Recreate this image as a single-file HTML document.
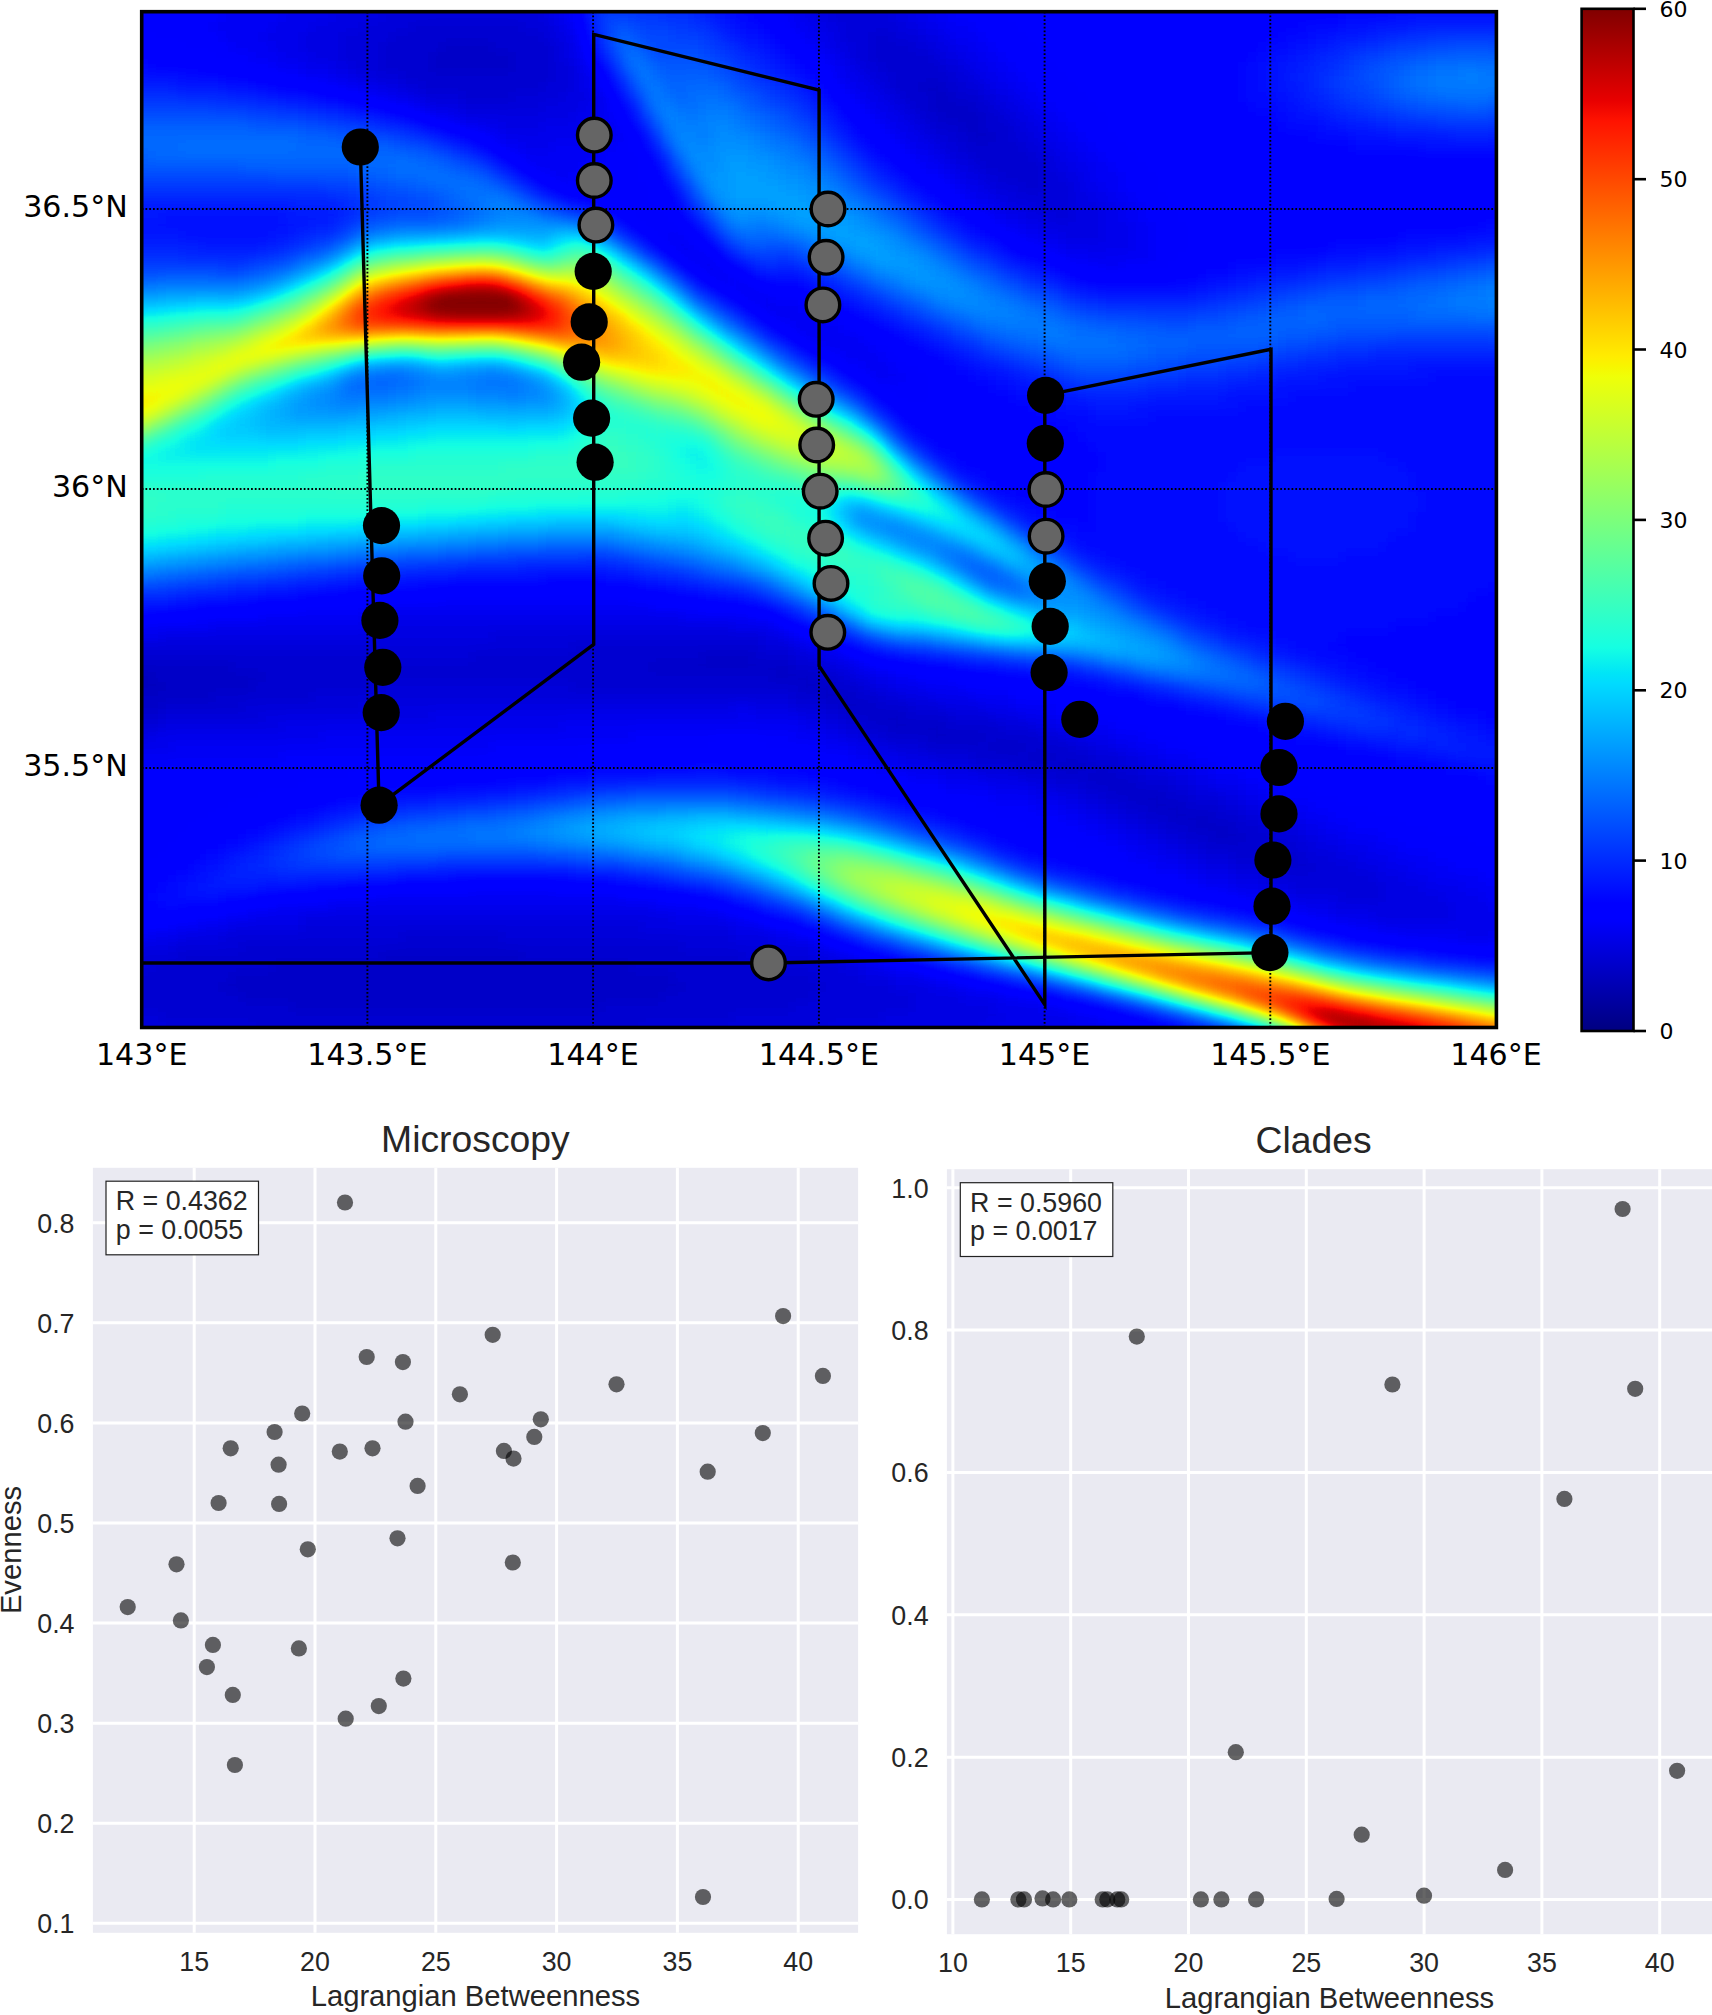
<!DOCTYPE html>
<html><head><meta charset="utf-8"><title>Figure</title>
<style>html,body{margin:0;padding:0;background:#fff}svg{display:block}</style>
</head><body>
<svg width="1712" height="2015" viewBox="0 0 1712 2015">
<rect width="1712" height="2015" fill="#fff"/>
<defs><clipPath id="mapclip"><rect x="141.7" y="11.7" width="1354.7" height="1015.8"/></clipPath><filter id="jet" filterUnits="userSpaceOnUse" x="131.7" y="1.7" width="1390" height="1050" color-interpolation-filters="sRGB"><feGaussianBlur stdDeviation="5.5"/><feComponentTransfer><feFuncR type="table" tableValues="0 0 0 0 0 0 0 0 0 0 0 0 0 0 0 0 0 0 0 0 0 0 0 0 0 0 0 0 0 0 0 0 0 0 0 0 0 0 0 0 0 0 0 0 0 0 0 0 0 0 0 0 0 0 0 0 0 0 0 0 0 0 0 0 0 0 0 0 0 0 0 0.016 0.032 0.048 0.065 0.081 0.097 0.113 0.129 0.145 0.161 0.177 0.194 0.21 0.226 0.242 0.258 0.274 0.29 0.306 0.323 0.339 0.355 0.371 0.387 0.403 0.419 0.435 0.452 0.468 0.484 0.5 0.516 0.532 0.548 0.565 0.581 0.597 0.613 0.629 0.645 0.661 0.677 0.694 0.71 0.726 0.742 0.758 0.774 0.79 0.806 0.823 0.839 0.855 0.871 0.887 0.903 0.919 0.935 0.952 0.968 0.984 1 1 1 1 1 1 1 1 1 1 1 1 1 1 1 1 1 1 1 1 1 1 1 1 1 1 1 1 1 1 1 1 1 1 1 1 1 1 1 1 1 1 1 1 1 1 1 0.977 0.955 0.932 0.909 0.886 0.864 0.841 0.818 0.795 0.773 0.75 0.727 0.705 0.682 0.659 0.636 0.614 0.591 0.568 0.545 0.523 0.5"/><feFuncG type="table" tableValues="0 0 0 0 0 0 0 0 0 0 0 0 0 0 0 0 0 0 0 0 0 0 0 0 0 0 0.02 0.04 0.06 0.08 0.1 0.12 0.14 0.16 0.18 0.2 0.22 0.24 0.26 0.28 0.3 0.32 0.34 0.36 0.38 0.4 0.42 0.44 0.46 0.48 0.5 0.52 0.54 0.56 0.58 0.6 0.62 0.64 0.66 0.68 0.7 0.72 0.74 0.76 0.78 0.8 0.82 0.84 0.86 0.88 0.9 0.92 0.94 0.96 0.98 1 1 1 1 1 1 1 1 1 1 1 1 1 1 1 1 1 1 1 1 1 1 1 1 1 1 1 1 1 1 1 1 1 1 1 1 1 1 1 1 1 1 1 1 1 1 1 1 1 1 1 1 1 1 0.981 0.963 0.944 0.926 0.907 0.889 0.87 0.852 0.833 0.815 0.796 0.778 0.759 0.741 0.722 0.704 0.685 0.667 0.648 0.63 0.611 0.593 0.574 0.556 0.537 0.519 0.5 0.481 0.463 0.444 0.426 0.407 0.389 0.37 0.352 0.333 0.315 0.296 0.278 0.259 0.241 0.222 0.204 0.185 0.167 0.148 0.13 0.111 0.093 0.074 0.056 0.037 0.019 0 0 0 0 0 0 0 0 0 0 0 0 0 0 0 0 0 0 0"/><feFuncB type="table" tableValues="0.5 0.523 0.545 0.568 0.591 0.614 0.636 0.659 0.682 0.705 0.727 0.75 0.773 0.795 0.818 0.841 0.864 0.886 0.909 0.932 0.955 0.977 1 1 1 1 1 1 1 1 1 1 1 1 1 1 1 1 1 1 1 1 1 1 1 1 1 1 1 1 1 1 1 1 1 1 1 1 1 1 1 1 1 1 1 1 1 1 1 0.984 0.968 0.952 0.935 0.919 0.903 0.887 0.871 0.855 0.839 0.823 0.806 0.79 0.774 0.758 0.742 0.726 0.71 0.694 0.677 0.661 0.645 0.629 0.613 0.597 0.581 0.565 0.548 0.532 0.516 0.5 0.484 0.468 0.452 0.435 0.419 0.403 0.387 0.371 0.355 0.339 0.323 0.306 0.29 0.274 0.258 0.242 0.226 0.21 0.194 0.177 0.161 0.145 0.129 0.113 0.097 0.081 0.065 0.048 0.032 0.016 0 0 0 0 0 0 0 0 0 0 0 0 0 0 0 0 0 0 0 0 0 0 0 0 0 0 0 0 0 0 0 0 0 0 0 0 0 0 0 0 0 0 0 0 0 0 0 0 0 0 0 0 0 0 0 0 0 0 0 0 0 0 0 0 0 0 0 0 0 0 0"/><feFuncA type="linear" slope="0" intercept="1"/></feComponentTransfer></filter>
<linearGradient id="cbg" x1="0" y1="0" x2="0" y2="1"><stop offset="0" stop-color="rgb(128,0,0)"/><stop offset="0.09" stop-color="rgb(232,0,0)"/><stop offset="0.11" stop-color="rgb(255,19,0)"/><stop offset="0.34" stop-color="rgb(255,236,0)"/><stop offset="0.35" stop-color="rgb(247,246,0)"/><stop offset="0.36" stop-color="rgb(239,255,8)"/><stop offset="0.625" stop-color="rgb(21,255,226)"/><stop offset="0.65" stop-color="rgb(0,229,247)"/><stop offset="0.66" stop-color="rgb(0,219,255)"/><stop offset="0.875" stop-color="rgb(0,0,255)"/><stop offset="0.89" stop-color="rgb(0,0,255)"/><stop offset="1" stop-color="rgb(0,0,128)"/></linearGradient></defs>
<g clip-path="url(#mapclip)"><g filter="url(#jet)"><g transform="translate(131.7 1.7) scale(10)" shape-rendering="crispEdges"><path fill="#0e0e0e" d="M0 67h2v1h-2zM0 68h3v1h-3z"/><path fill="#101010" d="M31 4h5v1h-5zM30 5h8v1h-8zM30 6h8v1h-8zM79 8h2v1h-2zM80 9h2v1h-2zM80 10h4v1h-4zM81 11h4v1h-4zM83 12h2v1h-2zM84 13h2v1h-2zM57 65h5v1h-5zM0 66h10v1h-10zM52 66h14v1h-14zM2 67h11v1h-11zM64 67h4v1h-4zM3 68h9v1h-9zM67 68h3v1h-3zM0 69h8v1h-8zM69 69h3v1h-3zM0 70h3v1h-3zM71 70h3v1h-3zM74 71h3v1h-3zM76 72h5v1h-5zM80 73h5v1h-5zM86 74h3v1h-3zM90 75h2v1h-2zM93 76h2v1h-2zM96 77h2v1h-2zM98 78h2v1h-2zM100 79h3v1h-3zM102 80h3v1h-3zM104 81h4v1h-4zM106 82h4v1h-4zM108 83h3v1h-3zM25 95h14v1h-14zM14 96h36v1h-36zM10 97h44v1h-44zM9 98h46v1h-46zM11 99h42v1h-42zM16 100h31v1h-31z"/><path fill="#121212" d="M28 2h11v1h-11zM26 3h15v1h-15zM74 3h2v1h-2zM25 4h6v1h-6zM36 4h6v1h-6zM74 4h4v1h-4zM25 5h5v1h-5zM38 5h4v1h-4zM74 5h6v1h-6zM25 6h5v1h-5zM38 6h4v1h-4zM75 6h6v1h-6zM27 7h15v1h-15zM76 7h6v1h-6zM29 8h12v1h-12zM76 8h3v1h-3zM81 8h2v1h-2zM33 9h5v1h-5zM77 9h3v1h-3zM82 9h3v1h-3zM78 10h2v1h-2zM84 10h2v1h-2zM79 11h2v1h-2zM85 11h2v1h-2zM80 12h3v1h-3zM85 12h3v1h-3zM82 13h2v1h-2zM86 13h2v1h-2zM83 14h6v1h-6zM84 15h6v1h-6zM85 16h6v1h-6zM87 17h4v1h-4zM89 18h2v1h-2zM44 64h19v1h-19zM0 65h24v1h-24zM34 65h23v1h-23zM62 65h4v1h-4zM10 66h42v1h-42zM66 66h3v1h-3zM13 67h51v1h-51zM68 67h3v1h-3zM12 68h13v1h-13zM44 68h23v1h-23zM70 68h3v1h-3zM8 69h10v1h-10zM66 69h3v1h-3zM72 69h3v1h-3zM3 70h8v1h-8zM69 70h2v1h-2zM74 70h4v1h-4zM0 71h3v1h-3zM71 71h3v1h-3zM77 71h5v1h-5zM73 72h3v1h-3zM81 72h6v1h-6zM75 73h5v1h-5zM85 73h6v1h-6zM79 74h7v1h-7zM89 74h5v1h-5zM84 75h6v1h-6zM92 75h4v1h-4zM88 76h5v1h-5zM95 76h4v1h-4zM92 77h4v1h-4zM98 77h3v1h-3zM95 78h3v1h-3zM100 78h4v1h-4zM97 79h3v1h-3zM103 79h3v1h-3zM99 80h3v1h-3zM105 80h4v1h-4zM101 81h3v1h-3zM108 81h3v1h-3zM103 82h3v1h-3zM110 82h3v1h-3zM105 83h3v1h-3zM111 83h3v1h-3zM107 84h9v1h-9zM110 85h7v1h-7zM113 86h5v1h-5zM27 93h10v1h-10zM11 94h44v1h-44zM5 95h20v1h-20zM39 95h22v1h-22zM2 96h12v1h-12zM50 96h15v1h-15zM0 97h10v1h-10zM54 97h14v1h-14zM0 98h9v1h-9zM55 98h14v1h-14zM0 99h11v1h-11zM53 99h15v1h-15zM0 100h16v1h-16zM47 100h19v1h-19zM3 101h57v1h-57zM12 102h39v1h-39z"/><path fill="#141414" d="M30 0h8v1h-8zM70 0h4v1h-4zM25 1h16v1h-16zM70 1h6v1h-6zM23 2h5v1h-5zM39 2h3v1h-3zM71 2h6v1h-6zM21 3h5v1h-5zM41 3h1v1h-1zM71 3h3v1h-3zM76 3h3v1h-3zM21 4h4v1h-4zM42 4h1v1h-1zM72 4h2v1h-2zM78 4h2v1h-2zM21 5h4v1h-4zM42 5h1v1h-1zM72 5h2v1h-2zM80 5h1v1h-1zM22 6h3v1h-3zM42 6h2v1h-2zM73 6h2v1h-2zM81 6h2v1h-2zM24 7h3v1h-3zM42 7h2v1h-2zM74 7h2v1h-2zM82 7h2v1h-2zM27 8h2v1h-2zM41 8h3v1h-3zM75 8h1v1h-1zM83 8h2v1h-2zM29 9h4v1h-4zM38 9h5v1h-5zM76 9h1v1h-1zM85 9h1v1h-1zM33 10h8v1h-8zM77 10h1v1h-1zM86 10h1v1h-1zM78 11h1v1h-1zM87 11h1v1h-1zM79 12h1v1h-1zM88 12h1v1h-1zM80 13h2v1h-2zM88 13h2v1h-2zM81 14h2v1h-2zM89 14h2v1h-2zM82 15h2v1h-2zM90 15h2v1h-2zM84 16h1v1h-1zM91 16h1v1h-1zM85 17h2v1h-2zM91 17h2v1h-2zM86 18h3v1h-3zM91 18h3v1h-3zM88 19h6v1h-6zM90 20h4v1h-4zM92 21h2v1h-2zM36 63h27v1h-27zM0 64h44v1h-44zM63 64h3v1h-3zM24 65h10v1h-10zM66 65h2v1h-2zM69 66h1v1h-1zM71 67h1v1h-1zM25 68h19v1h-19zM73 68h1v1h-1zM18 69h48v1h-48zM75 69h2v1h-2zM11 70h12v1h-12zM66 70h3v1h-3zM78 70h3v1h-3zM3 71h10v1h-10zM69 71h2v1h-2zM82 71h4v1h-4zM0 72h3v1h-3zM71 72h2v1h-2zM87 72h3v1h-3zM73 73h2v1h-2zM91 73h2v1h-2zM76 74h3v1h-3zM94 74h2v1h-2zM80 75h4v1h-4zM96 75h3v1h-3zM84 76h4v1h-4zM99 76h2v1h-2zM89 77h3v1h-3zM101 77h3v1h-3zM92 78h3v1h-3zM104 78h2v1h-2zM95 79h2v1h-2zM106 79h3v1h-3zM97 80h2v1h-2zM109 80h2v1h-2zM99 81h2v1h-2zM111 81h2v1h-2zM101 82h2v1h-2zM113 82h2v1h-2zM103 83h2v1h-2zM114 83h3v1h-3zM105 84h2v1h-2zM116 84h2v1h-2zM107 85h3v1h-3zM117 85h3v1h-3zM110 86h3v1h-3zM118 86h4v1h-4zM113 87h11v1h-11zM116 88h9v1h-9zM121 89h4v1h-4zM17 92h34v1h-34zM9 93h18v1h-18zM37 93h23v1h-23zM4 94h7v1h-7zM55 94h9v1h-9zM0 95h5v1h-5zM61 95h7v1h-7zM0 96h2v1h-2zM65 96h6v1h-6zM68 97h5v1h-5zM69 98h7v1h-7zM68 99h10v1h-10zM66 100h12v1h-12zM0 101h3v1h-3zM60 101h15v1h-15zM0 102h12v1h-12zM51 102h19v1h-19zM2 103h60v1h-60zM16 104h32v1h-32z"/><path fill="#161616" d="M22 0h8v1h-8zM38 0h4v1h-4zM68 0h2v1h-2zM74 0h2v1h-2zM20 1h5v1h-5zM41 1h1v1h-1zM68 1h2v1h-2zM76 1h2v1h-2zM18 2h5v1h-5zM42 2h1v1h-1zM69 2h2v1h-2zM77 2h2v1h-2zM17 3h4v1h-4zM42 3h2v1h-2zM70 3h1v1h-1zM79 3h2v1h-2zM17 4h4v1h-4zM43 4h1v1h-1zM70 4h2v1h-2zM80 4h2v1h-2zM18 5h3v1h-3zM43 5h1v1h-1zM71 5h1v1h-1zM81 5h2v1h-2zM20 6h2v1h-2zM44 6h1v1h-1zM72 6h1v1h-1zM83 6h1v1h-1zM22 7h2v1h-2zM44 7h1v1h-1zM73 7h1v1h-1zM84 7h1v1h-1zM25 8h2v1h-2zM44 8h1v1h-1zM74 8h1v1h-1zM85 8h1v1h-1zM28 9h1v1h-1zM43 9h3v1h-3zM75 9h1v1h-1zM86 9h2v1h-2zM30 10h3v1h-3zM41 10h4v1h-4zM76 10h1v1h-1zM87 10h2v1h-2zM33 11h11v1h-11zM77 11h1v1h-1zM88 11h2v1h-2zM37 12h4v1h-4zM78 12h1v1h-1zM89 12h2v1h-2zM79 13h1v1h-1zM90 13h1v1h-1zM80 14h1v1h-1zM91 14h1v1h-1zM81 15h1v1h-1zM92 15h1v1h-1zM82 16h2v1h-2zM92 16h2v1h-2zM83 17h2v1h-2zM93 17h2v1h-2zM85 18h1v1h-1zM94 18h1v1h-1zM86 19h2v1h-2zM94 19h2v1h-2zM87 20h3v1h-3zM94 20h3v1h-3zM89 21h3v1h-3zM94 21h3v1h-3zM91 22h6v1h-6zM93 23h4v1h-4zM24 62h36v1h-36zM3 63h33v1h-33zM63 63h2v1h-2zM66 64h1v1h-1zM68 65h1v1h-1zM70 66h2v1h-2zM72 67h2v1h-2zM74 68h2v1h-2zM77 69h3v1h-3zM23 70h37v1h-37zM62 70h4v1h-4zM81 70h4v1h-4zM13 71h17v1h-17zM67 71h2v1h-2zM86 71h3v1h-3zM3 72h12v1h-12zM69 72h2v1h-2zM90 72h2v1h-2zM0 73h2v1h-2zM71 73h2v1h-2zM93 73h2v1h-2zM74 74h2v1h-2zM96 74h2v1h-2zM77 75h3v1h-3zM99 75h2v1h-2zM81 76h3v1h-3zM101 76h2v1h-2zM85 77h4v1h-4zM104 77h2v1h-2zM90 78h2v1h-2zM106 78h2v1h-2zM93 79h2v1h-2zM109 79h2v1h-2zM95 80h2v1h-2zM111 80h2v1h-2zM97 81h2v1h-2zM113 81h2v1h-2zM99 82h2v1h-2zM115 82h2v1h-2zM101 83h2v1h-2zM117 83h2v1h-2zM103 84h2v1h-2zM118 84h3v1h-3zM105 85h2v1h-2zM120 85h3v1h-3zM107 86h3v1h-3zM122 86h3v1h-3zM110 87h3v1h-3zM124 87h3v1h-3zM113 88h3v1h-3zM125 88h4v1h-4zM116 89h5v1h-5zM125 89h6v1h-6zM120 90h12v1h-12zM17 91h37v1h-37zM124 91h8v1h-8zM10 92h7v1h-7zM51 92h9v1h-9zM5 93h4v1h-4zM60 93h4v1h-4zM1 94h3v1h-3zM64 94h4v1h-4zM68 95h2v1h-2zM71 96h2v1h-2zM73 97h3v1h-3zM76 98h4v1h-4zM78 99h5v1h-5zM78 100h8v1h-8zM75 101h12v1h-12zM70 102h15v1h-15zM0 103h2v1h-2zM62 103h18v1h-18zM0 104h16v1h-16zM48 104h24v1h-24z"/><path fill="#181818" d="M16 0h6v1h-6zM42 0h1v1h-1zM66 0h2v1h-2zM76 0h3v1h-3zM15 1h5v1h-5zM42 1h1v1h-1zM67 1h1v1h-1zM78 1h2v1h-2zM14 2h4v1h-4zM43 2h1v1h-1zM68 2h1v1h-1zM79 2h2v1h-2zM13 3h4v1h-4zM68 3h2v1h-2zM81 3h1v1h-1zM14 4h3v1h-3zM44 4h1v1h-1zM69 4h1v1h-1zM82 4h2v1h-2zM15 5h3v1h-3zM44 5h1v1h-1zM70 5h1v1h-1zM83 5h2v1h-2zM17 6h3v1h-3zM71 6h1v1h-1zM84 6h2v1h-2zM20 7h2v1h-2zM45 7h1v1h-1zM71 7h2v1h-2zM85 7h2v1h-2zM23 8h2v1h-2zM45 8h1v1h-1zM72 8h2v1h-2zM86 8h2v1h-2zM26 9h2v1h-2zM46 9h1v1h-1zM73 9h2v1h-2zM88 9h1v1h-1zM29 10h1v1h-1zM45 10h2v1h-2zM74 10h2v1h-2zM89 10h1v1h-1zM32 11h1v1h-1zM44 11h3v1h-3zM75 11h2v1h-2zM90 11h1v1h-1zM35 12h2v1h-2zM41 12h5v1h-5zM76 12h2v1h-2zM91 12h1v1h-1zM37 13h8v1h-8zM77 13h2v1h-2zM91 13h2v1h-2zM39 14h3v1h-3zM78 14h2v1h-2zM92 14h2v1h-2zM80 15h1v1h-1zM93 15h2v1h-2zM81 16h1v1h-1zM94 16h2v1h-2zM82 17h1v1h-1zM95 17h1v1h-1zM83 18h2v1h-2zM95 18h2v1h-2zM84 19h2v1h-2zM96 19h2v1h-2zM86 20h1v1h-1zM97 20h2v1h-2zM87 21h2v1h-2zM97 21h2v1h-2zM89 22h2v1h-2zM97 22h3v1h-3zM91 23h2v1h-2zM97 23h3v1h-3zM93 24h7v1h-7zM96 25h1v1h-1zM23 61h32v1h-32zM8 62h16v1h-16zM60 62h4v1h-4zM0 63h3v1h-3zM65 63h1v1h-1zM67 64h2v1h-2zM69 65h2v1h-2zM72 66h1v1h-1zM74 67h2v1h-2zM76 68h3v1h-3zM80 69h4v1h-4zM60 70h2v1h-2zM85 70h3v1h-3zM30 71h31v1h-31zM62 71h5v1h-5zM89 71h3v1h-3zM15 72h28v1h-28zM67 72h2v1h-2zM92 72h3v1h-3zM2 73h17v1h-17zM69 73h2v1h-2zM95 73h3v1h-3zM0 74h4v1h-4zM72 74h2v1h-2zM98 74h2v1h-2zM74 75h3v1h-3zM101 75h2v1h-2zM77 76h4v1h-4zM103 76h3v1h-3zM81 77h4v1h-4zM106 77h2v1h-2zM86 78h4v1h-4zM108 78h3v1h-3zM90 79h3v1h-3zM111 79h2v1h-2zM93 80h2v1h-2zM113 80h2v1h-2zM95 81h2v1h-2zM115 81h2v1h-2zM97 82h2v1h-2zM117 82h2v1h-2zM99 83h2v1h-2zM119 83h2v1h-2zM101 84h2v1h-2zM121 84h3v1h-3zM103 85h2v1h-2zM123 85h3v1h-3zM105 86h2v1h-2zM125 86h3v1h-3zM107 87h3v1h-3zM127 87h3v1h-3zM110 88h3v1h-3zM129 88h4v1h-4zM113 89h3v1h-3zM131 89h4v1h-4zM20 90h32v1h-32zM117 90h3v1h-3zM132 90h4v1h-4zM12 91h5v1h-5zM54 91h5v1h-5zM120 91h4v1h-4zM132 91h7v1h-7zM7 92h3v1h-3zM60 92h3v1h-3zM125 92h14v1h-14zM2 93h3v1h-3zM64 93h2v1h-2zM133 93h3v1h-3zM0 94h1v1h-1zM68 94h1v1h-1zM70 95h2v1h-2zM73 96h2v1h-2zM76 97h3v1h-3zM80 98h2v1h-2zM83 99h4v1h-4zM86 100h5v1h-5zM87 101h7v1h-7zM85 102h11v1h-11zM80 103h16v1h-16zM72 104h19v1h-19z"/><path fill="#1a1a1a" d="M9 0h7v1h-7zM43 0h1v1h-1zM65 0h1v1h-1zM79 0h2v1h-2zM9 1h6v1h-6zM43 1h1v1h-1zM66 1h1v1h-1zM80 1h2v1h-2zM8 2h6v1h-6zM66 2h2v1h-2zM81 2h3v1h-3zM9 3h4v1h-4zM44 3h1v1h-1zM67 3h1v1h-1zM82 3h3v1h-3zM10 4h4v1h-4zM68 4h1v1h-1zM84 4h2v1h-2zM12 5h3v1h-3zM69 5h1v1h-1zM85 5h2v1h-2zM14 6h3v1h-3zM45 6h1v1h-1zM70 6h1v1h-1zM86 6h2v1h-2zM17 7h3v1h-3zM46 7h1v1h-1zM70 7h1v1h-1zM87 7h2v1h-2zM21 8h2v1h-2zM46 8h1v1h-1zM71 8h1v1h-1zM88 8h2v1h-2zM24 9h2v1h-2zM47 9h1v1h-1zM72 9h1v1h-1zM89 9h2v1h-2zM28 10h1v1h-1zM47 10h1v1h-1zM73 10h1v1h-1zM90 10h2v1h-2zM30 11h2v1h-2zM47 11h1v1h-1zM74 11h1v1h-1zM91 11h2v1h-2zM33 12h2v1h-2zM46 12h3v1h-3zM75 12h1v1h-1zM92 12h2v1h-2zM36 13h1v1h-1zM45 13h4v1h-4zM76 13h1v1h-1zM93 13h2v1h-2zM37 14h2v1h-2zM42 14h6v1h-6zM77 14h1v1h-1zM94 14h2v1h-2zM39 15h8v1h-8zM78 15h2v1h-2zM95 15h2v1h-2zM40 16h5v1h-5zM79 16h2v1h-2zM96 16h2v1h-2zM42 17h2v1h-2zM81 17h1v1h-1zM96 17h3v1h-3zM82 18h1v1h-1zM97 18h2v1h-2zM83 19h1v1h-1zM98 19h2v1h-2zM84 20h2v1h-2zM99 20h2v1h-2zM86 21h1v1h-1zM99 21h2v1h-2zM87 22h2v1h-2zM100 22h2v1h-2zM54 23h1v1h-1zM89 23h2v1h-2zM100 23h2v1h-2zM54 24h2v1h-2zM91 24h2v1h-2zM100 24h2v1h-2zM55 25h3v1h-3zM93 25h3v1h-3zM97 25h5v1h-5zM57 26h2v1h-2zM97 26h2v1h-2zM58 27h2v1h-2zM60 28h2v1h-2zM61 29h3v1h-3zM63 30h4v1h-4zM64 31h5v1h-5zM66 32h5v1h-5zM67 33h6v1h-6zM69 34h5v1h-5zM71 35h4v1h-4zM73 36h3v1h-3zM74 37h3v1h-3zM26 60h26v1h-26zM13 61h10v1h-10zM55 61h7v1h-7zM1 62h7v1h-7zM64 62h1v1h-1zM66 63h1v1h-1zM69 64h1v1h-1zM71 65h1v1h-1zM73 66h1v1h-1zM76 67h2v1h-2zM79 68h4v1h-4zM84 69h4v1h-4zM88 70h4v1h-4zM61 71h1v1h-1zM92 71h3v1h-3zM43 72h24v1h-24zM95 72h3v1h-3zM19 73h31v1h-31zM66 73h3v1h-3zM98 73h3v1h-3zM4 74h32v1h-32zM69 74h3v1h-3zM100 74h3v1h-3zM0 75h15v1h-15zM72 75h2v1h-2zM103 75h3v1h-3zM74 76h3v1h-3zM106 76h2v1h-2zM78 77h3v1h-3zM108 77h3v1h-3zM81 78h5v1h-5zM111 78h2v1h-2zM86 79h4v1h-4zM113 79h2v1h-2zM90 80h3v1h-3zM115 80h3v1h-3zM93 81h2v1h-2zM117 81h3v1h-3zM95 82h2v1h-2zM119 82h3v1h-3zM97 83h2v1h-2zM121 83h4v1h-4zM99 84h2v1h-2zM124 84h3v1h-3zM100 85h3v1h-3zM126 85h4v1h-4zM102 86h3v1h-3zM128 86h4v1h-4zM105 87h2v1h-2zM130 87h5v1h-5zM107 88h3v1h-3zM133 88h6v1h-6zM24 89h25v1h-25zM111 89h2v1h-2zM135 89h4v1h-4zM14 90h6v1h-6zM52 90h5v1h-5zM115 90h2v1h-2zM136 90h3v1h-3zM9 91h3v1h-3zM59 91h2v1h-2zM118 91h2v1h-2zM4 92h3v1h-3zM63 92h1v1h-1zM122 92h3v1h-3zM0 93h2v1h-2zM66 93h2v1h-2zM127 93h6v1h-6zM136 93h3v1h-3zM69 94h1v1h-1zM72 95h1v1h-1zM75 96h1v1h-1zM79 97h1v1h-1zM82 98h2v1h-2zM87 99h2v1h-2zM91 100h2v1h-2zM94 101h3v1h-3zM96 102h4v1h-4zM96 103h7v1h-7zM91 104h15v1h-15z"/><path fill="#1c1c1c" d="M0 0h9v1h-9zM63 0h2v1h-2zM81 0h6v1h-6zM0 1h9v1h-9zM44 1h1v1h-1zM64 1h2v1h-2zM82 1h6v1h-6zM0 2h8v1h-8zM44 2h1v1h-1zM65 2h1v1h-1zM84 2h5v1h-5zM2 3h7v1h-7zM66 3h1v1h-1zM85 3h5v1h-5zM5 4h5v1h-5zM67 4h1v1h-1zM86 4h5v1h-5zM8 5h4v1h-4zM45 5h1v1h-1zM68 5h1v1h-1zM87 5h5v1h-5zM11 6h3v1h-3zM69 6h1v1h-1zM88 6h5v1h-5zM15 7h2v1h-2zM89 7h5v1h-5zM19 8h2v1h-2zM70 8h1v1h-1zM90 8h5v1h-5zM23 9h1v1h-1zM71 9h1v1h-1zM91 9h5v1h-5zM26 10h2v1h-2zM72 10h1v1h-1zM92 10h5v1h-5zM29 11h1v1h-1zM48 11h1v1h-1zM73 11h1v1h-1zM93 11h5v1h-5zM32 12h1v1h-1zM74 12h1v1h-1zM94 12h4v1h-4zM35 13h1v1h-1zM49 13h1v1h-1zM75 13h1v1h-1zM95 13h4v1h-4zM36 14h1v1h-1zM48 14h2v1h-2zM76 14h1v1h-1zM96 14h4v1h-4zM38 15h1v1h-1zM47 15h4v1h-4zM77 15h1v1h-1zM97 15h4v1h-4zM39 16h1v1h-1zM45 16h6v1h-6zM78 16h1v1h-1zM98 16h4v1h-4zM41 17h1v1h-1zM44 17h7v1h-7zM79 17h2v1h-2zM99 17h4v1h-4zM43 18h9v1h-9zM81 18h1v1h-1zM99 18h4v1h-4zM47 19h5v1h-5zM82 19h1v1h-1zM100 19h4v1h-4zM49 20h4v1h-4zM83 20h1v1h-1zM101 20h4v1h-4zM50 21h4v1h-4zM85 21h1v1h-1zM101 21h4v1h-4zM51 22h4v1h-4zM86 22h1v1h-1zM102 22h4v1h-4zM52 23h2v1h-2zM55 23h1v1h-1zM88 23h1v1h-1zM102 23h4v1h-4zM53 24h1v1h-1zM56 24h1v1h-1zM90 24h1v1h-1zM102 24h4v1h-4zM92 25h1v1h-1zM102 25h3v1h-3zM56 26h1v1h-1zM94 26h3v1h-3zM99 26h5v1h-5zM57 27h1v1h-1zM60 27h1v1h-1zM59 28h1v1h-1zM62 28h1v1h-1zM64 29h3v1h-3zM62 30h1v1h-1zM67 30h2v1h-2zM63 31h1v1h-1zM69 31h2v1h-2zM65 32h1v1h-1zM71 32h1v1h-1zM66 33h1v1h-1zM73 33h1v1h-1zM68 34h1v1h-1zM74 34h2v1h-2zM70 35h1v1h-1zM75 35h2v1h-2zM71 36h2v1h-2zM76 36h3v1h-3zM73 37h1v1h-1zM77 37h3v1h-3zM74 38h6v1h-6zM76 39h4v1h-4zM78 40h1v1h-1zM31 59h19v1h-19zM17 60h9v1h-9zM52 60h5v1h-5zM6 61h7v1h-7zM62 61h2v1h-2zM0 62h1v1h-1zM65 62h1v1h-1zM67 63h1v1h-1zM70 64h1v1h-1zM72 65h1v1h-1zM74 66h2v1h-2zM78 67h4v1h-4zM83 68h5v1h-5zM88 69h4v1h-4zM92 70h4v1h-4zM95 71h4v1h-4zM98 72h4v1h-4zM50 73h16v1h-16zM101 73h4v1h-4zM36 74h22v1h-22zM63 74h6v1h-6zM103 74h5v1h-5zM15 75h30v1h-30zM68 75h4v1h-4zM106 75h4v1h-4zM0 76h35v1h-35zM71 76h3v1h-3zM108 76h5v1h-5zM0 77h22v1h-22zM74 77h4v1h-4zM111 77h4v1h-4zM0 78h17v1h-17zM77 78h4v1h-4zM113 78h5v1h-5zM0 79h13v1h-13zM81 79h5v1h-5zM115 79h6v1h-6zM0 80h10v1h-10zM84 80h6v1h-6zM118 80h6v1h-6zM0 81h8v1h-8zM86 81h7v1h-7zM120 81h7v1h-7zM0 82h6v1h-6zM89 82h6v1h-6zM122 82h8v1h-8zM0 83h5v1h-5zM91 83h6v1h-6zM125 83h9v1h-9zM0 84h4v1h-4zM94 84h5v1h-5zM127 84h12v1h-12zM0 85h3v1h-3zM97 85h3v1h-3zM130 85h9v1h-9zM0 86h1v1h-1zM99 86h3v1h-3zM132 86h7v1h-7zM102 87h3v1h-3zM135 87h4v1h-4zM34 88h8v1h-8zM105 88h2v1h-2zM19 89h5v1h-5zM49 89h4v1h-4zM109 89h2v1h-2zM11 90h3v1h-3zM57 90h2v1h-2zM113 90h2v1h-2zM6 91h3v1h-3zM61 91h1v1h-1zM116 91h2v1h-2zM0 92h4v1h-4zM64 92h2v1h-2zM120 92h2v1h-2zM68 93h1v1h-1zM124 93h3v1h-3zM70 94h1v1h-1zM131 94h8v1h-8zM73 95h1v1h-1zM76 96h2v1h-2zM80 97h2v1h-2zM84 98h2v1h-2zM89 99h2v1h-2zM93 100h2v1h-2zM97 101h2v1h-2zM100 102h2v1h-2zM103 103h3v1h-3zM106 104h3v1h-3z"/><path fill="#1e1e1e" d="M44 0h1v1h-1zM62 0h1v1h-1zM87 0h32v1h-32zM63 1h1v1h-1zM88 1h27v1h-27zM64 2h1v1h-1zM89 2h24v1h-24zM0 3h2v1h-2zM65 3h1v1h-1zM90 3h20v1h-20zM0 4h5v1h-5zM45 4h1v1h-1zM66 4h1v1h-1zM91 4h18v1h-18zM2 5h6v1h-6zM67 5h1v1h-1zM92 5h16v1h-16zM7 6h4v1h-4zM46 6h1v1h-1zM68 6h1v1h-1zM93 6h14v1h-14zM12 7h3v1h-3zM69 7h1v1h-1zM94 7h13v1h-13zM17 8h2v1h-2zM47 8h1v1h-1zM95 8h12v1h-12zM21 9h2v1h-2zM70 9h1v1h-1zM96 9h11v1h-11zM25 10h1v1h-1zM48 10h1v1h-1zM71 10h1v1h-1zM97 10h11v1h-11zM28 11h1v1h-1zM72 11h1v1h-1zM98 11h11v1h-11zM31 12h1v1h-1zM49 12h1v1h-1zM73 12h1v1h-1zM98 12h13v1h-13zM34 13h1v1h-1zM50 13h1v1h-1zM74 13h1v1h-1zM99 13h14v1h-14zM50 14h1v1h-1zM75 14h1v1h-1zM100 14h16v1h-16zM37 15h1v1h-1zM51 15h1v1h-1zM76 15h1v1h-1zM101 15h19v1h-19zM51 16h1v1h-1zM77 16h1v1h-1zM102 16h25v1h-25zM40 17h1v1h-1zM51 17h2v1h-2zM78 17h1v1h-1zM103 17h36v1h-36zM42 18h1v1h-1zM52 18h1v1h-1zM80 18h1v1h-1zM103 18h36v1h-36zM45 19h2v1h-2zM52 19h2v1h-2zM81 19h1v1h-1zM104 19h35v1h-35zM47 20h2v1h-2zM53 20h1v1h-1zM82 20h1v1h-1zM105 20h34v1h-34zM49 21h1v1h-1zM54 21h1v1h-1zM84 21h1v1h-1zM105 21h27v1h-27zM50 22h1v1h-1zM55 22h1v1h-1zM85 22h1v1h-1zM106 22h18v1h-18zM56 23h1v1h-1zM87 23h1v1h-1zM106 23h11v1h-11zM57 24h1v1h-1zM88 24h2v1h-2zM106 24h6v1h-6zM54 25h1v1h-1zM58 25h1v1h-1zM91 25h1v1h-1zM105 25h4v1h-4zM55 26h1v1h-1zM59 26h1v1h-1zM93 26h1v1h-1zM104 26h3v1h-3zM61 27h1v1h-1zM95 27h9v1h-9zM58 28h1v1h-1zM63 28h1v1h-1zM60 29h1v1h-1zM67 29h1v1h-1zM61 30h1v1h-1zM69 30h1v1h-1zM71 31h1v1h-1zM64 32h1v1h-1zM72 32h2v1h-2zM74 33h2v1h-2zM67 34h1v1h-1zM76 34h1v1h-1zM69 35h1v1h-1zM77 35h2v1h-2zM79 36h2v1h-2zM72 37h1v1h-1zM80 37h2v1h-2zM80 38h3v1h-3zM75 39h1v1h-1zM80 39h4v1h-4zM76 40h2v1h-2zM79 40h6v1h-6zM77 41h8v1h-8zM79 42h6v1h-6zM81 43h4v1h-4zM83 44h1v1h-1zM42 58h5v1h-5zM21 59h10v1h-10zM50 59h4v1h-4zM12 60h5v1h-5zM57 60h4v1h-4zM2 61h4v1h-4zM64 61h1v1h-1zM66 62h1v1h-1zM68 63h1v1h-1zM73 65h1v1h-1zM76 66h3v1h-3zM82 67h4v1h-4zM138 67h1v1h-1zM88 68h5v1h-5zM136 68h3v1h-3zM92 69h5v1h-5zM136 69h3v1h-3zM96 70h5v1h-5zM99 71h6v1h-6zM102 72h7v1h-7zM105 73h7v1h-7zM58 74h5v1h-5zM108 74h8v1h-8zM45 75h23v1h-23zM110 75h11v1h-11zM35 76h10v1h-10zM67 76h4v1h-4zM113 76h13v1h-13zM22 77h14v1h-14zM71 77h3v1h-3zM115 77h16v1h-16zM17 78h8v1h-8zM74 78h3v1h-3zM118 78h17v1h-17zM13 79h7v1h-7zM77 79h4v1h-4zM121 79h18v1h-18zM10 80h6v1h-6zM81 80h3v1h-3zM124 80h15v1h-15zM8 81h6v1h-6zM83 81h3v1h-3zM127 81h12v1h-12zM6 82h5v1h-5zM86 82h3v1h-3zM130 82h9v1h-9zM5 83h4v1h-4zM88 83h3v1h-3zM134 83h5v1h-5zM4 84h3v1h-3zM90 84h4v1h-4zM3 85h3v1h-3zM93 85h4v1h-4zM1 86h3v1h-3zM96 86h3v1h-3zM0 87h2v1h-2zM99 87h3v1h-3zM0 88h1v1h-1zM26 88h8v1h-8zM42 88h6v1h-6zM103 88h2v1h-2zM15 89h4v1h-4zM53 89h3v1h-3zM106 89h3v1h-3zM9 90h2v1h-2zM59 90h1v1h-1zM111 90h2v1h-2zM2 91h4v1h-4zM62 91h1v1h-1zM115 91h1v1h-1zM66 92h1v1h-1zM118 92h2v1h-2zM122 93h2v1h-2zM71 94h1v1h-1zM129 94h2v1h-2zM74 95h1v1h-1zM78 96h1v1h-1zM82 97h1v1h-1zM86 98h1v1h-1zM91 99h1v1h-1zM95 100h1v1h-1zM99 101h1v1h-1zM102 102h2v1h-2zM106 103h1v1h-1zM109 104h2v1h-2z"/><path fill="#202020" d="M61 0h1v1h-1zM119 0h9v1h-9zM62 1h1v1h-1zM115 1h6v1h-6zM63 2h1v1h-1zM113 2h4v1h-4zM45 3h1v1h-1zM64 3h1v1h-1zM110 3h5v1h-5zM65 4h1v1h-1zM109 4h4v1h-4zM0 5h2v1h-2zM66 5h1v1h-1zM108 5h4v1h-4zM2 6h5v1h-5zM67 6h1v1h-1zM107 6h4v1h-4zM9 7h3v1h-3zM47 7h1v1h-1zM68 7h1v1h-1zM107 7h4v1h-4zM14 8h3v1h-3zM69 8h1v1h-1zM107 8h4v1h-4zM19 9h2v1h-2zM48 9h1v1h-1zM107 9h4v1h-4zM23 10h2v1h-2zM108 10h4v1h-4zM27 11h1v1h-1zM49 11h1v1h-1zM71 11h1v1h-1zM109 11h5v1h-5zM30 12h1v1h-1zM72 12h1v1h-1zM111 12h4v1h-4zM33 13h1v1h-1zM73 13h1v1h-1zM113 13h5v1h-5zM35 14h1v1h-1zM74 14h1v1h-1zM116 14h6v1h-6zM75 15h1v1h-1zM120 15h19v1h-19zM38 16h1v1h-1zM52 16h1v1h-1zM76 16h1v1h-1zM127 16h12v1h-12zM41 18h1v1h-1zM53 18h1v1h-1zM79 18h1v1h-1zM43 19h2v1h-2zM80 19h1v1h-1zM54 20h1v1h-1zM81 20h1v1h-1zM48 21h1v1h-1zM83 21h1v1h-1zM132 21h7v1h-7zM84 22h1v1h-1zM124 22h11v1h-11zM51 23h1v1h-1zM86 23h1v1h-1zM117 23h10v1h-10zM52 24h1v1h-1zM87 24h1v1h-1zM112 24h8v1h-8zM89 25h2v1h-2zM109 25h5v1h-5zM60 26h1v1h-1zM92 26h1v1h-1zM107 26h3v1h-3zM56 27h1v1h-1zM94 27h1v1h-1zM104 27h3v1h-3zM64 28h3v1h-3zM59 29h1v1h-1zM68 29h1v1h-1zM70 30h1v1h-1zM62 31h1v1h-1zM72 31h1v1h-1zM74 32h1v1h-1zM65 33h1v1h-1zM76 33h1v1h-1zM77 34h2v1h-2zM68 35h1v1h-1zM79 35h2v1h-2zM70 36h1v1h-1zM81 36h1v1h-1zM82 37h2v1h-2zM73 38h1v1h-1zM83 38h3v1h-3zM74 39h1v1h-1zM84 39h4v1h-4zM137 39h2v1h-2zM85 40h5v1h-5zM137 40h2v1h-2zM85 41h7v1h-7zM137 41h2v1h-2zM78 42h1v1h-1zM85 42h9v1h-9zM138 42h1v1h-1zM79 43h2v1h-2zM85 43h10v1h-10zM80 44h3v1h-3zM84 44h12v1h-12zM82 45h15v1h-15zM83 46h14v1h-14zM85 47h11v1h-11zM86 48h10v1h-10zM88 49h8v1h-8zM90 50h6v1h-6zM92 51h4v1h-4zM95 52h1v1h-1zM138 56h1v1h-1zM137 57h2v1h-2zM29 58h13v1h-13zM47 58h4v1h-4zM136 58h3v1h-3zM17 59h4v1h-4zM54 59h3v1h-3zM134 59h5v1h-5zM7 60h5v1h-5zM61 60h2v1h-2zM133 60h6v1h-6zM0 61h2v1h-2zM130 61h9v1h-9zM67 62h1v1h-1zM126 62h13v1h-13zM69 63h1v1h-1zM121 63h18v1h-18zM71 64h1v1h-1zM120 64h19v1h-19zM74 65h1v1h-1zM122 65h17v1h-17zM79 66h3v1h-3zM124 66h15v1h-15zM86 67h4v1h-4zM126 67h12v1h-12zM93 68h3v1h-3zM128 68h8v1h-8zM97 69h4v1h-4zM130 69h6v1h-6zM101 70h4v1h-4zM132 70h7v1h-7zM105 71h4v1h-4zM135 71h4v1h-4zM109 72h4v1h-4zM112 73h4v1h-4zM116 74h5v1h-5zM121 75h5v1h-5zM45 76h11v1h-11zM59 76h8v1h-8zM126 76h5v1h-5zM36 77h6v1h-6zM68 77h3v1h-3zM131 77h4v1h-4zM25 78h7v1h-7zM72 78h2v1h-2zM135 78h4v1h-4zM20 79h3v1h-3zM75 79h2v1h-2zM16 80h3v1h-3zM78 80h3v1h-3zM14 81h2v1h-2zM81 81h2v1h-2zM11 82h2v1h-2zM84 82h2v1h-2zM9 83h2v1h-2zM86 83h2v1h-2zM7 84h2v1h-2zM88 84h2v1h-2zM6 85h1v1h-1zM91 85h2v1h-2zM4 86h2v1h-2zM94 86h2v1h-2zM2 87h2v1h-2zM97 87h2v1h-2zM1 88h2v1h-2zM21 88h5v1h-5zM48 88h3v1h-3zM101 88h2v1h-2zM0 89h2v1h-2zM12 89h3v1h-3zM56 89h2v1h-2zM105 89h1v1h-1zM0 90h3v1h-3zM5 90h4v1h-4zM60 90h1v1h-1zM109 90h2v1h-2zM0 91h2v1h-2zM63 91h1v1h-1zM114 91h1v1h-1zM117 92h1v1h-1zM69 93h1v1h-1zM121 93h1v1h-1zM72 94h1v1h-1zM126 94h3v1h-3zM75 95h1v1h-1zM134 95h5v1h-5zM79 96h1v1h-1zM83 97h1v1h-1zM87 98h1v1h-1zM92 99h1v1h-1zM96 100h1v1h-1zM100 101h1v1h-1zM104 102h1v1h-1zM107 103h2v1h-2zM111 104h1v1h-1z"/><path fill="#222222" d="M59 0h2v1h-2zM128 0h11v1h-11zM60 1h2v1h-2zM121 1h5v1h-5zM45 2h1v1h-1zM61 2h2v1h-2zM117 2h4v1h-4zM63 3h1v1h-1zM115 3h3v1h-3zM64 4h1v1h-1zM113 4h3v1h-3zM46 5h1v1h-1zM65 5h1v1h-1zM112 5h2v1h-2zM0 6h2v1h-2zM66 6h1v1h-1zM111 6h2v1h-2zM5 7h4v1h-4zM67 7h1v1h-1zM111 7h2v1h-2zM12 8h2v1h-2zM68 8h1v1h-1zM111 8h2v1h-2zM18 9h1v1h-1zM69 9h1v1h-1zM111 9h3v1h-3zM22 10h1v1h-1zM49 10h1v1h-1zM70 10h1v1h-1zM112 10h3v1h-3zM26 11h1v1h-1zM114 11h2v1h-2zM29 12h1v1h-1zM50 12h1v1h-1zM115 12h4v1h-4zM32 13h1v1h-1zM72 13h1v1h-1zM118 13h4v1h-4zM34 14h1v1h-1zM51 14h1v1h-1zM73 14h1v1h-1zM122 14h7v1h-7zM138 14h1v1h-1zM36 15h1v1h-1zM74 15h1v1h-1zM39 17h1v1h-1zM77 17h1v1h-1zM78 18h1v1h-1zM54 19h1v1h-1zM79 19h1v1h-1zM46 20h1v1h-1zM55 21h1v1h-1zM82 21h1v1h-1zM49 22h1v1h-1zM56 22h1v1h-1zM83 22h1v1h-1zM135 22h4v1h-4zM57 23h1v1h-1zM85 23h1v1h-1zM127 23h6v1h-6zM58 24h1v1h-1zM120 24h6v1h-6zM53 25h1v1h-1zM59 25h1v1h-1zM88 25h1v1h-1zM114 25h5v1h-5zM91 26h1v1h-1zM110 26h4v1h-4zM62 27h1v1h-1zM93 27h1v1h-1zM107 27h3v1h-3zM57 28h1v1h-1zM67 28h1v1h-1zM96 28h10v1h-10zM69 29h1v1h-1zM71 30h1v1h-1zM73 31h1v1h-1zM63 32h1v1h-1zM75 32h1v1h-1zM77 33h1v1h-1zM66 34h1v1h-1zM79 34h1v1h-1zM81 35h1v1h-1zM82 36h2v1h-2zM71 37h1v1h-1zM84 37h2v1h-2zM130 37h9v1h-9zM86 38h2v1h-2zM122 38h17v1h-17zM88 39h3v1h-3zM116 39h21v1h-21zM75 40h1v1h-1zM90 40h3v1h-3zM111 40h26v1h-26zM76 41h1v1h-1zM92 41h4v1h-4zM102 41h35v1h-35zM77 42h1v1h-1zM94 42h44v1h-44zM78 43h1v1h-1zM95 43h44v1h-44zM96 44h43v1h-43zM81 45h1v1h-1zM97 45h17v1h-17zM125 45h14v1h-14zM82 46h1v1h-1zM97 46h14v1h-14zM127 46h12v1h-12zM84 47h1v1h-1zM96 47h14v1h-14zM128 47h11v1h-11zM85 48h1v1h-1zM96 48h13v1h-13zM128 48h11v1h-11zM87 49h1v1h-1zM96 49h13v1h-13zM129 49h10v1h-10zM89 50h1v1h-1zM96 50h13v1h-13zM129 50h10v1h-10zM90 51h2v1h-2zM96 51h13v1h-13zM128 51h11v1h-11zM92 52h3v1h-3zM96 52h14v1h-14zM128 52h11v1h-11zM94 53h17v1h-17zM126 53h13v1h-13zM95 54h18v1h-18zM125 54h14v1h-14zM97 55h19v1h-19zM121 55h18v1h-18zM99 56h39v1h-39zM41 57h6v1h-6zM101 57h36v1h-36zM22 58h7v1h-7zM51 58h2v1h-2zM103 58h33v1h-33zM13 59h4v1h-4zM57 59h2v1h-2zM105 59h29v1h-29zM4 60h3v1h-3zM63 60h1v1h-1zM107 60h26v1h-26zM65 61h1v1h-1zM109 61h21v1h-21zM111 62h15v1h-15zM114 63h7v1h-7zM72 64h1v1h-1zM116 64h4v1h-4zM75 65h2v1h-2zM118 65h4v1h-4zM82 66h2v1h-2zM121 66h3v1h-3zM90 67h4v1h-4zM123 67h3v1h-3zM96 68h2v1h-2zM125 68h3v1h-3zM101 69h1v1h-1zM128 69h2v1h-2zM105 70h2v1h-2zM130 70h2v1h-2zM109 71h2v1h-2zM132 71h3v1h-3zM113 72h2v1h-2zM135 72h4v1h-4zM116 73h3v1h-3zM121 74h3v1h-3zM126 75h3v1h-3zM56 76h3v1h-3zM131 76h3v1h-3zM42 77h4v1h-4zM64 77h4v1h-4zM135 77h4v1h-4zM32 78h6v1h-6zM70 78h2v1h-2zM23 79h3v1h-3zM74 79h1v1h-1zM19 80h2v1h-2zM77 80h1v1h-1zM16 81h2v1h-2zM80 81h1v1h-1zM13 82h2v1h-2zM83 82h1v1h-1zM11 83h2v1h-2zM85 83h1v1h-1zM9 84h2v1h-2zM87 84h1v1h-1zM7 85h2v1h-2zM89 85h2v1h-2zM6 86h1v1h-1zM92 86h2v1h-2zM4 87h2v1h-2zM32 87h12v1h-12zM96 87h1v1h-1zM3 88h2v1h-2zM18 88h3v1h-3zM51 88h2v1h-2zM100 88h1v1h-1zM2 89h3v1h-3zM9 89h3v1h-3zM58 89h1v1h-1zM103 89h2v1h-2zM3 90h2v1h-2zM61 90h1v1h-1zM108 90h1v1h-1zM64 91h1v1h-1zM112 91h2v1h-2zM67 92h1v1h-1zM116 92h1v1h-1zM70 93h1v1h-1zM120 93h1v1h-1zM125 94h1v1h-1zM76 95h1v1h-1zM132 95h2v1h-2zM80 96h1v1h-1zM84 97h1v1h-1zM88 98h1v1h-1zM97 100h1v1h-1zM101 101h1v1h-1zM112 104h1v1h-1z"/><path fill="#242424" d="M45 0h1v1h-1zM58 0h1v1h-1zM45 1h1v1h-1zM59 1h1v1h-1zM126 1h13v1h-13zM60 2h1v1h-1zM121 2h3v1h-3zM61 3h2v1h-2zM118 3h2v1h-2zM63 4h1v1h-1zM116 4h2v1h-2zM64 5h1v1h-1zM114 5h2v1h-2zM47 6h1v1h-1zM65 6h1v1h-1zM113 6h2v1h-2zM0 7h5v1h-5zM66 7h1v1h-1zM113 7h2v1h-2zM9 8h3v1h-3zM48 8h1v1h-1zM67 8h1v1h-1zM113 8h2v1h-2zM15 9h3v1h-3zM68 9h1v1h-1zM114 9h2v1h-2zM21 10h1v1h-1zM69 10h1v1h-1zM115 10h2v1h-2zM25 11h1v1h-1zM70 11h1v1h-1zM116 11h3v1h-3zM71 12h1v1h-1zM119 12h2v1h-2zM31 13h1v1h-1zM51 13h1v1h-1zM122 13h4v1h-4zM129 14h9v1h-9zM52 15h1v1h-1zM37 16h1v1h-1zM75 16h1v1h-1zM53 17h1v1h-1zM76 17h1v1h-1zM40 18h1v1h-1zM77 18h1v1h-1zM42 19h1v1h-1zM45 20h1v1h-1zM80 20h1v1h-1zM3 21h12v1h-12zM47 21h1v1h-1zM81 21h1v1h-1zM0 22h16v1h-16zM5 23h9v1h-9zM50 23h1v1h-1zM84 23h1v1h-1zM133 23h6v1h-6zM86 24h1v1h-1zM126 24h4v1h-4zM119 25h4v1h-4zM54 26h1v1h-1zM61 26h1v1h-1zM90 26h1v1h-1zM114 26h3v1h-3zM63 27h4v1h-4zM92 27h1v1h-1zM110 27h2v1h-2zM68 28h1v1h-1zM94 28h2v1h-2zM106 28h2v1h-2zM70 29h1v1h-1zM60 30h1v1h-1zM72 30h1v1h-1zM74 31h1v1h-1zM76 32h1v1h-1zM64 33h1v1h-1zM78 33h1v1h-1zM80 34h1v1h-1zM82 35h1v1h-1zM69 36h1v1h-1zM84 36h1v1h-1zM128 36h11v1h-11zM86 37h2v1h-2zM119 37h11v1h-11zM72 38h1v1h-1zM88 38h2v1h-2zM114 38h8v1h-8zM91 39h2v1h-2zM109 39h7v1h-7zM93 40h3v1h-3zM100 40h11v1h-11zM96 41h6v1h-6zM79 44h1v1h-1zM80 45h1v1h-1zM114 45h11v1h-11zM111 46h16v1h-16zM83 47h1v1h-1zM110 47h18v1h-18zM109 48h19v1h-19zM86 49h1v1h-1zM109 49h20v1h-20zM88 50h1v1h-1zM109 50h20v1h-20zM89 51h1v1h-1zM109 51h19v1h-19zM91 52h1v1h-1zM110 52h18v1h-18zM93 53h1v1h-1zM111 53h15v1h-15zM94 54h1v1h-1zM113 54h12v1h-12zM96 55h1v1h-1zM116 55h5v1h-5zM98 56h1v1h-1zM32 57h9v1h-9zM47 57h3v1h-3zM100 57h1v1h-1zM19 58h3v1h-3zM53 58h2v1h-2zM101 58h2v1h-2zM10 59h3v1h-3zM59 59h2v1h-2zM103 59h2v1h-2zM0 60h4v1h-4zM105 60h2v1h-2zM107 61h2v1h-2zM68 62h1v1h-1zM109 62h2v1h-2zM70 63h1v1h-1zM112 63h2v1h-2zM114 64h2v1h-2zM77 65h1v1h-1zM116 65h2v1h-2zM84 66h3v1h-3zM119 66h2v1h-2zM94 67h1v1h-1zM121 67h2v1h-2zM98 68h2v1h-2zM124 68h1v1h-1zM102 69h2v1h-2zM126 69h2v1h-2zM107 70h1v1h-1zM128 70h2v1h-2zM111 71h2v1h-2zM130 71h2v1h-2zM115 72h2v1h-2zM133 72h2v1h-2zM119 73h2v1h-2zM135 73h4v1h-4zM124 74h2v1h-2zM129 75h3v1h-3zM134 76h5v1h-5zM46 77h6v1h-6zM60 77h4v1h-4zM38 78h3v1h-3zM68 78h2v1h-2zM26 79h4v1h-4zM72 79h2v1h-2zM21 80h2v1h-2zM76 80h1v1h-1zM18 81h1v1h-1zM79 81h1v1h-1zM15 82h1v1h-1zM82 82h1v1h-1zM13 83h1v1h-1zM84 83h1v1h-1zM11 84h1v1h-1zM86 84h1v1h-1zM9 85h1v1h-1zM7 86h2v1h-2zM91 86h1v1h-1zM6 87h2v1h-2zM27 87h5v1h-5zM44 87h4v1h-4zM95 87h1v1h-1zM5 88h2v1h-2zM13 88h5v1h-5zM53 88h2v1h-2zM98 88h2v1h-2zM5 89h4v1h-4zM59 89h1v1h-1zM102 89h1v1h-1zM62 90h1v1h-1zM106 90h2v1h-2zM65 91h1v1h-1zM111 91h1v1h-1zM68 92h1v1h-1zM115 92h1v1h-1zM119 93h1v1h-1zM73 94h1v1h-1zM123 94h2v1h-2zM130 95h2v1h-2zM89 98h1v1h-1zM93 99h1v1h-1zM105 102h1v1h-1zM109 103h1v1h-1zM113 104h1v1h-1z"/><path fill="#262626" d="M57 0h1v1h-1zM58 1h1v1h-1zM59 2h1v1h-1zM124 2h4v1h-4zM60 3h1v1h-1zM120 3h3v1h-3zM46 4h1v1h-1zM61 4h2v1h-2zM118 4h2v1h-2zM63 5h1v1h-1zM116 5h2v1h-2zM64 6h1v1h-1zM115 6h2v1h-2zM65 7h1v1h-1zM115 7h1v1h-1zM4 8h5v1h-5zM115 8h2v1h-2zM13 9h2v1h-2zM116 9h1v1h-1zM19 10h2v1h-2zM117 10h1v1h-1zM24 11h1v1h-1zM50 11h1v1h-1zM119 11h1v1h-1zM28 12h1v1h-1zM70 12h1v1h-1zM121 12h3v1h-3zM71 13h1v1h-1zM126 13h6v1h-6zM136 13h3v1h-3zM33 14h1v1h-1zM72 14h1v1h-1zM35 15h1v1h-1zM73 15h1v1h-1zM74 16h1v1h-1zM38 17h1v1h-1zM75 17h1v1h-1zM54 18h1v1h-1zM78 19h1v1h-1zM0 20h16v1h-16zM44 20h1v1h-1zM55 20h1v1h-1zM79 20h1v1h-1zM0 21h3v1h-3zM15 21h5v1h-5zM16 22h2v1h-2zM82 22h1v1h-1zM0 23h5v1h-5zM14 23h2v1h-2zM83 23h1v1h-1zM7 24h6v1h-6zM51 24h1v1h-1zM85 24h1v1h-1zM130 24h4v1h-4zM87 25h1v1h-1zM123 25h4v1h-4zM89 26h1v1h-1zM117 26h2v1h-2zM55 27h1v1h-1zM67 27h1v1h-1zM91 27h1v1h-1zM112 27h2v1h-2zM69 28h1v1h-1zM93 28h1v1h-1zM108 28h2v1h-2zM58 29h1v1h-1zM71 29h1v1h-1zM97 29h9v1h-9zM73 30h1v1h-1zM61 31h1v1h-1zM75 31h1v1h-1zM77 32h1v1h-1zM79 33h1v1h-1zM81 34h1v1h-1zM67 35h1v1h-1zM83 35h1v1h-1zM85 36h2v1h-2zM121 36h7v1h-7zM70 37h1v1h-1zM88 37h1v1h-1zM115 37h4v1h-4zM90 38h2v1h-2zM110 38h4v1h-4zM73 39h1v1h-1zM93 39h2v1h-2zM102 39h7v1h-7zM74 40h1v1h-1zM96 40h4v1h-4zM81 46h1v1h-1zM84 48h1v1h-1zM87 50h1v1h-1zM90 52h1v1h-1zM92 53h1v1h-1zM95 55h1v1h-1zM97 56h1v1h-1zM27 57h5v1h-5zM50 57h1v1h-1zM99 57h1v1h-1zM16 58h3v1h-3zM55 58h2v1h-2zM100 58h1v1h-1zM6 59h4v1h-4zM61 59h1v1h-1zM102 59h1v1h-1zM64 60h1v1h-1zM104 60h1v1h-1zM66 61h1v1h-1zM106 61h1v1h-1zM108 62h1v1h-1zM110 63h2v1h-2zM73 64h1v1h-1zM113 64h1v1h-1zM78 65h2v1h-2zM115 65h1v1h-1zM87 66h2v1h-2zM118 66h1v1h-1zM95 67h2v1h-2zM120 67h1v1h-1zM100 68h1v1h-1zM122 68h2v1h-2zM104 69h1v1h-1zM124 69h2v1h-2zM108 70h2v1h-2zM127 70h1v1h-1zM113 71h1v1h-1zM129 71h1v1h-1zM117 72h1v1h-1zM131 72h2v1h-2zM121 73h2v1h-2zM132 73h3v1h-3zM126 74h4v1h-4zM133 74h6v1h-6zM132 75h7v1h-7zM52 77h8v1h-8zM41 78h2v1h-2zM65 78h3v1h-3zM30 79h5v1h-5zM71 79h1v1h-1zM23 80h2v1h-2zM75 80h1v1h-1zM19 81h1v1h-1zM78 81h1v1h-1zM16 82h2v1h-2zM81 82h1v1h-1zM14 83h1v1h-1zM83 83h1v1h-1zM12 84h1v1h-1zM10 85h1v1h-1zM88 85h1v1h-1zM9 86h1v1h-1zM8 87h1v1h-1zM23 87h4v1h-4zM48 87h2v1h-2zM94 87h1v1h-1zM7 88h6v1h-6zM55 88h1v1h-1zM101 89h1v1h-1zM105 90h1v1h-1zM66 91h1v1h-1zM110 91h1v1h-1zM71 93h1v1h-1zM118 93h1v1h-1zM74 94h1v1h-1zM122 94h1v1h-1zM77 95h1v1h-1zM129 95h1v1h-1zM81 96h1v1h-1zM85 97h1v1h-1zM94 99h1v1h-1zM98 100h1v1h-1zM102 101h1v1h-1zM106 102h1v1h-1zM110 103h1v1h-1z"/><path fill="#282828" d="M56 0h1v1h-1zM57 1h1v1h-1zM58 2h1v1h-1zM128 2h11v1h-11zM46 3h1v1h-1zM59 3h1v1h-1zM123 3h2v1h-2zM120 4h1v1h-1zM62 5h1v1h-1zM118 5h1v1h-1zM63 6h1v1h-1zM117 6h1v1h-1zM48 7h1v1h-1zM64 7h1v1h-1zM116 7h2v1h-2zM0 8h4v1h-4zM66 8h1v1h-1zM117 8h1v1h-1zM10 9h3v1h-3zM49 9h1v1h-1zM67 9h1v1h-1zM117 9h2v1h-2zM17 10h2v1h-2zM68 10h1v1h-1zM118 10h2v1h-2zM22 11h2v1h-2zM69 11h1v1h-1zM120 11h2v1h-2zM27 12h1v1h-1zM124 12h2v1h-2zM30 13h1v1h-1zM132 13h4v1h-4zM32 14h1v1h-1zM52 14h1v1h-1zM36 16h1v1h-1zM53 16h1v1h-1zM76 18h1v1h-1zM41 19h1v1h-1zM77 19h1v1h-1zM16 20h5v1h-5zM20 21h1v1h-1zM56 21h1v1h-1zM80 21h1v1h-1zM18 22h2v1h-2zM48 22h1v1h-1zM57 22h1v1h-1zM81 22h1v1h-1zM16 23h1v1h-1zM0 24h7v1h-7zM13 24h2v1h-2zM84 24h1v1h-1zM134 24h5v1h-5zM60 25h1v1h-1zM86 25h1v1h-1zM127 25h3v1h-3zM62 26h1v1h-1zM65 26h1v1h-1zM88 26h1v1h-1zM119 26h4v1h-4zM90 27h1v1h-1zM114 27h3v1h-3zM56 28h1v1h-1zM70 28h1v1h-1zM110 28h2v1h-2zM72 29h1v1h-1zM95 29h2v1h-2zM106 29h2v1h-2zM59 30h1v1h-1zM74 30h1v1h-1zM76 31h1v1h-1zM62 32h1v1h-1zM78 32h1v1h-1zM80 33h1v1h-1zM65 34h1v1h-1zM82 34h1v1h-1zM84 35h1v1h-1zM124 35h15v1h-15zM68 36h1v1h-1zM87 36h1v1h-1zM117 36h4v1h-4zM89 37h2v1h-2zM112 37h3v1h-3zM71 38h1v1h-1zM92 38h1v1h-1zM105 38h5v1h-5zM95 39h7v1h-7zM75 41h1v1h-1zM76 42h1v1h-1zM77 43h1v1h-1zM82 47h1v1h-1zM85 49h1v1h-1zM88 51h1v1h-1zM91 53h1v1h-1zM93 54h1v1h-1zM39 56h9v1h-9zM96 56h1v1h-1zM22 57h5v1h-5zM51 57h2v1h-2zM98 57h1v1h-1zM13 58h3v1h-3zM57 58h1v1h-1zM4 59h2v1h-2zM62 59h1v1h-1zM101 59h1v1h-1zM103 60h1v1h-1zM105 61h1v1h-1zM69 62h1v1h-1zM107 62h1v1h-1zM71 63h1v1h-1zM109 63h1v1h-1zM74 64h1v1h-1zM112 64h1v1h-1zM80 65h2v1h-2zM114 65h1v1h-1zM89 66h3v1h-3zM117 66h1v1h-1zM97 67h1v1h-1zM119 67h1v1h-1zM101 68h1v1h-1zM121 68h1v1h-1zM105 69h1v1h-1zM123 69h1v1h-1zM110 70h1v1h-1zM125 70h2v1h-2zM114 71h1v1h-1zM127 71h2v1h-2zM118 72h2v1h-2zM129 72h2v1h-2zM123 73h4v1h-4zM129 73h3v1h-3zM130 74h3v1h-3zM43 78h3v1h-3zM63 78h2v1h-2zM35 79h3v1h-3zM69 79h2v1h-2zM25 80h2v1h-2zM74 80h1v1h-1zM20 81h2v1h-2zM77 81h1v1h-1zM18 82h1v1h-1zM80 82h1v1h-1zM15 83h1v1h-1zM13 84h1v1h-1zM85 84h1v1h-1zM11 85h2v1h-2zM87 85h1v1h-1zM10 86h2v1h-2zM90 86h1v1h-1zM9 87h6v1h-6zM16 87h7v1h-7zM50 87h2v1h-2zM93 87h1v1h-1zM56 88h2v1h-2zM97 88h1v1h-1zM60 89h1v1h-1zM100 89h1v1h-1zM63 90h1v1h-1zM104 90h1v1h-1zM109 91h1v1h-1zM69 92h1v1h-1zM114 92h1v1h-1zM117 93h1v1h-1zM121 94h1v1h-1zM78 95h1v1h-1zM127 95h2v1h-2zM135 96h4v1h-4zM86 97h1v1h-1zM90 98h1v1h-1z"/><path fill="#2a2a2a" d="M46 0h1v1h-1zM51 0h5v1h-5zM56 1h1v1h-1zM46 2h1v1h-1zM125 3h2v1h-2zM60 4h1v1h-1zM121 4h2v1h-2zM47 5h1v1h-1zM61 5h1v1h-1zM119 5h2v1h-2zM62 6h1v1h-1zM118 6h2v1h-2zM63 7h1v1h-1zM118 7h1v1h-1zM65 8h1v1h-1zM118 8h1v1h-1zM5 9h5v1h-5zM66 9h1v1h-1zM119 9h1v1h-1zM15 10h2v1h-2zM50 10h1v1h-1zM67 10h1v1h-1zM120 10h1v1h-1zM21 11h1v1h-1zM68 11h1v1h-1zM122 11h2v1h-2zM25 12h2v1h-2zM51 12h1v1h-1zM69 12h1v1h-1zM126 12h4v1h-4zM138 12h1v1h-1zM29 13h1v1h-1zM70 13h1v1h-1zM71 14h1v1h-1zM34 15h1v1h-1zM72 15h1v1h-1zM73 16h1v1h-1zM74 17h1v1h-1zM39 18h1v1h-1zM0 19h20v1h-20zM55 19h1v1h-1zM21 20h1v1h-1zM43 20h1v1h-1zM78 20h1v1h-1zM21 21h1v1h-1zM46 21h1v1h-1zM20 22h1v1h-1zM17 23h1v1h-1zM49 23h1v1h-1zM58 23h1v1h-1zM82 23h1v1h-1zM15 24h1v1h-1zM59 24h1v1h-1zM5 25h7v1h-7zM52 25h1v1h-1zM130 25h2v1h-2zM63 26h2v1h-2zM66 26h1v1h-1zM87 26h1v1h-1zM123 26h3v1h-3zM68 27h1v1h-1zM89 27h1v1h-1zM117 27h2v1h-2zM92 28h1v1h-1zM112 28h2v1h-2zM94 29h1v1h-1zM108 29h2v1h-2zM79 32h1v1h-1zM63 33h1v1h-1zM81 33h1v1h-1zM83 34h1v1h-1zM66 35h1v1h-1zM85 35h1v1h-1zM120 35h4v1h-4zM88 36h1v1h-1zM114 36h3v1h-3zM91 37h1v1h-1zM109 37h3v1h-3zM93 38h1v1h-1zM101 38h4v1h-4zM78 44h1v1h-1zM83 48h1v1h-1zM86 50h1v1h-1zM89 52h1v1h-1zM94 55h1v1h-1zM33 56h6v1h-6zM48 56h2v1h-2zM20 57h2v1h-2zM53 57h2v1h-2zM97 57h1v1h-1zM10 58h3v1h-3zM58 58h2v1h-2zM99 58h1v1h-1zM1 59h3v1h-3zM65 60h1v1h-1zM102 60h1v1h-1zM67 61h1v1h-1zM104 61h1v1h-1zM106 62h1v1h-1zM111 64h1v1h-1zM82 65h1v1h-1zM113 65h1v1h-1zM92 66h2v1h-2zM116 66h1v1h-1zM118 67h1v1h-1zM102 68h1v1h-1zM120 68h1v1h-1zM106 69h2v1h-2zM122 69h1v1h-1zM111 70h1v1h-1zM124 70h1v1h-1zM115 71h2v1h-2zM126 71h1v1h-1zM120 72h2v1h-2zM126 72h3v1h-3zM127 73h2v1h-2zM46 78h3v1h-3zM61 78h2v1h-2zM38 79h2v1h-2zM68 79h1v1h-1zM27 80h3v1h-3zM73 80h1v1h-1zM22 81h1v1h-1zM76 81h1v1h-1zM19 82h1v1h-1zM79 82h1v1h-1zM16 83h1v1h-1zM82 83h1v1h-1zM14 84h1v1h-1zM13 85h1v1h-1zM12 86h2v1h-2zM30 86h14v1h-14zM89 86h1v1h-1zM15 87h1v1h-1zM52 87h1v1h-1zM92 87h1v1h-1zM96 88h1v1h-1zM61 89h1v1h-1zM64 90h1v1h-1zM108 91h1v1h-1zM113 92h1v1h-1zM72 93h1v1h-1zM75 94h1v1h-1zM126 95h1v1h-1zM82 96h1v1h-1zM134 96h1v1h-1zM91 98h1v1h-1zM95 99h1v1h-1zM99 100h1v1h-1zM103 101h1v1h-1zM107 102h1v1h-1zM111 103h1v1h-1zM114 104h1v1h-1z"/><path fill="#2c2c2c" d="M47 0h4v1h-4zM46 1h1v1h-1zM53 1h3v1h-3zM56 2h2v1h-2zM58 3h1v1h-1zM127 3h3v1h-3zM137 3h2v1h-2zM59 4h1v1h-1zM123 4h2v1h-2zM60 5h1v1h-1zM121 5h1v1h-1zM61 6h1v1h-1zM120 6h1v1h-1zM62 7h1v1h-1zM119 7h1v1h-1zM49 8h1v1h-1zM64 8h1v1h-1zM119 8h1v1h-1zM0 9h5v1h-5zM65 9h1v1h-1zM120 9h1v1h-1zM12 10h3v1h-3zM121 10h2v1h-2zM19 11h2v1h-2zM124 11h2v1h-2zM24 12h1v1h-1zM130 12h8v1h-8zM28 13h1v1h-1zM31 14h1v1h-1zM53 15h1v1h-1zM37 17h1v1h-1zM54 17h1v1h-1zM75 18h1v1h-1zM20 19h2v1h-2zM40 19h1v1h-1zM76 19h1v1h-1zM22 20h1v1h-1zM22 21h1v1h-1zM79 21h1v1h-1zM80 22h1v1h-1zM18 23h2v1h-2zM16 24h1v1h-1zM83 24h1v1h-1zM0 25h5v1h-5zM12 25h2v1h-2zM61 25h1v1h-1zM85 25h1v1h-1zM132 25h3v1h-3zM53 26h1v1h-1zM67 26h1v1h-1zM126 26h2v1h-2zM69 27h1v1h-1zM119 27h3v1h-3zM71 28h1v1h-1zM91 28h1v1h-1zM114 28h2v1h-2zM57 29h1v1h-1zM73 29h1v1h-1zM93 29h1v1h-1zM110 29h2v1h-2zM75 30h1v1h-1zM97 30h10v1h-10zM60 31h1v1h-1zM77 31h1v1h-1zM84 34h1v1h-1zM124 34h15v1h-15zM86 35h1v1h-1zM117 35h3v1h-3zM89 36h1v1h-1zM112 36h2v1h-2zM69 37h1v1h-1zM92 37h1v1h-1zM105 37h4v1h-4zM94 38h7v1h-7zM72 39h1v1h-1zM79 45h1v1h-1zM92 54h1v1h-1zM29 56h4v1h-4zM50 56h1v1h-1zM95 56h1v1h-1zM17 57h3v1h-3zM55 57h1v1h-1zM8 58h2v1h-2zM60 58h1v1h-1zM0 59h1v1h-1zM63 59h1v1h-1zM100 59h1v1h-1zM72 63h1v1h-1zM108 63h1v1h-1zM75 64h1v1h-1zM110 64h1v1h-1zM83 65h1v1h-1zM112 65h1v1h-1zM94 66h1v1h-1zM115 66h1v1h-1zM98 67h1v1h-1zM117 67h1v1h-1zM103 68h1v1h-1zM119 68h1v1h-1zM108 69h1v1h-1zM121 69h1v1h-1zM112 70h1v1h-1zM123 70h1v1h-1zM117 71h2v1h-2zM124 71h2v1h-2zM122 72h4v1h-4zM49 78h12v1h-12zM40 79h2v1h-2zM67 79h1v1h-1zM30 80h3v1h-3zM72 80h1v1h-1zM23 81h1v1h-1zM75 81h1v1h-1zM20 82h1v1h-1zM78 82h1v1h-1zM17 83h1v1h-1zM81 83h1v1h-1zM15 84h1v1h-1zM84 84h1v1h-1zM14 85h1v1h-1zM86 85h1v1h-1zM14 86h2v1h-2zM26 86h4v1h-4zM44 86h2v1h-2zM53 87h1v1h-1zM58 88h1v1h-1zM95 88h1v1h-1zM99 89h1v1h-1zM103 90h1v1h-1zM67 91h1v1h-1zM107 91h1v1h-1zM112 92h1v1h-1zM116 93h1v1h-1zM120 94h1v1h-1zM79 95h1v1h-1zM125 95h1v1h-1zM83 96h1v1h-1zM133 96h1v1h-1zM87 97h1v1h-1z"/><path fill="#2e2e2e" d="M50 1h3v1h-3zM54 2h2v1h-2zM57 3h1v1h-1zM130 3h7v1h-7zM47 4h1v1h-1zM58 4h1v1h-1zM125 4h1v1h-1zM59 5h1v1h-1zM122 5h1v1h-1zM48 6h1v1h-1zM60 6h1v1h-1zM121 6h1v1h-1zM120 7h1v1h-1zM63 8h1v1h-1zM120 8h1v1h-1zM64 9h1v1h-1zM121 9h1v1h-1zM8 10h4v1h-4zM66 10h1v1h-1zM123 10h1v1h-1zM17 11h2v1h-2zM67 11h1v1h-1zM126 11h2v1h-2zM23 12h1v1h-1zM68 12h1v1h-1zM27 13h1v1h-1zM52 13h1v1h-1zM69 13h1v1h-1zM30 14h1v1h-1zM70 14h1v1h-1zM33 15h1v1h-1zM71 15h1v1h-1zM35 16h1v1h-1zM72 16h1v1h-1zM73 17h1v1h-1zM0 18h19v1h-19zM38 18h1v1h-1zM74 18h1v1h-1zM22 19h2v1h-2zM23 20h2v1h-2zM42 20h1v1h-1zM56 20h1v1h-1zM77 20h1v1h-1zM45 21h1v1h-1zM21 22h1v1h-1zM47 22h1v1h-1zM81 23h1v1h-1zM17 24h1v1h-1zM50 24h1v1h-1zM14 25h1v1h-1zM62 25h1v1h-1zM64 25h2v1h-2zM84 25h1v1h-1zM135 25h4v1h-4zM9 26h2v1h-2zM86 26h1v1h-1zM128 26h3v1h-3zM70 27h1v1h-1zM88 27h1v1h-1zM122 27h3v1h-3zM72 28h1v1h-1zM90 28h1v1h-1zM116 28h2v1h-2zM74 29h1v1h-1zM112 29h1v1h-1zM76 30h1v1h-1zM95 30h2v1h-2zM107 30h2v1h-2zM78 31h1v1h-1zM61 32h1v1h-1zM80 32h1v1h-1zM82 33h1v1h-1zM64 34h1v1h-1zM120 34h4v1h-4zM87 35h1v1h-1zM115 35h2v1h-2zM67 36h1v1h-1zM90 36h1v1h-1zM109 36h3v1h-3zM93 37h1v1h-1zM102 37h3v1h-3zM70 38h1v1h-1zM73 40h1v1h-1zM80 46h1v1h-1zM84 49h1v1h-1zM87 51h1v1h-1zM90 53h1v1h-1zM45 55h2v1h-2zM93 55h1v1h-1zM25 56h4v1h-4zM51 56h1v1h-1zM15 57h2v1h-2zM56 57h1v1h-1zM96 57h1v1h-1zM5 58h3v1h-3zM61 58h1v1h-1zM98 58h1v1h-1zM66 60h1v1h-1zM101 60h1v1h-1zM68 61h1v1h-1zM103 61h1v1h-1zM70 62h1v1h-1zM105 62h1v1h-1zM107 63h1v1h-1zM76 64h1v1h-1zM109 64h1v1h-1zM84 65h2v1h-2zM114 66h1v1h-1zM99 67h1v1h-1zM116 67h1v1h-1zM104 68h1v1h-1zM118 68h1v1h-1zM109 69h1v1h-1zM120 69h1v1h-1zM113 70h2v1h-2zM121 70h2v1h-2zM119 71h5v1h-5zM42 79h2v1h-2zM65 79h2v1h-2zM33 80h3v1h-3zM71 80h1v1h-1zM24 81h2v1h-2zM21 82h1v1h-1zM18 83h1v1h-1zM16 84h1v1h-1zM15 85h2v1h-2zM16 86h10v1h-10zM46 86h3v1h-3zM88 86h1v1h-1zM54 87h1v1h-1zM91 87h1v1h-1zM59 88h1v1h-1zM62 89h1v1h-1zM98 89h1v1h-1zM65 90h1v1h-1zM102 90h1v1h-1zM70 92h1v1h-1zM76 94h1v1h-1zM119 94h1v1h-1zM124 95h1v1h-1zM131 96h2v1h-2zM96 99h1v1h-1zM100 100h1v1h-1zM104 101h1v1h-1zM108 102h1v1h-1z"/><path fill="#303030" d="M47 1h3v1h-3zM47 2h1v1h-1zM51 2h3v1h-3zM47 3h1v1h-1zM54 3h3v1h-3zM57 4h1v1h-1zM126 4h3v1h-3zM58 5h1v1h-1zM123 5h2v1h-2zM122 6h1v1h-1zM61 7h1v1h-1zM121 7h1v1h-1zM62 8h1v1h-1zM121 8h2v1h-2zM50 9h1v1h-1zM63 9h1v1h-1zM122 9h2v1h-2zM0 10h8v1h-8zM65 10h1v1h-1zM124 10h2v1h-2zM14 11h3v1h-3zM51 11h1v1h-1zM66 11h1v1h-1zM128 11h3v1h-3zM136 11h3v1h-3zM21 12h2v1h-2zM26 13h1v1h-1zM32 15h1v1h-1zM36 17h1v1h-1zM19 18h3v1h-3zM55 18h1v1h-1zM24 19h1v1h-1zM75 19h1v1h-1zM25 20h2v1h-2zM23 21h1v1h-1zM57 21h1v1h-1zM78 21h1v1h-1zM79 22h1v1h-1zM20 23h1v1h-1zM60 24h1v1h-1zM82 24h1v1h-1zM15 25h1v1h-1zM63 25h1v1h-1zM66 25h1v1h-1zM0 26h9v1h-9zM11 26h1v1h-1zM68 26h1v1h-1zM131 26h2v1h-2zM54 27h1v1h-1zM87 27h1v1h-1zM125 27h2v1h-2zM89 28h1v1h-1zM118 28h2v1h-2zM92 29h1v1h-1zM113 29h2v1h-2zM58 30h1v1h-1zM94 30h1v1h-1zM109 30h2v1h-2zM101 31h5v1h-5zM81 32h1v1h-1zM83 33h1v1h-1zM126 33h10v1h-10zM138 33h1v1h-1zM85 34h1v1h-1zM118 34h2v1h-2zM88 35h1v1h-1zM113 35h2v1h-2zM91 36h1v1h-1zM105 36h4v1h-4zM94 37h1v1h-1zM99 37h3v1h-3zM74 41h1v1h-1zM81 47h1v1h-1zM91 54h1v1h-1zM38 55h7v1h-7zM47 55h2v1h-2zM22 56h3v1h-3zM52 56h2v1h-2zM94 56h1v1h-1zM13 57h2v1h-2zM57 57h1v1h-1zM3 58h2v1h-2zM64 59h1v1h-1zM99 59h1v1h-1zM77 64h1v1h-1zM86 65h1v1h-1zM111 65h1v1h-1zM95 66h1v1h-1zM113 66h1v1h-1zM100 67h1v1h-1zM115 67h1v1h-1zM105 68h1v1h-1zM117 68h1v1h-1zM110 69h1v1h-1zM119 69h1v1h-1zM115 70h2v1h-2zM119 70h2v1h-2zM44 79h1v1h-1zM63 79h2v1h-2zM36 80h2v1h-2zM70 80h1v1h-1zM26 81h2v1h-2zM74 81h1v1h-1zM22 82h1v1h-1zM77 82h1v1h-1zM19 83h1v1h-1zM80 83h1v1h-1zM17 84h1v1h-1zM83 84h1v1h-1zM17 85h1v1h-1zM49 86h1v1h-1zM55 87h1v1h-1zM94 88h1v1h-1zM68 91h1v1h-1zM106 91h1v1h-1zM111 92h1v1h-1zM73 93h1v1h-1zM115 93h1v1h-1zM80 95h1v1h-1zM130 96h1v1h-1zM88 97h1v1h-1zM92 98h1v1h-1zM112 103h1v1h-1zM115 104h1v1h-1z"/><path fill="#323232" d="M50 2h1v1h-1zM51 3h3v1h-3zM52 4h5v1h-5zM129 4h3v1h-3zM136 4h3v1h-3zM48 5h1v1h-1zM57 5h1v1h-1zM125 5h1v1h-1zM59 6h1v1h-1zM123 6h1v1h-1zM49 7h1v1h-1zM60 7h1v1h-1zM122 7h1v1h-1zM61 8h1v1h-1zM123 8h1v1h-1zM124 9h1v1h-1zM64 10h1v1h-1zM126 10h1v1h-1zM11 11h3v1h-3zM131 11h5v1h-5zM19 12h2v1h-2zM67 12h1v1h-1zM24 13h2v1h-2zM68 13h1v1h-1zM29 14h1v1h-1zM69 14h1v1h-1zM70 15h1v1h-1zM34 16h1v1h-1zM54 16h1v1h-1zM71 16h1v1h-1zM0 17h14v1h-14zM72 17h1v1h-1zM22 18h2v1h-2zM73 18h1v1h-1zM25 19h3v1h-3zM39 19h1v1h-1zM27 20h3v1h-3zM41 20h1v1h-1zM76 20h1v1h-1zM24 21h2v1h-2zM22 22h1v1h-1zM58 22h1v1h-1zM48 23h1v1h-1zM59 23h1v1h-1zM80 23h1v1h-1zM18 24h1v1h-1zM51 25h1v1h-1zM83 25h1v1h-1zM12 26h1v1h-1zM69 26h1v1h-1zM85 26h1v1h-1zM133 26h2v1h-2zM71 27h1v1h-1zM127 27h2v1h-2zM55 28h1v1h-1zM73 28h1v1h-1zM120 28h3v1h-3zM75 29h1v1h-1zM91 29h1v1h-1zM115 29h2v1h-2zM77 30h1v1h-1zM93 30h1v1h-1zM111 30h2v1h-2zM79 31h1v1h-1zM97 31h4v1h-4zM106 31h3v1h-3zM62 33h1v1h-1zM84 33h1v1h-1zM121 33h5v1h-5zM136 33h2v1h-2zM86 34h1v1h-1zM115 34h3v1h-3zM65 35h1v1h-1zM89 35h1v1h-1zM110 35h3v1h-3zM92 36h1v1h-1zM103 36h2v1h-2zM68 37h1v1h-1zM95 37h4v1h-4zM75 42h1v1h-1zM76 43h1v1h-1zM77 44h1v1h-1zM82 48h1v1h-1zM85 50h1v1h-1zM88 52h1v1h-1zM34 55h4v1h-4zM49 55h1v1h-1zM20 56h2v1h-2zM54 56h1v1h-1zM10 57h3v1h-3zM58 57h1v1h-1zM1 58h2v1h-2zM62 58h1v1h-1zM97 58h1v1h-1zM100 60h1v1h-1zM102 61h1v1h-1zM104 62h1v1h-1zM73 63h1v1h-1zM106 63h1v1h-1zM78 64h2v1h-2zM108 64h1v1h-1zM87 65h1v1h-1zM110 65h1v1h-1zM96 66h1v1h-1zM112 66h1v1h-1zM114 67h1v1h-1zM106 68h1v1h-1zM116 68h1v1h-1zM111 69h2v1h-2zM117 69h2v1h-2zM117 70h2v1h-2zM45 79h2v1h-2zM62 79h1v1h-1zM38 80h2v1h-2zM69 80h1v1h-1zM28 81h3v1h-3zM73 81h1v1h-1zM23 82h1v1h-1zM20 83h1v1h-1zM18 84h1v1h-1zM18 85h2v1h-2zM31 85h10v1h-10zM85 85h1v1h-1zM50 86h1v1h-1zM56 87h1v1h-1zM90 87h1v1h-1zM60 88h1v1h-1zM63 89h1v1h-1zM97 89h1v1h-1zM66 90h1v1h-1zM101 90h1v1h-1zM105 91h1v1h-1zM110 92h1v1h-1zM118 94h1v1h-1zM123 95h1v1h-1zM84 96h1v1h-1zM129 96h1v1h-1z"/><path fill="#343434" d="M48 2h2v1h-2zM50 3h1v1h-1zM51 4h1v1h-1zM132 4h4v1h-4zM52 5h5v1h-5zM126 5h2v1h-2zM58 6h1v1h-1zM124 6h1v1h-1zM59 7h1v1h-1zM123 7h2v1h-2zM60 8h1v1h-1zM124 8h1v1h-1zM62 9h1v1h-1zM125 9h1v1h-1zM63 10h1v1h-1zM127 10h2v1h-2zM138 10h1v1h-1zM0 11h11v1h-11zM65 11h1v1h-1zM17 12h2v1h-2zM52 12h1v1h-1zM66 12h1v1h-1zM23 13h1v1h-1zM67 13h1v1h-1zM27 14h2v1h-2zM53 14h1v1h-1zM31 15h1v1h-1zM33 16h1v1h-1zM14 17h8v1h-8zM24 18h2v1h-2zM37 18h1v1h-1zM28 19h2v1h-2zM56 19h1v1h-1zM74 19h1v1h-1zM30 20h1v1h-1zM26 21h4v1h-4zM44 21h1v1h-1zM77 21h1v1h-1zM78 22h1v1h-1zM21 23h1v1h-1zM19 24h1v1h-1zM61 24h1v1h-1zM63 24h3v1h-3zM81 24h1v1h-1zM16 25h1v1h-1zM67 25h1v1h-1zM13 26h1v1h-1zM84 26h1v1h-1zM135 26h4v1h-4zM86 27h1v1h-1zM129 27h2v1h-2zM88 28h1v1h-1zM123 28h3v1h-3zM56 29h1v1h-1zM90 29h1v1h-1zM117 29h2v1h-2zM78 30h1v1h-1zM113 30h2v1h-2zM59 31h1v1h-1zM80 31h1v1h-1zM95 31h2v1h-2zM109 31h2v1h-2zM82 32h1v1h-1zM103 32h3v1h-3zM118 33h3v1h-3zM87 34h1v1h-1zM113 34h2v1h-2zM90 35h2v1h-2zM105 35h5v1h-5zM93 36h1v1h-1zM100 36h3v1h-3zM71 39h1v1h-1zM78 45h1v1h-1zM31 55h3v1h-3zM50 55h1v1h-1zM92 55h1v1h-1zM18 56h2v1h-2zM55 56h1v1h-1zM8 57h2v1h-2zM59 57h1v1h-1zM95 57h1v1h-1zM0 58h1v1h-1zM98 59h1v1h-1zM67 60h1v1h-1zM69 61h1v1h-1zM71 62h1v1h-1zM105 63h1v1h-1zM107 64h1v1h-1zM88 65h1v1h-1zM101 67h1v1h-1zM107 68h1v1h-1zM115 68h1v1h-1zM113 69h4v1h-4zM47 79h3v1h-3zM60 79h2v1h-2zM40 80h1v1h-1zM68 80h1v1h-1zM31 81h2v1h-2zM24 82h1v1h-1zM76 82h1v1h-1zM21 83h1v1h-1zM79 83h1v1h-1zM19 84h2v1h-2zM82 84h1v1h-1zM20 85h11v1h-11zM41 85h3v1h-3zM51 86h2v1h-2zM87 86h1v1h-1zM57 87h1v1h-1zM93 88h1v1h-1zM71 92h1v1h-1zM114 93h1v1h-1zM77 94h1v1h-1zM122 95h1v1h-1zM89 97h1v1h-1zM137 97h2v1h-2zM93 98h1v1h-1zM97 99h1v1h-1zM101 100h1v1h-1zM105 101h1v1h-1zM109 102h1v1h-1z"/><path fill="#363636" d="M48 3h1v1h-1zM48 4h1v1h-1zM128 5h2v1h-2zM138 5h1v1h-1zM53 6h5v1h-5zM125 6h2v1h-2zM58 7h1v1h-1zM125 7h1v1h-1zM50 8h1v1h-1zM125 8h1v1h-1zM61 9h1v1h-1zM126 9h1v1h-1zM51 10h1v1h-1zM62 10h1v1h-1zM129 10h4v1h-4zM135 10h3v1h-3zM64 11h1v1h-1zM12 12h5v1h-5zM65 12h1v1h-1zM20 13h3v1h-3zM26 14h1v1h-1zM68 14h1v1h-1zM30 15h1v1h-1zM69 15h1v1h-1zM0 16h11v1h-11zM32 16h1v1h-1zM70 16h1v1h-1zM22 17h2v1h-2zM35 17h1v1h-1zM55 17h1v1h-1zM71 17h1v1h-1zM26 18h2v1h-2zM72 18h1v1h-1zM30 19h1v1h-1zM31 20h1v1h-1zM40 20h1v1h-1zM57 20h1v1h-1zM75 20h1v1h-1zM30 21h2v1h-2zM43 21h1v1h-1zM23 22h1v1h-1zM46 22h1v1h-1zM79 23h1v1h-1zM62 24h1v1h-1zM66 24h1v1h-1zM68 25h1v1h-1zM82 25h1v1h-1zM14 26h1v1h-1zM70 26h1v1h-1zM0 27h3v1h-3zM8 27h3v1h-3zM72 27h1v1h-1zM131 27h2v1h-2zM74 28h1v1h-1zM87 28h1v1h-1zM126 28h2v1h-2zM76 29h1v1h-1zM89 29h1v1h-1zM119 29h4v1h-4zM92 30h1v1h-1zM115 30h2v1h-2zM94 31h1v1h-1zM111 31h2v1h-2zM83 32h1v1h-1zM99 32h4v1h-4zM106 32h4v1h-4zM120 32h19v1h-19zM85 33h1v1h-1zM115 33h3v1h-3zM63 34h1v1h-1zM88 34h1v1h-1zM106 34h7v1h-7zM92 35h1v1h-1zM102 35h3v1h-3zM66 36h1v1h-1zM94 36h6v1h-6zM69 38h1v1h-1zM83 49h1v1h-1zM86 51h1v1h-1zM89 53h1v1h-1zM27 55h4v1h-4zM51 55h1v1h-1zM16 56h2v1h-2zM56 56h1v1h-1zM6 57h2v1h-2zM60 57h1v1h-1zM63 58h1v1h-1zM96 58h1v1h-1zM65 59h1v1h-1zM99 60h1v1h-1zM101 61h1v1h-1zM103 62h1v1h-1zM80 64h1v1h-1zM89 65h3v1h-3zM109 65h1v1h-1zM97 66h1v1h-1zM111 66h1v1h-1zM102 67h1v1h-1zM113 67h1v1h-1zM108 68h2v1h-2zM113 68h2v1h-2zM50 79h10v1h-10zM41 80h2v1h-2zM67 80h1v1h-1zM33 81h3v1h-3zM72 81h1v1h-1zM25 82h2v1h-2zM22 83h1v1h-1zM21 84h1v1h-1zM44 85h2v1h-2zM53 86h1v1h-1zM58 87h1v1h-1zM61 88h1v1h-1zM64 89h1v1h-1zM96 89h1v1h-1zM100 90h1v1h-1zM69 91h1v1h-1zM104 91h1v1h-1zM109 92h1v1h-1zM74 93h1v1h-1zM81 95h1v1h-1zM85 96h1v1h-1zM128 96h1v1h-1zM136 97h1v1h-1z"/><path fill="#383838" d="M49 3h1v1h-1zM50 4h1v1h-1zM51 5h1v1h-1zM130 5h8v1h-8zM49 6h1v1h-1zM52 6h1v1h-1zM127 6h1v1h-1zM53 7h5v1h-5zM126 7h1v1h-1zM54 8h1v1h-1zM59 8h1v1h-1zM126 8h1v1h-1zM60 9h1v1h-1zM127 9h2v1h-2zM61 10h1v1h-1zM133 10h2v1h-2zM63 11h1v1h-1zM0 12h12v1h-12zM64 12h1v1h-1zM17 13h3v1h-3zM66 13h1v1h-1zM23 14h3v1h-3zM67 14h1v1h-1zM0 15h2v1h-2zM28 15h2v1h-2zM54 15h1v1h-1zM11 16h11v1h-11zM31 16h1v1h-1zM24 17h2v1h-2zM34 17h1v1h-1zM28 18h2v1h-2zM36 18h1v1h-1zM31 19h1v1h-1zM38 19h1v1h-1zM73 19h1v1h-1zM32 20h1v1h-1zM32 21h1v1h-1zM58 21h1v1h-1zM76 21h1v1h-1zM24 22h1v1h-1zM77 22h1v1h-1zM60 23h1v1h-1zM49 24h1v1h-1zM80 24h1v1h-1zM17 25h1v1h-1zM15 26h1v1h-1zM52 26h1v1h-1zM83 26h1v1h-1zM3 27h5v1h-5zM11 27h1v1h-1zM85 27h1v1h-1zM133 27h2v1h-2zM128 28h3v1h-3zM77 29h1v1h-1zM123 29h4v1h-4zM57 30h1v1h-1zM79 30h1v1h-1zM91 30h1v1h-1zM117 30h6v1h-6zM81 31h1v1h-1zM93 31h1v1h-1zM113 31h4v1h-4zM119 31h9v1h-9zM60 32h1v1h-1zM96 32h3v1h-3zM110 32h10v1h-10zM86 33h1v1h-1zM101 33h14v1h-14zM89 34h2v1h-2zM102 34h4v1h-4zM93 35h1v1h-1zM100 35h2v1h-2zM72 40h1v1h-1zM79 46h1v1h-1zM41 54h7v1h-7zM90 54h1v1h-1zM24 55h3v1h-3zM52 55h1v1h-1zM14 56h2v1h-2zM84 56h1v1h-1zM93 56h1v1h-1zM4 57h2v1h-2zM85 57h2v1h-2zM97 59h1v1h-1zM74 63h1v1h-1zM81 64h1v1h-1zM106 64h1v1h-1zM92 65h1v1h-1zM108 65h1v1h-1zM98 66h1v1h-1zM110 66h1v1h-1zM103 67h1v1h-1zM112 67h1v1h-1zM110 68h3v1h-3zM43 80h1v1h-1zM66 80h1v1h-1zM36 81h2v1h-2zM71 81h1v1h-1zM27 82h3v1h-3zM75 82h1v1h-1zM23 83h2v1h-2zM78 83h1v1h-1zM22 84h2v1h-2zM81 84h1v1h-1zM46 85h2v1h-2zM84 85h1v1h-1zM54 86h1v1h-1zM89 87h1v1h-1zM92 88h1v1h-1zM67 90h1v1h-1zM113 93h1v1h-1zM78 94h1v1h-1zM117 94h1v1h-1zM121 95h1v1h-1zM127 96h1v1h-1zM135 97h1v1h-1zM113 103h1v1h-1z"/><path fill="#3a3a3a" d="M49 4h1v1h-1zM49 5h1v1h-1zM128 6h2v1h-2zM138 6h1v1h-1zM50 7h1v1h-1zM52 7h1v1h-1zM127 7h1v1h-1zM53 8h1v1h-1zM55 8h4v1h-4zM127 8h1v1h-1zM51 9h1v1h-1zM54 9h2v1h-2zM59 9h1v1h-1zM129 9h2v1h-2zM136 9h3v1h-3zM52 11h1v1h-1zM62 11h1v1h-1zM63 12h1v1h-1zM0 13h17v1h-17zM53 13h1v1h-1zM65 13h1v1h-1zM0 14h5v1h-5zM16 14h7v1h-7zM2 15h26v1h-26zM68 15h1v1h-1zM22 16h4v1h-4zM29 16h2v1h-2zM69 16h1v1h-1zM26 17h3v1h-3zM32 17h2v1h-2zM70 17h1v1h-1zM30 18h2v1h-2zM35 18h1v1h-1zM56 18h1v1h-1zM71 18h1v1h-1zM32 19h1v1h-1zM33 20h1v1h-1zM74 20h1v1h-1zM33 21h1v1h-1zM42 21h1v1h-1zM75 21h1v1h-1zM25 22h1v1h-1zM59 22h1v1h-1zM61 23h4v1h-4zM78 23h1v1h-1zM20 24h1v1h-1zM67 24h1v1h-1zM18 25h1v1h-1zM69 25h1v1h-1zM81 25h1v1h-1zM71 26h1v1h-1zM12 27h1v1h-1zM73 27h1v1h-1zM84 27h1v1h-1zM135 27h4v1h-4zM75 28h1v1h-1zM86 28h1v1h-1zM131 28h2v1h-2zM88 29h1v1h-1zM127 29h3v1h-3zM90 30h1v1h-1zM123 30h6v1h-6zM82 31h1v1h-1zM92 31h1v1h-1zM117 31h2v1h-2zM128 31h6v1h-6zM84 32h1v1h-1zM94 32h2v1h-2zM87 33h2v1h-2zM98 33h3v1h-3zM91 34h1v1h-1zM99 34h3v1h-3zM64 35h1v1h-1zM94 35h6v1h-6zM24 37h3v1h-3zM67 37h1v1h-1zM22 38h4v1h-4zM80 47h1v1h-1zM84 50h1v1h-1zM87 52h1v1h-1zM37 54h4v1h-4zM48 54h1v1h-1zM22 55h2v1h-2zM53 55h1v1h-1zM11 56h3v1h-3zM57 56h1v1h-1zM83 56h1v1h-1zM85 56h1v1h-1zM2 57h2v1h-2zM61 57h1v1h-1zM87 57h1v1h-1zM94 57h1v1h-1zM87 58h2v1h-2zM100 61h1v1h-1zM102 62h1v1h-1zM104 63h1v1h-1zM82 64h1v1h-1zM93 65h1v1h-1zM99 66h1v1h-1zM109 66h1v1h-1zM104 67h1v1h-1zM110 67h2v1h-2zM44 80h1v1h-1zM64 80h2v1h-2zM38 81h2v1h-2zM30 82h3v1h-3zM25 83h3v1h-3zM24 84h16v1h-16zM48 85h1v1h-1zM86 86h1v1h-1zM59 87h1v1h-1zM62 88h1v1h-1zM99 90h1v1h-1zM103 91h1v1h-1zM72 92h1v1h-1zM108 92h1v1h-1zM75 93h1v1h-1zM82 95h1v1h-1zM126 96h1v1h-1zM90 97h1v1h-1zM134 97h1v1h-1zM94 98h1v1h-1zM98 99h1v1h-1zM102 100h1v1h-1zM116 104h1v1h-1z"/><path fill="#3c3c3c" d="M50 5h1v1h-1zM50 6h2v1h-2zM130 6h3v1h-3zM134 6h4v1h-4zM128 7h2v1h-2zM138 7h1v1h-1zM51 8h1v1h-1zM128 8h2v1h-2zM137 8h2v1h-2zM53 9h1v1h-1zM56 9h3v1h-3zM131 9h5v1h-5zM54 10h3v1h-3zM60 10h1v1h-1zM61 11h1v1h-1zM62 12h1v1h-1zM64 13h1v1h-1zM5 14h11v1h-11zM66 14h1v1h-1zM67 15h1v1h-1zM26 16h3v1h-3zM55 16h1v1h-1zM68 16h1v1h-1zM29 17h3v1h-3zM32 18h3v1h-3zM33 19h2v1h-2zM37 19h1v1h-1zM72 19h1v1h-1zM34 20h1v1h-1zM39 20h1v1h-1zM73 20h1v1h-1zM34 21h1v1h-1zM41 21h1v1h-1zM26 22h5v1h-5zM76 22h1v1h-1zM22 23h1v1h-1zM47 23h1v1h-1zM65 23h1v1h-1zM79 24h1v1h-1zM82 26h1v1h-1zM13 27h1v1h-1zM53 27h1v1h-1zM76 28h1v1h-1zM85 28h1v1h-1zM133 28h2v1h-2zM78 29h1v1h-1zM87 29h1v1h-1zM130 29h2v1h-2zM80 30h1v1h-1zM89 30h1v1h-1zM129 30h3v1h-3zM58 31h1v1h-1zM83 31h1v1h-1zM91 31h1v1h-1zM134 31h5v1h-5zM85 32h2v1h-2zM93 32h1v1h-1zM61 33h1v1h-1zM89 33h2v1h-2zM94 33h4v1h-4zM92 34h7v1h-7zM23 37h1v1h-1zM27 37h1v1h-1zM21 38h1v1h-1zM26 38h2v1h-2zM70 39h1v1h-1zM73 41h1v1h-1zM34 54h3v1h-3zM49 54h1v1h-1zM20 55h2v1h-2zM54 55h1v1h-1zM82 55h2v1h-2zM91 55h1v1h-1zM9 56h2v1h-2zM58 56h1v1h-1zM0 57h2v1h-2zM84 57h1v1h-1zM64 58h1v1h-1zM86 58h1v1h-1zM95 58h1v1h-1zM66 59h1v1h-1zM68 60h1v1h-1zM98 60h1v1h-1zM70 61h1v1h-1zM72 62h1v1h-1zM75 63h1v1h-1zM83 64h1v1h-1zM105 64h1v1h-1zM94 65h1v1h-1zM107 65h1v1h-1zM108 66h1v1h-1zM105 67h5v1h-5zM45 80h2v1h-2zM63 80h1v1h-1zM40 81h1v1h-1zM70 81h1v1h-1zM33 82h4v1h-4zM74 82h1v1h-1zM28 83h6v1h-6zM77 83h1v1h-1zM40 84h2v1h-2zM49 85h1v1h-1zM55 86h1v1h-1zM65 89h1v1h-1zM95 89h1v1h-1zM107 92h1v1h-1zM112 93h1v1h-1zM116 94h1v1h-1zM120 95h1v1h-1zM86 96h1v1h-1zM133 97h1v1h-1zM106 101h1v1h-1zM110 102h1v1h-1z"/><path fill="#3e3e3e" d="M133 6h1v1h-1zM51 7h1v1h-1zM130 7h3v1h-3zM135 7h3v1h-3zM52 8h1v1h-1zM130 8h7v1h-7zM52 9h1v1h-1zM52 10h1v1h-1zM57 10h3v1h-3zM55 11h2v1h-2zM60 11h1v1h-1zM53 12h1v1h-1zM61 12h1v1h-1zM63 13h1v1h-1zM54 14h1v1h-1zM64 14h2v1h-2zM66 15h1v1h-1zM69 17h1v1h-1zM70 18h1v1h-1zM35 19h2v1h-2zM57 19h1v1h-1zM71 19h1v1h-1zM35 20h1v1h-1zM38 20h1v1h-1zM35 21h1v1h-1zM74 21h1v1h-1zM31 22h2v1h-2zM45 22h1v1h-1zM60 22h1v1h-1zM62 22h2v1h-2zM66 23h1v1h-1zM77 23h1v1h-1zM68 24h1v1h-1zM50 25h1v1h-1zM70 25h1v1h-1zM80 25h1v1h-1zM16 26h1v1h-1zM72 26h1v1h-1zM74 27h1v1h-1zM83 27h1v1h-1zM0 28h2v1h-2zM54 28h1v1h-1zM135 28h4v1h-4zM79 29h1v1h-1zM86 29h1v1h-1zM132 29h3v1h-3zM81 30h1v1h-1zM88 30h1v1h-1zM132 30h4v1h-4zM84 31h1v1h-1zM89 31h2v1h-2zM87 32h6v1h-6zM91 33h3v1h-3zM65 36h1v1h-1zM22 37h1v1h-1zM28 37h1v1h-1zM35 37h3v1h-3zM28 38h1v1h-1zM34 38h5v1h-5zM68 38h1v1h-1zM21 39h5v1h-5zM81 48h1v1h-1zM88 53h1v1h-1zM31 54h3v1h-3zM50 54h1v1h-1zM17 55h3v1h-3zM55 55h1v1h-1zM81 55h1v1h-1zM7 56h2v1h-2zM59 56h1v1h-1zM86 56h1v1h-1zM92 56h1v1h-1zM62 57h1v1h-1zM89 58h1v1h-1zM96 59h1v1h-1zM99 61h1v1h-1zM101 62h1v1h-1zM103 63h1v1h-1zM84 64h1v1h-1zM95 65h1v1h-1zM106 65h1v1h-1zM100 66h1v1h-1zM107 66h1v1h-1zM47 80h2v1h-2zM61 80h2v1h-2zM41 81h1v1h-1zM69 81h1v1h-1zM37 82h2v1h-2zM34 83h4v1h-4zM42 84h2v1h-2zM80 84h1v1h-1zM50 85h2v1h-2zM83 85h1v1h-1zM56 86h1v1h-1zM60 87h1v1h-1zM88 87h1v1h-1zM91 88h1v1h-1zM70 91h1v1h-1zM79 94h1v1h-1zM125 96h1v1h-1zM132 97h1v1h-1z"/><path fill="#404040" d="M133 7h2v1h-2zM53 10h1v1h-1zM53 11h2v1h-2zM57 11h3v1h-3zM54 12h4v1h-4zM60 12h1v1h-1zM54 13h1v1h-1zM56 13h2v1h-2zM62 13h1v1h-1zM63 14h1v1h-1zM55 15h1v1h-1zM65 15h1v1h-1zM67 16h1v1h-1zM56 17h1v1h-1zM68 17h1v1h-1zM69 18h1v1h-1zM36 20h2v1h-2zM58 20h1v1h-1zM72 20h1v1h-1zM36 21h1v1h-1zM40 21h1v1h-1zM59 21h1v1h-1zM33 22h1v1h-1zM61 22h1v1h-1zM64 22h1v1h-1zM75 22h1v1h-1zM23 23h1v1h-1zM67 23h1v1h-1zM21 24h1v1h-1zM69 24h1v1h-1zM78 24h1v1h-1zM19 25h1v1h-1zM71 25h1v1h-1zM73 26h1v1h-1zM81 26h1v1h-1zM14 27h1v1h-1zM75 27h1v1h-1zM82 27h1v1h-1zM2 28h9v1h-9zM77 28h1v1h-1zM84 28h1v1h-1zM55 29h1v1h-1zM85 29h1v1h-1zM135 29h4v1h-4zM82 30h1v1h-1zM86 30h2v1h-2zM136 30h3v1h-3zM85 31h4v1h-4zM59 32h1v1h-1zM62 34h1v1h-1zM29 37h1v1h-1zM33 37h2v1h-2zM38 37h1v1h-1zM29 38h5v1h-5zM39 38h1v1h-1zM20 39h1v1h-1zM26 39h2v1h-2zM37 39h2v1h-2zM74 42h1v1h-1zM75 43h1v1h-1zM76 44h1v1h-1zM85 51h1v1h-1zM28 54h3v1h-3zM51 54h1v1h-1zM80 54h2v1h-2zM15 55h2v1h-2zM56 55h1v1h-1zM84 55h1v1h-1zM5 56h2v1h-2zM82 56h1v1h-1zM88 57h1v1h-1zM93 57h1v1h-1zM85 58h1v1h-1zM94 58h1v1h-1zM88 59h3v1h-3zM97 60h1v1h-1zM76 63h1v1h-1zM104 64h1v1h-1zM96 65h1v1h-1zM101 66h1v1h-1zM106 66h1v1h-1zM49 80h4v1h-4zM60 80h1v1h-1zM42 81h1v1h-1zM68 81h1v1h-1zM39 82h1v1h-1zM73 82h1v1h-1zM38 83h2v1h-2zM44 84h2v1h-2zM52 85h1v1h-1zM57 86h1v1h-1zM63 88h1v1h-1zM68 90h1v1h-1zM98 90h1v1h-1zM102 91h1v1h-1zM73 92h1v1h-1zM76 93h1v1h-1zM83 95h1v1h-1zM119 95h1v1h-1zM124 96h1v1h-1z"/><path fill="#424242" d="M58 12h2v1h-2zM55 13h1v1h-1zM58 13h1v1h-1zM60 13h2v1h-2zM55 14h3v1h-3zM62 14h1v1h-1zM57 15h1v1h-1zM64 15h1v1h-1zM56 16h1v1h-1zM65 16h2v1h-2zM67 17h1v1h-1zM57 18h1v1h-1zM70 19h1v1h-1zM71 20h1v1h-1zM37 21h3v1h-3zM62 21h1v1h-1zM73 21h1v1h-1zM34 22h1v1h-1zM65 22h1v1h-1zM74 22h1v1h-1zM76 23h1v1h-1zM77 24h1v1h-1zM79 25h1v1h-1zM17 26h1v1h-1zM80 26h1v1h-1zM76 27h1v1h-1zM11 28h1v1h-1zM78 28h1v1h-1zM83 28h1v1h-1zM80 29h2v1h-2zM83 29h2v1h-2zM56 30h1v1h-1zM83 30h3v1h-3zM26 36h1v1h-1zM21 37h1v1h-1zM30 37h3v1h-3zM20 38h1v1h-1zM40 38h1v1h-1zM19 39h1v1h-1zM28 39h1v1h-1zM34 39h3v1h-3zM39 39h2v1h-2zM20 40h3v1h-3zM71 40h1v1h-1zM77 45h1v1h-1zM82 49h1v1h-1zM75 52h2v1h-2zM41 53h7v1h-7zM77 53h3v1h-3zM25 54h3v1h-3zM52 54h1v1h-1zM79 54h1v1h-1zM82 54h1v1h-1zM89 54h1v1h-1zM13 55h2v1h-2zM57 55h1v1h-1zM3 56h2v1h-2zM60 56h1v1h-1zM63 57h1v1h-1zM65 58h1v1h-1zM90 58h1v1h-1zM67 59h1v1h-1zM91 59h1v1h-1zM95 59h1v1h-1zM96 60h1v1h-1zM98 61h1v1h-1zM100 62h1v1h-1zM77 63h2v1h-2zM102 63h1v1h-1zM85 64h1v1h-1zM105 65h1v1h-1zM102 66h4v1h-4zM53 80h7v1h-7zM43 81h2v1h-2zM67 81h1v1h-1zM40 82h2v1h-2zM40 83h2v1h-2zM76 83h1v1h-1zM46 84h1v1h-1zM79 84h1v1h-1zM53 85h1v1h-1zM85 86h1v1h-1zM66 89h1v1h-1zM94 89h1v1h-1zM106 92h1v1h-1zM111 93h1v1h-1zM115 94h1v1h-1zM87 96h1v1h-1zM91 97h1v1h-1zM131 97h1v1h-1zM95 98h1v1h-1zM99 99h1v1h-1zM114 103h1v1h-1z"/><path fill="#444444" d="M59 13h1v1h-1zM58 14h4v1h-4zM56 15h1v1h-1zM58 15h1v1h-1zM62 15h2v1h-2zM57 16h2v1h-2zM64 16h1v1h-1zM57 17h1v1h-1zM65 17h2v1h-2zM67 18h2v1h-2zM58 19h1v1h-1zM69 19h1v1h-1zM59 20h1v1h-1zM70 20h1v1h-1zM60 21h2v1h-2zM63 21h2v1h-2zM72 21h1v1h-1zM35 22h1v1h-1zM44 22h1v1h-1zM66 22h1v1h-1zM73 22h1v1h-1zM24 23h1v1h-1zM68 23h1v1h-1zM75 23h1v1h-1zM48 24h1v1h-1zM70 24h1v1h-1zM76 24h1v1h-1zM72 25h1v1h-1zM78 25h1v1h-1zM51 26h1v1h-1zM74 26h1v1h-1zM79 26h1v1h-1zM15 27h1v1h-1zM77 27h1v1h-1zM80 27h2v1h-2zM12 28h1v1h-1zM79 28h4v1h-4zM82 29h1v1h-1zM63 35h1v1h-1zM25 36h1v1h-1zM27 36h1v1h-1zM39 37h1v1h-1zM66 37h1v1h-1zM18 39h1v1h-1zM29 39h5v1h-5zM41 39h1v1h-1zM18 40h2v1h-2zM23 40h3v1h-3zM78 46h1v1h-1zM73 51h1v1h-1zM74 52h1v1h-1zM77 52h1v1h-1zM86 52h1v1h-1zM38 53h3v1h-3zM48 53h1v1h-1zM76 53h1v1h-1zM22 54h3v1h-3zM53 54h2v1h-2zM78 54h1v1h-1zM11 55h2v1h-2zM80 55h1v1h-1zM90 55h1v1h-1zM2 56h1v1h-1zM91 56h1v1h-1zM83 57h1v1h-1zM92 57h1v1h-1zM91 58h1v1h-1zM93 58h1v1h-1zM87 59h1v1h-1zM92 59h3v1h-3zM69 60h1v1h-1zM95 60h1v1h-1zM97 61h1v1h-1zM99 62h1v1h-1zM79 63h1v1h-1zM101 63h1v1h-1zM86 64h1v1h-1zM103 64h1v1h-1zM97 65h1v1h-1zM104 65h1v1h-1zM45 81h1v1h-1zM66 81h1v1h-1zM42 82h1v1h-1zM72 82h1v1h-1zM42 83h1v1h-1zM47 84h2v1h-2zM54 85h1v1h-1zM82 85h1v1h-1zM58 86h1v1h-1zM61 87h1v1h-1zM90 88h1v1h-1zM101 91h1v1h-1zM80 94h1v1h-1zM123 96h1v1h-1zM130 97h1v1h-1zM103 100h1v1h-1zM107 101h1v1h-1z"/><path fill="#464646" d="M59 15h3v1h-3zM59 16h1v1h-1zM61 16h3v1h-3zM58 17h2v1h-2zM63 17h2v1h-2zM58 18h2v1h-2zM65 18h2v1h-2zM59 19h1v1h-1zM67 19h2v1h-2zM60 20h4v1h-4zM68 20h2v1h-2zM65 21h1v1h-1zM70 21h2v1h-2zM36 22h8v1h-8zM67 22h1v1h-1zM72 22h1v1h-1zM25 23h1v1h-1zM69 23h1v1h-1zM74 23h1v1h-1zM71 24h1v1h-1zM75 24h1v1h-1zM20 25h1v1h-1zM73 25h1v1h-1zM76 25h2v1h-2zM75 26h4v1h-4zM78 27h2v1h-2zM60 33h1v1h-1zM24 36h1v1h-1zM28 36h1v1h-1zM35 36h2v1h-2zM19 38h1v1h-1zM41 38h1v1h-1zM17 39h1v1h-1zM69 39h1v1h-1zM16 40h2v1h-2zM26 40h2v1h-2zM38 40h1v1h-1zM79 47h1v1h-1zM83 50h1v1h-1zM72 51h1v1h-1zM74 51h1v1h-1zM73 52h1v1h-1zM34 53h4v1h-4zM49 53h1v1h-1zM80 53h1v1h-1zM20 54h2v1h-2zM55 54h1v1h-1zM83 54h1v1h-1zM9 55h2v1h-2zM58 55h1v1h-1zM85 55h1v1h-1zM0 56h2v1h-2zM61 56h1v1h-1zM87 56h1v1h-1zM89 57h1v1h-1zM92 58h1v1h-1zM91 60h4v1h-4zM71 61h1v1h-1zM96 61h1v1h-1zM73 62h1v1h-1zM98 62h1v1h-1zM100 63h1v1h-1zM87 64h1v1h-1zM102 64h1v1h-1zM98 65h2v1h-2zM103 65h1v1h-1zM46 81h2v1h-2zM65 81h1v1h-1zM43 82h1v1h-1zM43 83h2v1h-2zM75 83h1v1h-1zM49 84h1v1h-1zM87 87h1v1h-1zM64 88h1v1h-1zM97 90h1v1h-1zM71 91h1v1h-1zM105 92h1v1h-1zM110 93h1v1h-1zM118 95h1v1h-1zM111 102h1v1h-1zM117 104h1v1h-1z"/><path fill="#484848" d="M60 16h1v1h-1zM60 17h3v1h-3zM60 18h5v1h-5zM60 19h7v1h-7zM64 20h4v1h-4zM66 21h4v1h-4zM68 22h4v1h-4zM26 23h1v1h-1zM46 23h1v1h-1zM70 23h4v1h-4zM72 24h3v1h-3zM74 25h2v1h-2zM18 26h1v1h-1zM52 27h1v1h-1zM13 28h1v1h-1zM0 29h3v1h-3zM57 31h1v1h-1zM23 36h1v1h-1zM29 36h1v1h-1zM33 36h2v1h-2zM64 36h1v1h-1zM40 37h1v1h-1zM18 38h1v1h-1zM42 39h1v1h-1zM28 40h2v1h-2zM34 40h4v1h-4zM39 40h3v1h-3zM16 41h6v1h-6zM75 51h1v1h-1zM78 52h1v1h-1zM32 53h2v1h-2zM50 53h1v1h-1zM75 53h1v1h-1zM87 53h1v1h-1zM18 54h2v1h-2zM56 54h1v1h-1zM77 54h1v1h-1zM7 55h2v1h-2zM59 55h1v1h-1zM81 56h1v1h-1zM64 57h1v1h-1zM90 57h2v1h-2zM66 58h1v1h-1zM90 60h1v1h-1zM95 61h1v1h-1zM97 62h1v1h-1zM80 63h1v1h-1zM99 63h1v1h-1zM88 64h1v1h-1zM101 64h1v1h-1zM100 65h3v1h-3zM48 81h2v1h-2zM64 81h1v1h-1zM44 82h1v1h-1zM71 82h1v1h-1zM45 83h1v1h-1zM50 84h1v1h-1zM78 84h1v1h-1zM55 85h1v1h-1zM59 86h1v1h-1zM84 86h1v1h-1zM62 87h1v1h-1zM93 89h1v1h-1zM69 90h1v1h-1zM74 92h1v1h-1zM77 93h1v1h-1zM114 94h1v1h-1zM84 95h1v1h-1zM88 96h1v1h-1zM122 96h1v1h-1zM129 97h1v1h-1zM137 98h2v1h-2z"/><path fill="#4a4a4a" d="M27 23h3v1h-3zM22 24h1v1h-1zM49 25h1v1h-1zM16 27h1v1h-1zM3 29h3v1h-3zM9 29h1v1h-1zM61 34h1v1h-1zM32 36h1v1h-1zM37 36h1v1h-1zM20 37h1v1h-1zM67 38h1v1h-1zM16 39h1v1h-1zM15 40h1v1h-1zM30 40h4v1h-4zM42 40h1v1h-1zM15 41h1v1h-1zM22 41h3v1h-3zM72 41h1v1h-1zM80 48h1v1h-1zM84 51h1v1h-1zM29 53h3v1h-3zM51 53h1v1h-1zM81 53h1v1h-1zM15 54h3v1h-3zM88 54h1v1h-1zM5 55h2v1h-2zM79 55h1v1h-1zM89 55h1v1h-1zM62 56h1v1h-1zM88 56h1v1h-1zM90 56h1v1h-1zM84 58h1v1h-1zM68 59h1v1h-1zM86 59h1v1h-1zM93 61h2v1h-2zM96 62h1v1h-1zM81 63h1v1h-1zM98 63h1v1h-1zM89 64h6v1h-6zM99 64h2v1h-2zM50 81h3v1h-3zM62 81h2v1h-2zM45 82h2v1h-2zM70 82h1v1h-1zM46 83h2v1h-2zM51 84h1v1h-1zM56 85h1v1h-1zM81 85h1v1h-1zM67 89h1v1h-1zM100 91h1v1h-1zM109 93h1v1h-1zM92 97h1v1h-1zM128 97h1v1h-1zM96 98h1v1h-1zM136 98h1v1h-1zM100 99h1v1h-1z"/><path fill="#4c4c4c" d="M30 23h2v1h-2zM39 23h3v1h-3zM14 28h1v1h-1zM53 28h1v1h-1zM6 29h3v1h-3zM10 29h1v1h-1zM58 32h1v1h-1zM22 36h1v1h-1zM30 36h2v1h-2zM17 38h1v1h-1zM42 38h1v1h-1zM15 39h1v1h-1zM14 40h1v1h-1zM70 40h1v1h-1zM14 41h1v1h-1zM25 41h2v1h-2zM72 50h2v1h-2zM76 51h1v1h-1zM42 52h6v1h-6zM72 52h1v1h-1zM79 52h1v1h-1zM26 53h3v1h-3zM52 53h2v1h-2zM74 53h1v1h-1zM13 54h2v1h-2zM57 54h1v1h-1zM84 54h1v1h-1zM3 55h2v1h-2zM60 55h1v1h-1zM86 55h1v1h-1zM89 56h1v1h-1zM70 60h1v1h-1zM89 60h1v1h-1zM74 62h1v1h-1zM95 62h1v1h-1zM97 63h1v1h-1zM95 64h4v1h-4zM53 81h3v1h-3zM60 81h2v1h-2zM47 82h2v1h-2zM48 83h1v1h-1zM74 83h1v1h-1zM52 84h2v1h-2zM57 85h1v1h-1zM60 86h1v1h-1zM65 88h1v1h-1zM89 88h1v1h-1zM96 90h1v1h-1zM104 92h1v1h-1zM81 94h1v1h-1zM135 98h1v1h-1zM104 100h1v1h-1z"/><path fill="#4e4e4e" d="M32 23h2v1h-2zM38 23h1v1h-1zM19 26h1v1h-1zM11 29h1v1h-1zM38 36h1v1h-1zM41 37h1v1h-1zM65 37h1v1h-1zM43 39h1v1h-1zM13 40h1v1h-1zM43 40h1v1h-1zM13 41h1v1h-1zM27 41h3v1h-3zM35 41h7v1h-7zM13 42h8v1h-8zM81 49h1v1h-1zM71 50h1v1h-1zM71 51h1v1h-1zM38 52h4v1h-4zM48 52h1v1h-1zM85 52h1v1h-1zM23 53h3v1h-3zM54 53h2v1h-2zM82 53h1v1h-1zM10 54h3v1h-3zM58 54h1v1h-1zM76 54h1v1h-1zM1 55h2v1h-2zM63 56h1v1h-1zM65 57h1v1h-1zM82 57h1v1h-1zM72 61h1v1h-1zM92 61h1v1h-1zM82 63h1v1h-1zM96 63h1v1h-1zM56 81h4v1h-4zM49 82h1v1h-1zM69 82h1v1h-1zM49 83h2v1h-2zM54 84h1v1h-1zM77 84h1v1h-1zM63 87h1v1h-1zM86 87h1v1h-1zM92 89h1v1h-1zM72 91h1v1h-1zM78 93h1v1h-1zM113 94h1v1h-1zM85 95h1v1h-1zM117 95h1v1h-1zM121 96h1v1h-1zM127 97h1v1h-1zM108 101h1v1h-1z"/><path fill="#505050" d="M34 23h4v1h-4zM45 23h1v1h-1zM23 24h1v1h-1zM47 24h1v1h-1zM21 25h1v1h-1zM50 26h1v1h-1zM17 27h1v1h-1zM54 29h1v1h-1zM59 33h1v1h-1zM62 35h1v1h-1zM19 37h1v1h-1zM16 38h1v1h-1zM68 39h1v1h-1zM12 41h1v1h-1zM30 41h5v1h-5zM42 41h1v1h-1zM12 42h1v1h-1zM21 42h3v1h-3zM73 42h1v1h-1zM82 50h1v1h-1zM77 51h1v1h-1zM35 52h3v1h-3zM49 52h1v1h-1zM20 53h3v1h-3zM56 53h1v1h-1zM86 53h1v1h-1zM8 54h2v1h-2zM87 54h1v1h-1zM0 55h1v1h-1zM61 55h1v1h-1zM78 55h1v1h-1zM87 55h2v1h-2zM80 56h1v1h-1zM67 58h1v1h-1zM88 60h1v1h-1zM91 61h1v1h-1zM75 62h1v1h-1zM94 62h1v1h-1zM83 63h1v1h-1zM95 63h1v1h-1zM50 82h2v1h-2zM68 82h1v1h-1zM51 83h1v1h-1zM73 83h1v1h-1zM55 84h1v1h-1zM58 85h1v1h-1zM80 85h1v1h-1zM83 86h1v1h-1zM70 90h1v1h-1zM75 92h1v1h-1zM108 93h1v1h-1zM89 96h1v1h-1zM134 98h1v1h-1zM112 102h1v1h-1zM115 103h1v1h-1z"/><path fill="#525252" d="M42 23h1v1h-1zM15 28h1v1h-1zM12 29h1v1h-1zM0 30h2v1h-2zM55 30h1v1h-1zM14 39h1v1h-1zM12 40h1v1h-1zM11 41h1v1h-1zM43 41h1v1h-1zM10 42h2v1h-2zM24 42h3v1h-3zM13 43h4v1h-4zM74 50h1v1h-1zM83 51h1v1h-1zM32 52h3v1h-3zM50 52h2v1h-2zM80 52h1v1h-1zM17 53h3v1h-3zM57 53h1v1h-1zM73 53h1v1h-1zM6 54h2v1h-2zM59 54h1v1h-1zM85 54h1v1h-1zM69 59h1v1h-1zM85 59h1v1h-1zM93 62h1v1h-1zM94 63h1v1h-1zM52 82h3v1h-3zM67 82h1v1h-1zM52 83h2v1h-2zM61 86h1v1h-1zM66 88h1v1h-1zM68 89h1v1h-1zM95 90h1v1h-1zM99 91h1v1h-1zM103 92h1v1h-1zM93 97h1v1h-1zM126 97h1v1h-1z"/><path fill="#545454" d="M43 23h1v1h-1zM2 30h2v1h-2zM56 31h1v1h-1zM21 36h1v1h-1zM39 36h1v1h-1zM43 38h1v1h-1zM66 38h1v1h-1zM44 40h1v1h-1zM10 41h1v1h-1zM9 42h1v1h-1zM27 42h2v1h-2zM37 42h2v1h-2zM9 43h4v1h-4zM17 43h4v1h-4zM74 43h1v1h-1zM75 44h1v1h-1zM76 45h1v1h-1zM77 46h1v1h-1zM29 52h3v1h-3zM52 52h4v1h-4zM71 52h1v1h-1zM84 52h1v1h-1zM14 53h3v1h-3zM83 53h1v1h-1zM4 54h2v1h-2zM60 54h1v1h-1zM75 54h1v1h-1zM86 54h1v1h-1zM62 55h1v1h-1zM64 56h1v1h-1zM66 57h1v1h-1zM83 58h1v1h-1zM76 62h2v1h-2zM84 63h1v1h-1zM93 63h1v1h-1zM55 82h2v1h-2zM65 82h2v1h-2zM54 83h1v1h-1zM72 83h1v1h-1zM56 84h1v1h-1zM76 84h1v1h-1zM59 85h1v1h-1zM64 87h1v1h-1zM88 88h1v1h-1zM91 89h1v1h-1zM82 94h1v1h-1zM112 94h1v1h-1zM116 95h1v1h-1zM120 96h1v1h-1zM97 98h1v1h-1zM133 98h1v1h-1zM101 99h1v1h-1z"/><path fill="#565656" d="M44 23h1v1h-1zM24 24h1v1h-1zM40 24h2v1h-2zM48 25h1v1h-1zM51 27h1v1h-1zM13 29h1v1h-1zM4 30h2v1h-2zM60 34h1v1h-1zM63 36h1v1h-1zM18 37h1v1h-1zM15 38h1v1h-1zM13 39h1v1h-1zM44 39h1v1h-1zM11 40h1v1h-1zM44 41h1v1h-1zM71 41h1v1h-1zM8 42h1v1h-1zM29 42h8v1h-8zM39 42h4v1h-4zM8 43h1v1h-1zM21 43h3v1h-3zM78 47h1v1h-1zM70 50h1v1h-1zM75 50h1v1h-1zM41 51h8v1h-8zM70 51h1v1h-1zM78 51h1v1h-1zM25 52h4v1h-4zM56 52h1v1h-1zM81 52h1v1h-1zM11 53h3v1h-3zM58 53h1v1h-1zM84 53h2v1h-2zM2 54h2v1h-2zM77 55h1v1h-1zM68 58h1v1h-1zM71 60h1v1h-1zM87 60h1v1h-1zM90 61h1v1h-1zM78 62h1v1h-1zM92 62h1v1h-1zM92 63h1v1h-1zM57 82h2v1h-2zM63 82h2v1h-2zM55 83h1v1h-1zM57 84h1v1h-1zM79 85h1v1h-1zM62 86h1v1h-1zM85 87h1v1h-1zM73 91h1v1h-1zM79 93h1v1h-1zM107 93h1v1h-1zM86 95h1v1h-1zM125 97h1v1h-1z"/><path fill="#585858" d="M25 24h1v1h-1zM20 26h1v1h-1zM18 27h1v1h-1zM6 30h4v1h-4zM57 32h1v1h-1zM27 35h1v1h-1zM42 37h1v1h-1zM69 40h1v1h-1zM9 41h1v1h-1zM43 42h1v1h-1zM7 43h1v1h-1zM24 43h3v1h-3zM6 44h11v1h-11zM79 48h1v1h-1zM80 49h1v1h-1zM37 51h4v1h-4zM49 51h2v1h-2zM54 51h2v1h-2zM22 52h3v1h-3zM57 52h1v1h-1zM82 52h2v1h-2zM8 53h3v1h-3zM59 53h1v1h-1zM72 53h1v1h-1zM0 54h2v1h-2zM61 54h1v1h-1zM63 55h1v1h-1zM79 56h1v1h-1zM81 57h1v1h-1zM73 61h1v1h-1zM79 62h1v1h-1zM85 63h1v1h-1zM91 63h1v1h-1zM59 82h4v1h-4zM56 83h1v1h-1zM71 83h1v1h-1zM58 84h1v1h-1zM60 85h1v1h-1zM82 86h1v1h-1zM98 91h1v1h-1zM76 92h1v1h-1zM102 92h1v1h-1zM132 98h1v1h-1zM105 100h1v1h-1zM109 101h1v1h-1zM118 104h1v1h-1z"/><path fill="#5a5a5a" d="M39 24h1v1h-1zM46 24h1v1h-1zM16 28h1v1h-1zM52 28h1v1h-1zM10 30h1v1h-1zM26 35h1v1h-1zM28 35h1v1h-1zM40 36h1v1h-1zM17 37h1v1h-1zM12 39h1v1h-1zM10 40h1v1h-1zM45 40h1v1h-1zM7 42h1v1h-1zM6 43h1v1h-1zM27 43h3v1h-3zM5 44h1v1h-1zM17 44h4v1h-4zM71 49h2v1h-2zM81 50h1v1h-1zM33 51h4v1h-4zM51 51h3v1h-3zM56 51h1v1h-1zM79 51h1v1h-1zM82 51h1v1h-1zM17 52h5v1h-5zM58 52h1v1h-1zM6 53h2v1h-2zM74 54h1v1h-1zM65 56h1v1h-1zM67 57h1v1h-1zM70 59h1v1h-1zM89 61h1v1h-1zM80 62h1v1h-1zM91 62h1v1h-1zM86 63h1v1h-1zM90 63h1v1h-1zM57 83h2v1h-2zM75 84h1v1h-1zM65 87h1v1h-1zM71 90h1v1h-1zM94 90h1v1h-1zM111 94h1v1h-1zM90 96h1v1h-1zM119 96h1v1h-1zM124 97h1v1h-1z"/><path fill="#5c5c5c" d="M26 24h2v1h-2zM42 24h1v1h-1zM22 25h1v1h-1zM49 26h1v1h-1zM14 29h1v1h-1zM11 30h1v1h-1zM0 31h1v1h-1zM25 35h1v1h-1zM34 35h3v1h-3zM61 35h1v1h-1zM20 36h1v1h-1zM64 37h1v1h-1zM14 38h1v1h-1zM67 39h1v1h-1zM8 41h1v1h-1zM45 41h1v1h-1zM44 42h1v1h-1zM5 43h1v1h-1zM30 43h13v1h-13zM4 44h1v1h-1zM21 44h3v1h-3zM3 45h11v1h-11zM56 45h1v1h-1zM54 50h2v1h-2zM69 50h1v1h-1zM76 50h1v1h-1zM29 51h4v1h-4zM57 51h1v1h-1zM80 51h1v1h-1zM12 52h5v1h-5zM70 52h1v1h-1zM3 53h3v1h-3zM60 53h1v1h-1zM62 54h1v1h-1zM64 55h1v1h-1zM76 55h1v1h-1zM69 58h1v1h-1zM84 59h1v1h-1zM72 60h1v1h-1zM81 62h1v1h-1zM87 63h1v1h-1zM89 63h1v1h-1zM59 83h1v1h-1zM70 83h1v1h-1zM59 84h1v1h-1zM61 85h1v1h-1zM78 85h1v1h-1zM63 86h1v1h-1zM67 88h1v1h-1zM87 88h1v1h-1zM69 89h1v1h-1zM90 89h1v1h-1zM106 93h1v1h-1zM83 94h1v1h-1zM115 95h1v1h-1zM94 97h1v1h-1zM131 98h1v1h-1z"/><path fill="#5e5e5e" d="M28 24h1v1h-1zM38 24h1v1h-1zM53 29h1v1h-1zM1 31h2v1h-2zM58 33h1v1h-1zM24 35h1v1h-1zM33 35h1v1h-1zM72 42h1v1h-1zM43 43h1v1h-1zM3 44h1v1h-1zM24 44h4v1h-4zM55 44h2v1h-2zM1 45h2v1h-2zM14 45h5v1h-5zM55 45h1v1h-1zM57 45h1v1h-1zM56 46h2v1h-2zM70 49h1v1h-1zM73 49h1v1h-1zM40 50h14v1h-14zM56 50h1v1h-1zM25 51h4v1h-4zM69 51h1v1h-1zM81 51h1v1h-1zM8 52h4v1h-4zM59 52h1v1h-1zM0 53h3v1h-3zM71 53h1v1h-1zM73 54h1v1h-1zM66 56h1v1h-1zM68 57h1v1h-1zM82 58h1v1h-1zM71 59h1v1h-1zM86 60h1v1h-1zM74 61h1v1h-1zM88 63h1v1h-1zM60 83h1v1h-1zM69 83h1v1h-1zM60 84h1v1h-1zM74 84h1v1h-1zM74 91h1v1h-1zM80 93h1v1h-1zM98 98h1v1h-1zM113 102h1v1h-1z"/><path fill="#606060" d="M29 24h1v1h-1zM54 30h1v1h-1zM3 31h1v1h-1zM29 35h1v1h-1zM32 35h1v1h-1zM37 35h1v1h-1zM16 37h1v1h-1zM44 38h1v1h-1zM11 39h1v1h-1zM45 39h1v1h-1zM9 40h1v1h-1zM46 40h1v1h-1zM46 41h1v1h-1zM70 41h1v1h-1zM6 42h1v1h-1zM45 42h1v1h-1zM4 43h1v1h-1zM44 43h1v1h-1zM2 44h1v1h-1zM28 44h12v1h-12zM54 44h1v1h-1zM57 44h1v1h-1zM0 45h1v1h-1zM19 45h4v1h-4zM54 45h1v1h-1zM0 46h14v1h-14zM55 46h1v1h-1zM58 46h1v1h-1zM56 47h3v1h-3zM53 49h4v1h-4zM35 50h5v1h-5zM57 50h1v1h-1zM68 50h1v1h-1zM77 50h1v1h-1zM80 50h1v1h-1zM17 51h8v1h-8zM58 51h1v1h-1zM68 51h1v1h-1zM5 52h3v1h-3zM61 53h1v1h-1zM63 54h1v1h-1zM65 55h1v1h-1zM67 56h1v1h-1zM78 56h1v1h-1zM80 57h1v1h-1zM70 58h1v1h-1zM75 61h1v1h-1zM88 61h1v1h-1zM82 62h1v1h-1zM90 62h1v1h-1zM61 83h3v1h-3zM68 83h1v1h-1zM61 84h1v1h-1zM62 85h1v1h-1zM64 86h1v1h-1zM81 86h1v1h-1zM84 87h1v1h-1zM97 91h1v1h-1zM77 92h1v1h-1zM101 92h1v1h-1zM87 95h1v1h-1zM123 97h1v1h-1zM130 98h1v1h-1zM102 99h1v1h-1z"/><path fill="#626262" d="M30 24h2v1h-2zM37 24h1v1h-1zM43 24h1v1h-1zM47 25h1v1h-1zM19 27h1v1h-1zM50 27h1v1h-1zM17 28h1v1h-1zM12 30h1v1h-1zM4 31h2v1h-2zM23 35h1v1h-1zM30 35h2v1h-2zM41 36h1v1h-1zM62 36h1v1h-1zM13 38h1v1h-1zM65 38h1v1h-1zM46 42h1v1h-1zM53 43h3v1h-3zM40 44h4v1h-4zM53 44h1v1h-1zM23 45h5v1h-5zM58 45h1v1h-1zM14 46h5v1h-5zM54 46h1v1h-1zM0 47h7v1h-7zM55 47h1v1h-1zM54 48h5v1h-5zM78 48h1v1h-1zM45 49h1v1h-1zM49 49h4v1h-4zM57 49h1v1h-1zM69 49h1v1h-1zM79 49h1v1h-1zM29 50h6v1h-6zM58 50h1v1h-1zM66 50h2v1h-2zM78 50h2v1h-2zM9 51h8v1h-8zM59 51h1v1h-1zM67 51h1v1h-1zM2 52h3v1h-3zM60 52h1v1h-1zM69 52h1v1h-1zM62 53h1v1h-1zM72 54h1v1h-1zM75 55h1v1h-1zM69 57h1v1h-1zM71 58h1v1h-1zM72 59h1v1h-1zM73 60h1v1h-1zM76 61h3v1h-3zM64 83h4v1h-4zM77 85h1v1h-1zM66 87h1v1h-1zM93 90h1v1h-1zM105 93h1v1h-1zM110 94h1v1h-1zM118 96h1v1h-1zM106 100h1v1h-1zM116 103h1v1h-1z"/><path fill="#646464" d="M32 24h1v1h-1zM45 24h1v1h-1zM15 29h1v1h-1zM6 31h1v1h-1zM55 31h1v1h-1zM59 34h1v1h-1zM19 36h1v1h-1zM43 37h1v1h-1zM68 40h1v1h-1zM7 41h1v1h-1zM47 41h2v1h-2zM5 42h1v1h-1zM47 42h1v1h-1zM49 42h3v1h-3zM45 43h1v1h-1zM51 43h2v1h-2zM56 43h1v1h-1zM44 44h1v1h-1zM52 44h1v1h-1zM28 45h12v1h-12zM53 45h1v1h-1zM19 46h5v1h-5zM53 46h1v1h-1zM59 46h1v1h-1zM7 47h10v1h-10zM53 47h2v1h-2zM59 47h1v1h-1zM77 47h1v1h-1zM51 48h3v1h-3zM59 48h1v1h-1zM36 49h9v1h-9zM46 49h3v1h-3zM58 49h1v1h-1zM64 49h5v1h-5zM74 49h1v1h-1zM9 50h20v1h-20zM65 50h1v1h-1zM4 51h5v1h-5zM66 51h1v1h-1zM0 52h2v1h-2zM61 52h1v1h-1zM68 52h1v1h-1zM70 53h1v1h-1zM64 54h1v1h-1zM66 55h1v1h-1zM74 55h1v1h-1zM68 56h1v1h-1zM77 56h1v1h-1zM70 57h2v1h-2zM72 58h2v1h-2zM73 59h1v1h-1zM85 60h1v1h-1zM79 61h1v1h-1zM83 62h1v1h-1zM89 62h1v1h-1zM62 84h1v1h-1zM73 84h1v1h-1zM63 85h1v1h-1zM68 88h1v1h-1zM72 90h1v1h-1zM84 94h1v1h-1zM114 95h1v1h-1zM91 96h1v1h-1zM129 98h1v1h-1zM137 99h2v1h-2z"/><path fill="#666666" d="M33 24h2v1h-2zM36 24h1v1h-1zM44 24h1v1h-1zM23 25h1v1h-1zM41 25h1v1h-1zM21 26h1v1h-1zM7 31h3v1h-3zM56 32h1v1h-1zM38 35h1v1h-1zM10 39h1v1h-1zM47 40h1v1h-1zM49 41h1v1h-1zM48 42h1v1h-1zM52 42h2v1h-2zM3 43h1v1h-1zM46 43h1v1h-1zM49 43h2v1h-2zM73 43h1v1h-1zM1 44h1v1h-1zM45 44h1v1h-1zM51 44h1v1h-1zM40 45h4v1h-4zM52 45h1v1h-1zM24 46h13v1h-13zM52 46h1v1h-1zM76 46h1v1h-1zM17 47h6v1h-6zM51 47h2v1h-2zM60 47h2v1h-2zM0 48h20v1h-20zM38 48h13v1h-13zM60 48h6v1h-6zM3 49h33v1h-33zM59 49h1v1h-1zM62 49h2v1h-2zM2 50h7v1h-7zM59 50h1v1h-1zM64 50h1v1h-1zM0 51h4v1h-4zM60 51h1v1h-1zM67 52h1v1h-1zM63 53h1v1h-1zM65 54h1v1h-1zM71 54h1v1h-1zM67 55h1v1h-1zM73 55h1v1h-1zM69 56h2v1h-2zM72 57h2v1h-2zM74 58h1v1h-1zM74 59h1v1h-1zM83 59h1v1h-1zM74 60h2v1h-2zM87 61h1v1h-1zM63 84h1v1h-1zM65 86h1v1h-1zM80 86h1v1h-1zM86 88h1v1h-1zM70 89h1v1h-1zM89 89h1v1h-1zM95 97h1v1h-1zM122 97h1v1h-1zM136 99h1v1h-1zM110 101h1v1h-1z"/><path fill="#686868" d="M35 24h1v1h-1zM40 25h1v1h-1zM48 26h1v1h-1zM51 28h1v1h-1zM13 30h1v1h-1zM10 31h1v1h-1zM0 32h1v1h-1zM22 35h1v1h-1zM60 35h1v1h-1zM15 37h1v1h-1zM63 37h1v1h-1zM12 38h1v1h-1zM46 39h1v1h-1zM50 41h1v1h-1zM54 42h1v1h-1zM47 43h2v1h-2zM57 43h1v1h-1zM0 44h1v1h-1zM46 44h1v1h-1zM49 44h2v1h-2zM58 44h1v1h-1zM44 45h2v1h-2zM50 45h2v1h-2zM59 45h1v1h-1zM75 45h1v1h-1zM37 46h9v1h-9zM50 46h2v1h-2zM60 46h1v1h-1zM23 47h28v1h-28zM62 47h1v1h-1zM20 48h18v1h-18zM66 48h1v1h-1zM0 49h3v1h-3zM60 49h2v1h-2zM78 49h1v1h-1zM0 50h2v1h-2zM60 50h1v1h-1zM63 50h1v1h-1zM61 51h1v1h-1zM65 51h1v1h-1zM62 52h1v1h-1zM66 52h1v1h-1zM64 53h1v1h-1zM68 53h2v1h-2zM66 54h1v1h-1zM68 55h2v1h-2zM72 55h1v1h-1zM71 56h3v1h-3zM76 56h1v1h-1zM74 57h1v1h-1zM79 57h1v1h-1zM75 58h1v1h-1zM81 58h1v1h-1zM75 59h1v1h-1zM76 60h2v1h-2zM80 61h1v1h-1zM84 62h1v1h-1zM88 62h1v1h-1zM64 84h1v1h-1zM72 84h1v1h-1zM64 85h1v1h-1zM76 85h1v1h-1zM83 87h1v1h-1zM75 91h1v1h-1zM96 91h1v1h-1zM78 92h1v1h-1zM100 92h1v1h-1zM81 93h1v1h-1zM104 93h1v1h-1zM109 94h1v1h-1zM128 98h1v1h-1z"/><path fill="#6a6a6a" d="M1 32h2v1h-2zM18 36h1v1h-1zM45 38h1v1h-1zM66 39h1v1h-1zM8 40h1v1h-1zM48 40h1v1h-1zM51 41h1v1h-1zM55 42h1v1h-1zM47 44h2v1h-2zM74 44h1v1h-1zM46 45h4v1h-4zM46 46h4v1h-4zM61 46h1v1h-1zM63 47h1v1h-1zM67 48h1v1h-1zM71 48h1v1h-1zM75 49h1v1h-1zM77 49h1v1h-1zM61 50h2v1h-2zM62 51h3v1h-3zM63 52h1v1h-1zM65 52h1v1h-1zM65 53h3v1h-3zM67 54h4v1h-4zM70 55h2v1h-2zM74 56h2v1h-2zM76 59h1v1h-1zM78 60h1v1h-1zM81 61h1v1h-1zM86 61h1v1h-1zM85 62h1v1h-1zM87 62h1v1h-1zM65 84h1v1h-1zM67 87h1v1h-1zM92 90h1v1h-1zM88 95h1v1h-1zM99 98h1v1h-1zM135 99h1v1h-1zM119 104h1v1h-1z"/><path fill="#6c6c6c" d="M24 25h1v1h-1zM42 25h1v1h-1zM46 25h1v1h-1zM18 28h1v1h-1zM16 29h1v1h-1zM52 29h1v1h-1zM3 32h1v1h-1zM57 33h1v1h-1zM49 40h1v1h-1zM6 41h1v1h-1zM52 41h1v1h-1zM69 41h1v1h-1zM4 42h1v1h-1zM71 42h1v1h-1zM2 43h1v1h-1zM64 47h1v1h-1zM68 48h3v1h-3zM77 48h1v1h-1zM76 49h1v1h-1zM64 52h1v1h-1zM75 57h1v1h-1zM78 57h1v1h-1zM76 58h1v1h-1zM77 59h1v1h-1zM82 59h1v1h-1zM84 60h1v1h-1zM86 62h1v1h-1zM66 84h1v1h-1zM71 84h1v1h-1zM65 85h1v1h-1zM66 86h1v1h-1zM79 86h1v1h-1zM73 90h1v1h-1zM113 95h1v1h-1zM117 96h1v1h-1zM121 97h1v1h-1zM103 99h1v1h-1z"/><path fill="#6e6e6e" d="M39 25h1v1h-1zM20 27h1v1h-1zM49 27h1v1h-1zM14 30h1v1h-1zM11 31h1v1h-1zM4 32h1v1h-1zM39 35h1v1h-1zM42 36h1v1h-1zM14 37h1v1h-1zM47 39h1v1h-1zM56 42h1v1h-1zM60 45h1v1h-1zM62 46h1v1h-1zM65 47h1v1h-1zM72 48h1v1h-1zM76 57h2v1h-2zM80 58h1v1h-1zM79 60h1v1h-1zM82 61h1v1h-1zM85 61h1v1h-1zM67 84h4v1h-4zM75 85h1v1h-1zM69 88h1v1h-1zM71 89h1v1h-1zM88 89h1v1h-1zM85 94h1v1h-1zM108 94h1v1h-1zM92 96h1v1h-1zM127 98h1v1h-1zM134 99h1v1h-1z"/><path fill="#707070" d="M25 25h1v1h-1zM53 30h1v1h-1zM5 32h1v1h-1zM21 35h1v1h-1zM17 36h1v1h-1zM61 36h1v1h-1zM44 37h1v1h-1zM11 38h1v1h-1zM64 38h1v1h-1zM9 39h1v1h-1zM50 40h1v1h-1zM67 40h1v1h-1zM53 41h1v1h-1zM59 44h1v1h-1zM77 58h1v1h-1zM79 58h1v1h-1zM78 59h1v1h-1zM81 59h1v1h-1zM80 60h1v1h-1zM83 60h1v1h-1zM83 61h2v1h-2zM66 85h1v1h-1zM82 87h1v1h-1zM85 88h1v1h-1zM76 91h1v1h-1zM95 91h1v1h-1zM99 92h1v1h-1zM82 93h1v1h-1zM103 93h1v1h-1zM107 100h1v1h-1zM114 102h1v1h-1z"/><path fill="#727272" d="M43 25h1v1h-1zM50 28h1v1h-1zM54 31h1v1h-1zM6 32h1v1h-1zM58 34h1v1h-1zM54 41h1v1h-1zM58 43h1v1h-1zM61 45h1v1h-1zM63 46h1v1h-1zM66 47h1v1h-1zM76 47h1v1h-1zM78 58h1v1h-1zM79 59h2v1h-2zM81 60h2v1h-2zM74 85h1v1h-1zM78 86h1v1h-1zM68 87h1v1h-1zM91 90h1v1h-1zM79 92h1v1h-1zM96 97h1v1h-1zM126 98h1v1h-1zM133 99h1v1h-1z"/><path fill="#747474" d="M26 25h1v1h-1zM45 25h1v1h-1zM22 26h1v1h-1zM47 26h1v1h-1zM12 31h1v1h-1zM7 32h1v1h-1zM0 33h2v1h-2zM46 38h1v1h-1zM48 39h1v1h-1zM7 40h1v1h-1zM51 40h1v1h-1zM5 41h1v1h-1zM3 42h1v1h-1zM1 43h1v1h-1zM72 43h1v1h-1zM73 48h1v1h-1zM76 48h1v1h-1zM67 85h1v1h-1zM67 86h1v1h-1zM107 94h1v1h-1zM89 95h1v1h-1zM112 95h1v1h-1zM116 96h1v1h-1zM120 97h1v1h-1zM111 101h1v1h-1z"/><path fill="#767676" d="M27 25h1v1h-1zM38 25h1v1h-1zM44 25h1v1h-1zM19 28h1v1h-1zM17 29h1v1h-1zM15 30h1v1h-1zM8 32h2v1h-2zM55 32h1v1h-1zM2 33h1v1h-1zM59 35h1v1h-1zM16 36h1v1h-1zM13 37h1v1h-1zM62 37h1v1h-1zM65 39h1v1h-1zM55 41h1v1h-1zM57 42h1v1h-1zM70 42h1v1h-1zM64 46h1v1h-1zM67 47h1v1h-1zM73 85h1v1h-1zM81 87h1v1h-1zM70 88h1v1h-1zM74 90h1v1h-1zM100 98h1v1h-1z"/><path fill="#787878" d="M28 25h1v1h-1zM48 27h1v1h-1zM51 29h1v1h-1zM3 33h1v1h-1zM20 35h1v1h-1zM40 35h1v1h-1zM10 38h1v1h-1zM49 39h1v1h-1zM68 41h1v1h-1zM60 44h1v1h-1zM62 45h1v1h-1zM75 46h1v1h-1zM68 47h1v1h-1zM74 48h2v1h-2zM68 85h1v1h-1zM77 86h1v1h-1zM84 88h1v1h-1zM72 89h1v1h-1zM87 89h1v1h-1zM77 91h1v1h-1zM94 91h1v1h-1zM98 92h1v1h-1zM102 93h1v1h-1zM86 94h1v1h-1zM125 98h1v1h-1zM132 99h1v1h-1zM117 103h1v1h-1z"/><path fill="#7a7a7a" d="M13 31h1v1h-1zM10 32h1v1h-1zM4 33h1v1h-1zM56 33h1v1h-1zM8 39h1v1h-1zM52 40h1v1h-1zM0 43h1v1h-1zM59 43h1v1h-1zM65 46h1v1h-1zM69 47h1v1h-1zM69 85h1v1h-1zM72 85h1v1h-1zM68 86h1v1h-1zM69 87h1v1h-1zM90 90h1v1h-1zM80 92h1v1h-1zM83 93h1v1h-1zM93 96h1v1h-1zM104 99h1v1h-1zM120 104h1v1h-1z"/><path fill="#7c7c7c" d="M29 25h1v1h-1zM21 27h1v1h-1zM52 30h1v1h-1zM5 33h1v1h-1zM43 36h1v1h-1zM60 36h1v1h-1zM12 37h1v1h-1zM45 37h1v1h-1zM47 38h1v1h-1zM53 40h1v1h-1zM56 41h1v1h-1zM73 44h1v1h-1zM63 45h1v1h-1zM74 45h1v1h-1zM70 47h1v1h-1zM70 85h2v1h-2zM80 87h1v1h-1zM106 94h1v1h-1zM111 95h1v1h-1zM119 97h1v1h-1zM131 99h1v1h-1z"/><path fill="#7e7e7e" d="M30 25h1v1h-1zM37 25h1v1h-1zM23 26h1v1h-1zM41 26h1v1h-1zM46 26h1v1h-1zM49 28h1v1h-1zM16 30h1v1h-1zM11 32h1v1h-1zM0 34h1v1h-1zM26 34h2v1h-2zM35 34h1v1h-1zM19 35h1v1h-1zM15 36h1v1h-1zM63 38h1v1h-1zM50 39h1v1h-1zM6 40h1v1h-1zM66 40h1v1h-1zM4 41h1v1h-1zM2 42h1v1h-1zM58 42h1v1h-1zM61 44h1v1h-1zM66 46h1v1h-1zM71 47h1v1h-1zM75 47h1v1h-1zM69 86h1v1h-1zM76 86h1v1h-1zM75 90h1v1h-1zM90 95h1v1h-1zM115 96h1v1h-1zM97 97h1v1h-1zM124 98h1v1h-1zM108 100h1v1h-1z"/><path fill="#808080" d="M31 25h1v1h-1zM42 26h1v1h-1zM18 29h1v1h-1zM53 31h1v1h-1zM6 33h1v1h-1zM1 34h1v1h-1zM28 34h1v1h-1zM34 34h1v1h-1zM36 34h1v1h-1zM57 34h1v1h-1zM41 35h1v1h-1zM54 40h1v1h-1zM69 42h1v1h-1zM71 43h1v1h-1zM71 88h1v1h-1zM83 88h1v1h-1zM73 89h1v1h-1zM93 91h1v1h-1zM97 92h1v1h-1zM101 93h1v1h-1z"/><path fill="#828282" d="M32 25h1v1h-1zM36 25h1v1h-1zM50 29h1v1h-1zM14 31h1v1h-1zM7 33h1v1h-1zM2 34h1v1h-1zM25 34h1v1h-1zM29 34h1v1h-1zM32 34h2v1h-2zM9 38h1v1h-1zM48 38h1v1h-1zM64 45h1v1h-1zM67 46h1v1h-1zM72 47h1v1h-1zM70 86h1v1h-1zM75 86h1v1h-1zM70 87h1v1h-1zM79 87h1v1h-1zM86 89h1v1h-1zM89 90h1v1h-1zM78 91h1v1h-1zM87 94h1v1h-1zM110 95h1v1h-1zM101 98h1v1h-1zM130 99h1v1h-1z"/><path fill="#848484" d="M33 25h1v1h-1zM40 26h1v1h-1zM43 26h1v1h-1zM45 26h1v1h-1zM47 27h1v1h-1zM20 28h1v1h-1zM54 32h1v1h-1zM8 33h1v1h-1zM3 34h1v1h-1zM31 34h1v1h-1zM18 35h1v1h-1zM58 35h1v1h-1zM14 36h1v1h-1zM11 37h1v1h-1zM61 37h1v1h-1zM51 39h1v1h-1zM64 39h1v1h-1zM57 41h1v1h-1zM67 41h1v1h-1zM60 43h1v1h-1zM62 44h1v1h-1zM74 86h1v1h-1zM81 92h1v1h-1zM84 93h1v1h-1zM105 94h1v1h-1zM123 98h1v1h-1zM112 101h1v1h-1zM115 102h1v1h-1z"/><path fill="#868686" d="M34 25h2v1h-2zM24 26h1v1h-1zM44 26h1v1h-1zM12 32h1v1h-1zM9 33h1v1h-1zM4 34h1v1h-1zM24 34h1v1h-1zM30 34h1v1h-1zM37 34h1v1h-1zM46 37h1v1h-1zM7 39h1v1h-1zM55 40h1v1h-1zM68 46h1v1h-1zM73 47h2v1h-2zM71 86h3v1h-3zM78 87h1v1h-1zM72 88h1v1h-1zM82 88h1v1h-1zM76 90h1v1h-1zM94 96h1v1h-1zM118 97h1v1h-1zM136 100h3v1h-3z"/><path fill="#888888" d="M48 28h1v1h-1zM51 30h1v1h-1zM55 33h1v1h-1zM5 34h1v1h-1zM44 36h1v1h-1zM49 38h1v1h-1zM52 39h1v1h-1zM5 40h1v1h-1zM59 42h1v1h-1zM72 44h1v1h-1zM65 45h1v1h-1zM74 46h1v1h-1zM71 87h1v1h-1zM74 89h1v1h-1zM92 91h1v1h-1zM96 92h1v1h-1zM100 93h1v1h-1zM114 96h1v1h-1zM105 99h1v1h-1zM129 99h1v1h-1z"/><path fill="#8a8a8a" d="M17 30h1v1h-1zM15 31h1v1h-1zM10 33h1v1h-1zM23 34h1v1h-1zM0 35h2v1h-2zM17 35h1v1h-1zM59 36h1v1h-1zM62 38h1v1h-1zM65 40h1v1h-1zM3 41h1v1h-1zM1 42h1v1h-1zM61 43h1v1h-1zM70 43h1v1h-1zM63 44h1v1h-1zM69 46h1v1h-1zM77 87h1v1h-1zM85 89h1v1h-1zM88 90h1v1h-1zM79 91h1v1h-1zM104 94h1v1h-1zM91 95h1v1h-1zM109 95h1v1h-1zM98 97h1v1h-1zM122 98h1v1h-1zM121 104h1v1h-1z"/><path fill="#8c8c8c" d="M25 26h1v1h-1zM39 26h1v1h-1zM46 27h1v1h-1zM49 29h1v1h-1zM52 31h1v1h-1zM13 32h1v1h-1zM6 34h1v1h-1zM38 34h1v1h-1zM56 34h1v1h-1zM2 35h1v1h-1zM42 35h1v1h-1zM13 36h1v1h-1zM10 37h1v1h-1zM53 39h1v1h-1zM56 40h1v1h-1zM68 42h1v1h-1zM66 45h1v1h-1zM73 45h1v1h-1zM70 46h1v1h-1zM72 87h1v1h-1zM73 88h1v1h-1zM81 88h1v1h-1zM82 92h1v1h-1zM88 94h1v1h-1zM109 100h1v1h-1zM135 100h1v1h-1z"/><path fill="#8e8e8e" d="M22 27h1v1h-1zM19 29h1v1h-1zM7 34h1v1h-1zM3 35h1v1h-1zM47 37h1v1h-1zM8 38h1v1h-1zM50 38h1v1h-1zM58 41h1v1h-1zM71 46h3v1h-3zM73 87h4v1h-4zM75 89h1v1h-1zM77 90h1v1h-1zM85 93h1v1h-1zM128 99h1v1h-1z"/><path fill="#909090" d="M26 26h1v1h-1zM53 32h1v1h-1zM11 33h1v1h-1zM8 34h1v1h-1zM22 34h1v1h-1zM4 35h1v1h-1zM16 35h1v1h-1zM57 35h1v1h-1zM60 37h1v1h-1zM6 39h1v1h-1zM54 39h1v1h-1zM66 41h1v1h-1zM0 42h1v1h-1zM60 42h1v1h-1zM64 44h1v1h-1zM71 44h1v1h-1zM67 45h1v1h-1zM74 88h1v1h-1zM80 88h1v1h-1zM84 89h1v1h-1zM91 91h1v1h-1zM95 92h1v1h-1zM99 93h1v1h-1zM108 95h1v1h-1zM95 96h1v1h-1zM113 96h1v1h-1zM117 97h1v1h-1zM102 98h1v1h-1zM118 103h1v1h-1z"/><path fill="#929292" d="M47 28h1v1h-1zM50 30h1v1h-1zM16 31h1v1h-1zM14 32h1v1h-1zM5 35h1v1h-1zM0 36h1v1h-1zM12 36h1v1h-1zM45 36h1v1h-1zM63 39h1v1h-1zM4 40h1v1h-1zM57 40h1v1h-1zM62 43h1v1h-1zM69 43h1v1h-1zM68 45h1v1h-1zM72 45h1v1h-1zM87 90h1v1h-1zM80 91h1v1h-1zM103 94h1v1h-1zM121 98h1v1h-1zM127 99h1v1h-1zM134 100h1v1h-1z"/><path fill="#949494" d="M27 26h1v1h-1zM45 27h1v1h-1zM54 33h1v1h-1zM9 34h1v1h-1zM21 34h1v1h-1zM39 34h1v1h-1zM1 36h2v1h-2zM48 37h1v1h-1zM51 38h1v1h-1zM55 39h1v1h-1zM2 41h1v1h-1zM67 42h1v1h-1zM65 44h1v1h-1zM69 45h3v1h-3zM75 88h1v1h-1zM79 88h1v1h-1zM76 89h1v1h-1zM78 90h1v1h-1zM83 92h1v1h-1zM92 95h1v1h-1z"/><path fill="#969696" d="M38 26h1v1h-1zM21 28h1v1h-1zM48 29h1v1h-1zM18 30h1v1h-1zM51 31h1v1h-1zM12 33h1v1h-1zM55 34h1v1h-1zM6 35h1v1h-1zM15 35h1v1h-1zM3 36h1v1h-1zM58 36h1v1h-1zM9 37h1v1h-1zM61 38h1v1h-1zM64 40h1v1h-1zM59 41h1v1h-1zM63 43h1v1h-1zM66 44h1v1h-1zM70 44h1v1h-1zM76 88h3v1h-3zM83 89h1v1h-1zM90 91h1v1h-1zM94 92h1v1h-1zM86 93h1v1h-1zM89 94h1v1h-1zM99 97h1v1h-1zM106 99h1v1h-1zM133 100h1v1h-1zM113 101h1v1h-1zM122 104h1v1h-1z"/><path fill="#989898" d="M28 26h1v1h-1zM44 27h1v1h-1zM10 34h1v1h-1zM7 35h1v1h-1zM43 35h1v1h-1zM4 36h1v1h-1zM11 36h1v1h-1zM7 38h1v1h-1zM52 38h1v1h-1zM61 42h1v1h-1zM68 43h1v1h-1zM67 44h3v1h-3zM77 89h1v1h-1zM82 89h1v1h-1zM86 90h1v1h-1zM81 91h1v1h-1zM98 93h1v1h-1zM107 95h1v1h-1zM112 96h1v1h-1zM126 99h1v1h-1z"/><path fill="#9a9a9a" d="M23 27h1v1h-1zM42 27h2v1h-2zM15 32h1v1h-1zM52 32h1v1h-1zM20 34h1v1h-1zM8 35h1v1h-1zM56 35h1v1h-1zM5 36h1v1h-1zM0 37h2v1h-2zM49 37h1v1h-1zM59 37h1v1h-1zM53 38h1v1h-1zM5 39h1v1h-1zM56 39h1v1h-1zM3 40h1v1h-1zM58 40h1v1h-1zM65 41h1v1h-1zM64 43h1v1h-1zM78 89h1v1h-1zM79 90h1v1h-1zM102 94h1v1h-1zM116 97h1v1h-1zM110 100h1v1h-1z"/><path fill="#9c9c9c" d="M29 26h1v1h-1zM41 27h1v1h-1zM46 28h1v1h-1zM20 29h1v1h-1zM49 30h1v1h-1zM17 31h1v1h-1zM13 33h1v1h-1zM11 34h1v1h-1zM19 34h1v1h-1zM40 34h1v1h-1zM14 35h1v1h-1zM6 36h1v1h-1zM46 36h1v1h-1zM2 37h1v1h-1zM62 39h1v1h-1zM1 41h1v1h-1zM60 41h1v1h-1zM62 42h1v1h-1zM66 42h1v1h-1zM65 43h1v1h-1zM67 43h1v1h-1zM79 89h3v1h-3zM89 91h1v1h-1zM84 92h1v1h-1zM93 92h1v1h-1zM96 96h1v1h-1zM120 98h1v1h-1zM132 100h1v1h-1zM116 102h1v1h-1z"/><path fill="#9e9e9e" d="M50 31h1v1h-1zM53 33h1v1h-1zM9 35h1v1h-1zM7 36h1v1h-1zM10 36h1v1h-1zM57 36h1v1h-1zM3 37h1v1h-1zM8 37h1v1h-1zM50 37h1v1h-1zM6 38h1v1h-1zM54 38h1v1h-1zM60 38h1v1h-1zM57 39h1v1h-1zM66 43h1v1h-1zM80 90h1v1h-1zM85 90h1v1h-1zM82 91h1v1h-1zM87 93h1v1h-1zM97 93h1v1h-1zM106 95h1v1h-1zM111 96h1v1h-1zM103 98h1v1h-1zM125 99h1v1h-1z"/><path fill="#a0a0a0" d="M30 26h1v1h-1zM37 26h1v1h-1zM47 29h1v1h-1zM18 34h1v1h-1zM54 34h1v1h-1zM13 35h1v1h-1zM4 37h2v1h-2zM0 38h2v1h-2zM55 38h1v1h-1zM4 39h1v1h-1zM59 40h1v1h-1zM63 40h1v1h-1zM0 41h1v1h-1zM61 41h1v1h-1zM64 41h1v1h-1zM63 42h3v1h-3zM81 90h1v1h-1zM84 90h1v1h-1zM90 94h1v1h-1zM101 94h1v1h-1zM93 95h1v1h-1z"/><path fill="#a2a2a2" d="M31 26h1v1h-1zM24 27h1v1h-1zM16 32h1v1h-1zM51 32h1v1h-1zM14 33h1v1h-1zM12 34h1v1h-1zM10 35h1v1h-1zM12 35h1v1h-1zM44 35h1v1h-1zM55 35h1v1h-1zM8 36h2v1h-2zM47 36h1v1h-1zM6 37h2v1h-2zM51 37h1v1h-1zM58 37h1v1h-1zM2 38h2v1h-2zM5 38h1v1h-1zM56 38h1v1h-1zM61 39h1v1h-1zM2 40h1v1h-1zM82 90h2v1h-2zM88 91h1v1h-1zM85 92h1v1h-1zM92 92h1v1h-1zM100 97h1v1h-1zM115 97h1v1h-1zM131 100h1v1h-1zM123 104h1v1h-1z"/><path fill="#a4a4a4" d="M40 27h1v1h-1zM45 28h1v1h-1zM19 30h1v1h-1zM48 30h1v1h-1zM52 33h1v1h-1zM17 34h1v1h-1zM41 34h1v1h-1zM11 35h1v1h-1zM56 36h1v1h-1zM52 37h1v1h-1zM4 38h1v1h-1zM59 38h1v1h-1zM3 39h1v1h-1zM58 39h1v1h-1zM60 40h1v1h-1zM62 40h1v1h-1zM62 41h2v1h-2zM83 91h1v1h-1zM96 93h1v1h-1zM105 95h1v1h-1zM119 98h1v1h-1zM107 99h1v1h-1z"/><path fill="#a6a6a6" d="M32 26h1v1h-1zM36 26h1v1h-1zM13 34h1v1h-1zM16 34h1v1h-1zM53 34h1v1h-1zM54 35h1v1h-1zM48 36h1v1h-1zM53 37h5v1h-5zM57 38h2v1h-2zM0 39h3v1h-3zM59 39h2v1h-2zM1 40h1v1h-1zM61 40h1v1h-1zM84 91h1v1h-1zM86 91h2v1h-2zM91 92h1v1h-1zM88 93h1v1h-1zM100 94h1v1h-1zM97 96h1v1h-1zM110 96h1v1h-1zM124 99h1v1h-1z"/><path fill="#a8a8a8" d="M33 26h1v1h-1zM25 27h1v1h-1zM22 28h1v1h-1zM18 31h1v1h-1zM49 31h1v1h-1zM15 33h1v1h-1zM14 34h2v1h-2zM49 36h1v1h-1zM55 36h1v1h-1zM0 40h1v1h-1zM85 91h1v1h-1zM86 92h1v1h-1zM91 94h1v1h-1zM94 95h1v1h-1zM130 100h1v1h-1zM114 101h1v1h-1zM136 101h3v1h-3zM119 103h1v1h-1z"/><path fill="#aaaaaa" d="M34 26h2v1h-2zM44 28h1v1h-1zM46 29h1v1h-1zM50 32h1v1h-1zM27 33h1v1h-1zM35 33h1v1h-1zM51 33h1v1h-1zM52 34h1v1h-1zM45 35h1v1h-1zM53 35h1v1h-1zM50 36h1v1h-1zM53 36h2v1h-2zM87 92h1v1h-1zM90 92h1v1h-1zM95 93h1v1h-1zM104 95h1v1h-1zM114 97h1v1h-1zM104 98h1v1h-1zM111 100h1v1h-1z"/><path fill="#acacac" d="M17 32h1v1h-1zM26 33h1v1h-1zM28 33h1v1h-1zM34 33h1v1h-1zM36 33h1v1h-1zM51 36h2v1h-2zM88 92h2v1h-2zM89 93h1v1h-1zM99 94h1v1h-1zM109 96h1v1h-1zM123 99h1v1h-1zM124 104h1v1h-1z"/><path fill="#aeaeae" d="M26 27h1v1h-1zM39 27h1v1h-1zM21 29h1v1h-1zM47 30h1v1h-1zM16 33h1v1h-1zM25 33h1v1h-1zM29 33h1v1h-1zM32 33h2v1h-2zM42 34h1v1h-1zM51 34h1v1h-1zM46 35h1v1h-1zM52 35h1v1h-1zM94 93h1v1h-1zM92 94h1v1h-1zM101 97h1v1h-1zM118 98h1v1h-1zM129 100h1v1h-1zM135 101h1v1h-1z"/><path fill="#b0b0b0" d="M43 28h1v1h-1zM48 31h1v1h-1zM49 32h1v1h-1zM24 33h1v1h-1zM30 33h2v1h-2zM37 33h1v1h-1zM50 33h1v1h-1zM51 35h1v1h-1zM90 93h1v1h-1zM93 93h1v1h-1zM98 94h1v1h-1zM95 95h1v1h-1zM103 95h1v1h-1zM98 96h1v1h-1zM108 99h1v1h-1z"/><path fill="#b2b2b2" d="M45 29h1v1h-1zM20 30h1v1h-1zM17 33h1v1h-1zM50 34h1v1h-1zM47 35h4v1h-4zM91 93h2v1h-2zM108 96h1v1h-1zM113 97h1v1h-1z"/><path fill="#b4b4b4" d="M27 27h1v1h-1zM23 28h1v1h-1zM42 28h1v1h-1zM19 31h1v1h-1zM18 33h1v1h-1zM23 33h1v1h-1zM49 33h1v1h-1zM43 34h1v1h-1zM93 94h1v1h-1zM97 94h1v1h-1zM102 95h1v1h-1zM122 99h1v1h-1zM128 100h1v1h-1zM134 101h1v1h-1zM125 104h1v1h-1z"/><path fill="#b6b6b6" d="M46 30h1v1h-1zM47 31h1v1h-1zM18 32h1v1h-1zM48 32h1v1h-1zM19 33h4v1h-4zM38 33h1v1h-1zM49 34h1v1h-1zM94 94h3v1h-3zM96 95h1v1h-1zM107 96h1v1h-1zM105 98h1v1h-1zM117 98h1v1h-1zM117 102h1v1h-1z"/><path fill="#b8b8b8" d="M28 27h1v1h-1zM44 34h1v1h-1zM101 95h1v1h-1zM99 96h1v1h-1zM102 97h1v1h-1zM112 97h1v1h-1z"/><path fill="#bababa" d="M38 27h1v1h-1zM41 28h1v1h-1zM44 29h1v1h-1zM48 33h1v1h-1zM45 34h1v1h-1zM48 34h1v1h-1zM97 95h1v1h-1zM100 95h1v1h-1zM106 96h1v1h-1zM121 99h1v1h-1zM112 100h1v1h-1zM127 100h1v1h-1zM133 101h1v1h-1z"/><path fill="#bcbcbc" d="M24 28h1v1h-1zM47 32h1v1h-1zM39 33h1v1h-1zM46 34h2v1h-2zM98 95h2v1h-2zM109 99h1v1h-1zM120 103h1v1h-1zM126 104h1v1h-1z"/><path fill="#bebebe" d="M29 27h1v1h-1zM22 29h1v1h-1zM45 30h1v1h-1zM46 31h1v1h-1zM19 32h1v1h-1zM47 33h1v1h-1zM100 96h1v1h-1zM105 96h1v1h-1zM111 97h1v1h-1zM116 98h1v1h-1zM115 101h1v1h-1z"/><path fill="#c0c0c0" d="M20 31h1v1h-1zM101 96h1v1h-1zM104 96h1v1h-1zM103 97h1v1h-1zM106 98h1v1h-1zM126 100h1v1h-1zM132 101h1v1h-1z"/><path fill="#c2c2c2" d="M21 30h1v1h-1zM46 32h1v1h-1zM40 33h1v1h-1zM46 33h1v1h-1zM102 96h2v1h-2zM110 97h1v1h-1zM120 99h1v1h-1zM127 104h1v1h-1z"/><path fill="#c4c4c4" d="M30 27h1v1h-1zM37 27h1v1h-1zM25 28h1v1h-1zM40 28h1v1h-1zM43 29h1v1h-1zM45 31h1v1h-1zM20 32h1v1h-1zM104 97h1v1h-1zM109 97h1v1h-1zM115 98h1v1h-1zM137 102h2v1h-2z"/><path fill="#c6c6c6" d="M44 30h1v1h-1zM41 33h1v1h-1zM45 33h1v1h-1zM107 98h1v1h-1zM110 99h1v1h-1zM125 100h1v1h-1zM131 101h1v1h-1zM136 102h1v1h-1z"/><path fill="#c8c8c8" d="M31 27h1v1h-1zM45 32h1v1h-1zM44 33h1v1h-1zM105 97h4v1h-4zM114 98h1v1h-1zM113 100h1v1h-1zM128 104h1v1h-1z"/><path fill="#cacaca" d="M32 27h1v1h-1zM26 28h1v1h-1zM23 29h1v1h-1zM21 32h1v1h-1zM42 33h2v1h-2zM119 99h1v1h-1zM121 103h1v1h-1z"/><path fill="#cccccc" d="M42 29h1v1h-1zM21 31h1v1h-1zM44 31h1v1h-1zM108 98h1v1h-1zM113 98h1v1h-1zM124 100h1v1h-1zM130 101h1v1h-1zM135 102h1v1h-1zM129 104h1v1h-1z"/><path fill="#cecece" d="M33 27h1v1h-1zM36 27h1v1h-1zM44 32h1v1h-1zM109 98h1v1h-1zM112 98h1v1h-1zM118 102h1v1h-1z"/><path fill="#d0d0d0" d="M34 27h2v1h-2zM27 28h1v1h-1zM39 28h1v1h-1zM22 30h1v1h-1zM43 30h1v1h-1zM22 32h1v1h-1zM110 98h2v1h-2zM111 99h1v1h-1zM134 102h1v1h-1zM130 104h1v1h-1z"/><path fill="#d2d2d2" d="M24 29h1v1h-1zM23 32h5v1h-5zM118 99h1v1h-1zM123 100h1v1h-1zM116 101h1v1h-1zM129 101h1v1h-1zM136 104h3v1h-3z"/><path fill="#d4d4d4" d="M41 29h1v1h-1zM28 32h1v1h-1zM43 32h1v1h-1zM114 100h1v1h-1zM137 103h2v1h-2zM131 104h1v1h-1zM135 104h1v1h-1z"/><path fill="#d6d6d6" d="M28 28h1v1h-1zM22 31h1v1h-1zM43 31h1v1h-1zM29 32h1v1h-1zM112 99h1v1h-1zM117 99h1v1h-1zM128 101h1v1h-1zM133 102h1v1h-1zM122 103h1v1h-1zM136 103h1v1h-1zM132 104h3v1h-3z"/><path fill="#d8d8d8" d="M30 32h7v1h-7zM113 99h1v1h-1zM122 100h1v1h-1z"/><path fill="#dadada" d="M25 29h1v1h-1zM23 30h1v1h-1zM42 30h1v1h-1zM37 32h1v1h-1zM42 32h1v1h-1zM114 99h3v1h-3zM135 103h1v1h-1z"/><path fill="#dcdcdc" d="M38 28h1v1h-1zM23 31h1v1h-1zM38 32h1v1h-1zM127 101h1v1h-1zM132 102h1v1h-1z"/><path fill="#dedede" d="M29 28h1v1h-1zM40 29h1v1h-1zM39 32h3v1h-3zM115 100h1v1h-1zM121 100h1v1h-1zM123 103h1v1h-1z"/><path fill="#e0e0e0" d="M26 29h1v1h-1zM24 30h1v1h-1zM24 31h1v1h-1zM42 31h1v1h-1zM126 101h1v1h-1zM119 102h1v1h-1zM131 102h1v1h-1zM134 103h1v1h-1z"/><path fill="#e4e4e4" d="M30 28h1v1h-1zM41 30h1v1h-1zM25 31h1v1h-1zM116 100h1v1h-1zM120 100h1v1h-1zM117 101h1v1h-1zM125 101h1v1h-1zM130 102h1v1h-1zM124 103h1v1h-1zM133 103h1v1h-1z"/><path fill="#e6e6e6" d="M37 28h1v1h-1zM27 29h1v1h-1zM25 30h1v1h-1zM26 31h1v1h-1zM41 31h1v1h-1z"/><path fill="#e8e8e8" d="M31 28h1v1h-1zM117 100h3v1h-3zM124 101h1v1h-1zM129 102h1v1h-1zM125 103h1v1h-1zM132 103h1v1h-1z"/><path fill="#eaeaea" d="M39 29h1v1h-1zM26 30h1v1h-1zM27 31h1v1h-1zM131 103h1v1h-1z"/><path fill="#ececec" d="M32 28h1v1h-1zM28 29h1v1h-1zM40 30h1v1h-1zM28 31h1v1h-1zM40 31h1v1h-1zM128 102h1v1h-1zM126 103h1v1h-1zM130 103h1v1h-1z"/><path fill="#eeeeee" d="M36 28h1v1h-1zM118 101h1v1h-1zM123 101h1v1h-1zM120 102h1v1h-1zM127 103h3v1h-3z"/><path fill="#f0f0f0" d="M33 28h1v1h-1zM27 30h1v1h-1zM29 31h1v1h-1zM39 31h1v1h-1zM122 101h1v1h-1zM127 102h1v1h-1z"/><path fill="#f2f2f2" d="M34 28h2v1h-2zM126 102h1v1h-1z"/><path fill="#f4f4f4" d="M29 29h1v1h-1zM38 29h1v1h-1zM28 30h1v1h-1zM39 30h1v1h-1zM30 31h1v1h-1zM38 31h1v1h-1zM119 101h1v1h-1zM121 101h1v1h-1zM121 102h1v1h-1zM125 102h1v1h-1z"/><path fill="#f6f6f6" d="M31 31h1v1h-1zM37 31h1v1h-1zM120 101h1v1h-1zM124 102h1v1h-1z"/><path fill="#f8f8f8" d="M32 31h5v1h-5zM122 102h2v1h-2z"/><path fill="#fafafa" d="M30 29h1v1h-1zM29 30h1v1h-1z"/><path fill="#fcfcfc" d="M38 30h1v1h-1z"/><path fill="#fefefe" d="M31 29h7v1h-7zM30 30h8v1h-8z"/></g></g></g>
<path d="M367.4 11.7V1027.5M593.1 11.7V1027.5M818.9 11.7V1027.5M1044.6 11.7V1027.5M1270.3 11.7V1027.5M141.7 209.0H1496.4M141.7 489.0H1496.4M141.7 768.0H1496.4" stroke="#000" stroke-width="1.9" stroke-dasharray="1.75 2.02" fill="none"/>
<polyline points="360.3,147.0 379.1,805.2 593.7,644.3 593.7,34.4 819.1,90.0 819.1,666.0 1044.8,1004.6 1044.8,395.4 1271.0,349.3 1271.0,952.6 768.5,963.0 141.7,963.0" fill="none" stroke="#000" stroke-width="3.4" stroke-linejoin="miter"/>
<circle cx="360.3" cy="147.0" r="18.6"/>
<circle cx="381.5" cy="525.6" r="18.6"/>
<circle cx="381.7" cy="575.8" r="18.6"/>
<circle cx="379.9" cy="620.4" r="18.6"/>
<circle cx="382.8" cy="667.3" r="18.6"/>
<circle cx="381.2" cy="712.6" r="18.6"/>
<circle cx="379.1" cy="805.2" r="18.6"/>
<circle cx="593.2" cy="271.4" r="18.6"/>
<circle cx="589.2" cy="321.9" r="18.6"/>
<circle cx="581.6" cy="362.2" r="18.6"/>
<circle cx="591.6" cy="418.1" r="18.6"/>
<circle cx="595.1" cy="462.2" r="18.6"/>
<circle cx="1045.6" cy="395.4" r="18.6"/>
<circle cx="1045.3" cy="443.3" r="18.6"/>
<circle cx="1047.3" cy="581.2" r="18.6"/>
<circle cx="1050.2" cy="626.4" r="18.6"/>
<circle cx="1049.1" cy="672.5" r="18.6"/>
<circle cx="1079.8" cy="719.3" r="18.6"/>
<circle cx="1285.4" cy="721.3" r="18.6"/>
<circle cx="1279.0" cy="767.5" r="18.6"/>
<circle cx="1279.0" cy="813.9" r="18.6"/>
<circle cx="1272.9" cy="860.0" r="18.6"/>
<circle cx="1272.0" cy="906.2" r="18.6"/>
<circle cx="1269.9" cy="952.6" r="18.6"/>
<circle cx="594.3" cy="135.1" r="16.8" fill="#656565" stroke="#000" stroke-width="3.4"/>
<circle cx="594.3" cy="180.5" r="16.8" fill="#656565" stroke="#000" stroke-width="3.4"/>
<circle cx="595.9" cy="225.1" r="16.8" fill="#656565" stroke="#000" stroke-width="3.4"/>
<circle cx="828.0" cy="209.0" r="16.8" fill="#656565" stroke="#000" stroke-width="3.4"/>
<circle cx="826.1" cy="257.3" r="16.8" fill="#656565" stroke="#000" stroke-width="3.4"/>
<circle cx="822.9" cy="304.9" r="16.8" fill="#656565" stroke="#000" stroke-width="3.4"/>
<circle cx="816.2" cy="399.3" r="16.8" fill="#656565" stroke="#000" stroke-width="3.4"/>
<circle cx="816.7" cy="445.0" r="16.8" fill="#656565" stroke="#000" stroke-width="3.4"/>
<circle cx="820.2" cy="491.2" r="16.8" fill="#656565" stroke="#000" stroke-width="3.4"/>
<circle cx="825.6" cy="538.2" r="16.8" fill="#656565" stroke="#000" stroke-width="3.4"/>
<circle cx="831.0" cy="583.4" r="16.8" fill="#656565" stroke="#000" stroke-width="3.4"/>
<circle cx="827.8" cy="632.3" r="16.8" fill="#656565" stroke="#000" stroke-width="3.4"/>
<circle cx="1045.9" cy="489.5" r="16.8" fill="#656565" stroke="#000" stroke-width="3.4"/>
<circle cx="1046.1" cy="536.2" r="16.8" fill="#656565" stroke="#000" stroke-width="3.4"/>
<circle cx="768.5" cy="962.9" r="16.8" fill="#656565" stroke="#000" stroke-width="3.4"/>
<rect x="141.7" y="11.7" width="1354.7" height="1015.8" fill="none" stroke="#000" stroke-width="3.6"/>
<text x="127.8" y="217.4" text-anchor="end" font-family="DejaVu Sans, Liberation Sans, sans-serif" font-size="30.1">36.5°N</text>
<text x="127.8" y="497.4" text-anchor="end" font-family="DejaVu Sans, Liberation Sans, sans-serif" font-size="30.1">36°N</text>
<text x="127.8" y="776.4" text-anchor="end" font-family="DejaVu Sans, Liberation Sans, sans-serif" font-size="30.1">35.5°N</text>
<text x="141.7" y="1064.6" text-anchor="middle" font-family="DejaVu Sans, Liberation Sans, sans-serif" font-size="30.1">143°E</text>
<text x="367.4" y="1064.6" text-anchor="middle" font-family="DejaVu Sans, Liberation Sans, sans-serif" font-size="30.1">143.5°E</text>
<text x="593.1" y="1064.6" text-anchor="middle" font-family="DejaVu Sans, Liberation Sans, sans-serif" font-size="30.1">144°E</text>
<text x="818.9" y="1064.6" text-anchor="middle" font-family="DejaVu Sans, Liberation Sans, sans-serif" font-size="30.1">144.5°E</text>
<text x="1044.6" y="1064.6" text-anchor="middle" font-family="DejaVu Sans, Liberation Sans, sans-serif" font-size="30.1">145°E</text>
<text x="1270.3" y="1064.6" text-anchor="middle" font-family="DejaVu Sans, Liberation Sans, sans-serif" font-size="30.1">145.5°E</text>
<text x="1496.0" y="1064.6" text-anchor="middle" font-family="DejaVu Sans, Liberation Sans, sans-serif" font-size="30.1">146°E</text>
<rect x="1581.6" y="8.8" width="51.9" height="1022.2" fill="url(#cbg)" stroke="#000" stroke-width="2.6"/>
<path d="M1633.5 1031.0H1646" stroke="#000" stroke-width="2.6"/>
<text x="1659.4" y="1039.0" font-family="DejaVu Sans, Liberation Sans, sans-serif" font-size="22">0</text>
<path d="M1633.5 860.6H1646" stroke="#000" stroke-width="2.6"/>
<text x="1659.4" y="868.6" font-family="DejaVu Sans, Liberation Sans, sans-serif" font-size="22">10</text>
<path d="M1633.5 690.3H1646" stroke="#000" stroke-width="2.6"/>
<text x="1659.4" y="698.3" font-family="DejaVu Sans, Liberation Sans, sans-serif" font-size="22">20</text>
<path d="M1633.5 519.9H1646" stroke="#000" stroke-width="2.6"/>
<text x="1659.4" y="527.9" font-family="DejaVu Sans, Liberation Sans, sans-serif" font-size="22">30</text>
<path d="M1633.5 349.5H1646" stroke="#000" stroke-width="2.6"/>
<text x="1659.4" y="357.5" font-family="DejaVu Sans, Liberation Sans, sans-serif" font-size="22">40</text>
<path d="M1633.5 179.2H1646" stroke="#000" stroke-width="2.6"/>
<text x="1659.4" y="187.2" font-family="DejaVu Sans, Liberation Sans, sans-serif" font-size="22">50</text>
<path d="M1633.5 8.8H1646" stroke="#000" stroke-width="2.6"/>
<text x="1659.4" y="16.8" font-family="DejaVu Sans, Liberation Sans, sans-serif" font-size="22">60</text>
<rect x="92.9" y="1167.8" width="765.2" height="765" fill="#eaeaf2"/>
<rect x="946.9" y="1169.2" width="765.1" height="765" fill="#eaeaf2"/>
<path d="M194.2 1167.8V1932.8M315.0 1167.8V1932.8M435.8 1167.8V1932.8M556.6 1167.8V1932.8M677.4 1167.8V1932.8M798.2 1167.8V1932.8M92.9 1923.3H858.1M92.9 1823.2H858.1M92.9 1723.2H858.1M92.9 1623.1H858.1M92.9 1523.0H858.1M92.9 1422.9H858.1M92.9 1322.8H858.1M92.9 1222.7H858.1M952.9 1169.2V1934.2M1070.7 1169.2V1934.2M1188.5 1169.2V1934.2M1306.3 1169.2V1934.2M1424.1 1169.2V1934.2M1541.9 1169.2V1934.2M1659.7 1169.2V1934.2M946.9 1899.5H1712.0M946.9 1757.2H1712.0M946.9 1614.8H1712.0M946.9 1472.5H1712.0M946.9 1330.1H1712.0M946.9 1187.8H1712.0" stroke="#fff" stroke-width="3" fill="none"/>
<g fill="#000" fill-opacity="0.6"><circle cx="345.0" cy="1202.5" r="8.1"/><circle cx="783.1" cy="1316.1" r="8.1"/><circle cx="822.9" cy="1375.9" r="8.1"/><circle cx="492.7" cy="1334.8" r="8.1"/><circle cx="366.7" cy="1357.0" r="8.1"/><circle cx="402.9" cy="1362.1" r="8.1"/><circle cx="616.5" cy="1384.3" r="8.1"/><circle cx="459.9" cy="1394.3" r="8.1"/><circle cx="302.2" cy="1413.5" r="8.1"/><circle cx="540.8" cy="1419.3" r="8.1"/><circle cx="405.5" cy="1421.7" r="8.1"/><circle cx="274.6" cy="1432.0" r="8.1"/><circle cx="762.8" cy="1433.1" r="8.1"/><circle cx="534.3" cy="1436.9" r="8.1"/><circle cx="230.7" cy="1448.3" r="8.1"/><circle cx="339.8" cy="1451.6" r="8.1"/><circle cx="372.5" cy="1448.3" r="8.1"/><circle cx="503.9" cy="1450.9" r="8.1"/><circle cx="513.5" cy="1458.6" r="8.1"/><circle cx="278.6" cy="1464.7" r="8.1"/><circle cx="707.7" cy="1471.7" r="8.1"/><circle cx="417.6" cy="1485.9" r="8.1"/><circle cx="218.6" cy="1503.0" r="8.1"/><circle cx="279.1" cy="1503.9" r="8.1"/><circle cx="397.5" cy="1538.3" r="8.1"/><circle cx="307.8" cy="1549.3" r="8.1"/><circle cx="176.5" cy="1564.3" r="8.1"/><circle cx="512.8" cy="1562.5" r="8.1"/><circle cx="127.7" cy="1607.1" r="8.1"/><circle cx="180.9" cy="1620.4" r="8.1"/><circle cx="212.9" cy="1644.9" r="8.1"/><circle cx="298.9" cy="1648.4" r="8.1"/><circle cx="206.9" cy="1667.1" r="8.1"/><circle cx="403.4" cy="1678.6" r="8.1"/><circle cx="232.8" cy="1694.9" r="8.1"/><circle cx="378.8" cy="1706.1" r="8.1"/><circle cx="345.7" cy="1718.7" r="8.1"/><circle cx="234.9" cy="1765.0" r="8.1"/><circle cx="703.0" cy="1897.0" r="8.1"/><circle cx="1622.6" cy="1209.0" r="8.1"/><circle cx="1136.8" cy="1336.6" r="8.1"/><circle cx="1392.4" cy="1384.5" r="8.1"/><circle cx="1635.2" cy="1388.8" r="8.1"/><circle cx="1564.4" cy="1498.9" r="8.1"/><circle cx="1235.8" cy="1752.2" r="8.1"/><circle cx="1677.1" cy="1770.8" r="8.1"/><circle cx="1361.7" cy="1834.7" r="8.1"/><circle cx="1505.1" cy="1869.9" r="8.1"/><circle cx="1424.0" cy="1895.7" r="8.1"/><circle cx="981.9" cy="1899.4" r="8.1"/><circle cx="1018.4" cy="1899.4" r="8.1"/><circle cx="1024.0" cy="1899.4" r="8.1"/><circle cx="1042.5" cy="1898.4" r="8.1"/><circle cx="1053.1" cy="1899.4" r="8.1"/><circle cx="1069.3" cy="1899.4" r="8.1"/><circle cx="1102.7" cy="1899.4" r="8.1"/><circle cx="1107.3" cy="1899.4" r="8.1"/><circle cx="1117.3" cy="1899.4" r="8.1"/><circle cx="1121.2" cy="1899.4" r="8.1"/><circle cx="1200.9" cy="1899.4" r="8.1"/><circle cx="1221.4" cy="1899.4" r="8.1"/><circle cx="1256.1" cy="1899.4" r="8.1"/><circle cx="1336.6" cy="1898.9" r="8.1"/></g>
<rect x="106.0" y="1181.2" width="152.5" height="73.6" fill="#fff" stroke="#222" stroke-width="1.2"/>
<text x="115.8" y="1210.4" font-family="Liberation Sans, Arial, sans-serif" font-size="26.8" fill="#262626">R = 0.4362</text>
<text x="115.8" y="1238.7" font-family="Liberation Sans, Arial, sans-serif" font-size="26.8" fill="#262626">p = 0.0055</text>
<rect x="960.3" y="1182.7" width="152.5" height="73.8" fill="#fff" stroke="#222" stroke-width="1.2"/>
<text x="970.1" y="1211.6" font-family="Liberation Sans, Arial, sans-serif" font-size="26.8" fill="#262626">R = 0.5960</text>
<text x="970.1" y="1239.9" font-family="Liberation Sans, Arial, sans-serif" font-size="26.8" fill="#262626">p = 0.0017</text>
<text x="194.2" y="1970.5" text-anchor="middle" font-family="Liberation Sans, Arial, sans-serif" font-size="26.8" fill="#262626">15</text>
<text x="315.0" y="1970.5" text-anchor="middle" font-family="Liberation Sans, Arial, sans-serif" font-size="26.8" fill="#262626">20</text>
<text x="435.8" y="1970.5" text-anchor="middle" font-family="Liberation Sans, Arial, sans-serif" font-size="26.8" fill="#262626">25</text>
<text x="556.6" y="1970.5" text-anchor="middle" font-family="Liberation Sans, Arial, sans-serif" font-size="26.8" fill="#262626">30</text>
<text x="677.4" y="1970.5" text-anchor="middle" font-family="Liberation Sans, Arial, sans-serif" font-size="26.8" fill="#262626">35</text>
<text x="798.2" y="1970.5" text-anchor="middle" font-family="Liberation Sans, Arial, sans-serif" font-size="26.8" fill="#262626">40</text>
<text x="74.5" y="1933.1" text-anchor="end" font-family="Liberation Sans, Arial, sans-serif" font-size="26.8" fill="#262626">0.1</text>
<text x="74.5" y="1833.0" text-anchor="end" font-family="Liberation Sans, Arial, sans-serif" font-size="26.8" fill="#262626">0.2</text>
<text x="74.5" y="1733.0" text-anchor="end" font-family="Liberation Sans, Arial, sans-serif" font-size="26.8" fill="#262626">0.3</text>
<text x="74.5" y="1632.9" text-anchor="end" font-family="Liberation Sans, Arial, sans-serif" font-size="26.8" fill="#262626">0.4</text>
<text x="74.5" y="1532.8" text-anchor="end" font-family="Liberation Sans, Arial, sans-serif" font-size="26.8" fill="#262626">0.5</text>
<text x="74.5" y="1432.7" text-anchor="end" font-family="Liberation Sans, Arial, sans-serif" font-size="26.8" fill="#262626">0.6</text>
<text x="74.5" y="1332.6" text-anchor="end" font-family="Liberation Sans, Arial, sans-serif" font-size="26.8" fill="#262626">0.7</text>
<text x="74.5" y="1232.5" text-anchor="end" font-family="Liberation Sans, Arial, sans-serif" font-size="26.8" fill="#262626">0.8</text>
<text x="952.9" y="1972.1" text-anchor="middle" font-family="Liberation Sans, Arial, sans-serif" font-size="26.8" fill="#262626">10</text>
<text x="1070.7" y="1972.1" text-anchor="middle" font-family="Liberation Sans, Arial, sans-serif" font-size="26.8" fill="#262626">15</text>
<text x="1188.5" y="1972.1" text-anchor="middle" font-family="Liberation Sans, Arial, sans-serif" font-size="26.8" fill="#262626">20</text>
<text x="1306.3" y="1972.1" text-anchor="middle" font-family="Liberation Sans, Arial, sans-serif" font-size="26.8" fill="#262626">25</text>
<text x="1424.1" y="1972.1" text-anchor="middle" font-family="Liberation Sans, Arial, sans-serif" font-size="26.8" fill="#262626">30</text>
<text x="1541.9" y="1972.1" text-anchor="middle" font-family="Liberation Sans, Arial, sans-serif" font-size="26.8" fill="#262626">35</text>
<text x="1659.7" y="1972.1" text-anchor="middle" font-family="Liberation Sans, Arial, sans-serif" font-size="26.8" fill="#262626">40</text>
<text x="928.6" y="1909.3" text-anchor="end" font-family="Liberation Sans, Arial, sans-serif" font-size="26.8" fill="#262626">0.0</text>
<text x="928.6" y="1767.0" text-anchor="end" font-family="Liberation Sans, Arial, sans-serif" font-size="26.8" fill="#262626">0.2</text>
<text x="928.6" y="1624.6" text-anchor="end" font-family="Liberation Sans, Arial, sans-serif" font-size="26.8" fill="#262626">0.4</text>
<text x="928.6" y="1482.3" text-anchor="end" font-family="Liberation Sans, Arial, sans-serif" font-size="26.8" fill="#262626">0.6</text>
<text x="928.6" y="1339.9" text-anchor="end" font-family="Liberation Sans, Arial, sans-serif" font-size="26.8" fill="#262626">0.8</text>
<text x="928.6" y="1197.6" text-anchor="end" font-family="Liberation Sans, Arial, sans-serif" font-size="26.8" fill="#262626">1.0</text>
<text x="475.4" y="2006.3" text-anchor="middle" font-family="Liberation Sans, Arial, sans-serif" font-size="29.2" fill="#262626">Lagrangian Betweenness</text>
<text x="1329.4" y="2008.4" text-anchor="middle" font-family="Liberation Sans, Arial, sans-serif" font-size="29.2" fill="#262626">Lagrangian Betweenness</text>
<text transform="translate(21 1550) rotate(-90)" text-anchor="middle" font-family="Liberation Sans, Arial, sans-serif" font-size="29.2" fill="#262626">Evenness</text>
<text x="475.4" y="1151.7" text-anchor="middle" font-family="Liberation Sans, Arial, sans-serif" font-size="37.3" fill="#262626">Microscopy</text>
<text x="1313.6" y="1153.2" text-anchor="middle" font-family="Liberation Sans, Arial, sans-serif" font-size="37.3" fill="#262626">Clades</text>
</svg>
</body></html>
